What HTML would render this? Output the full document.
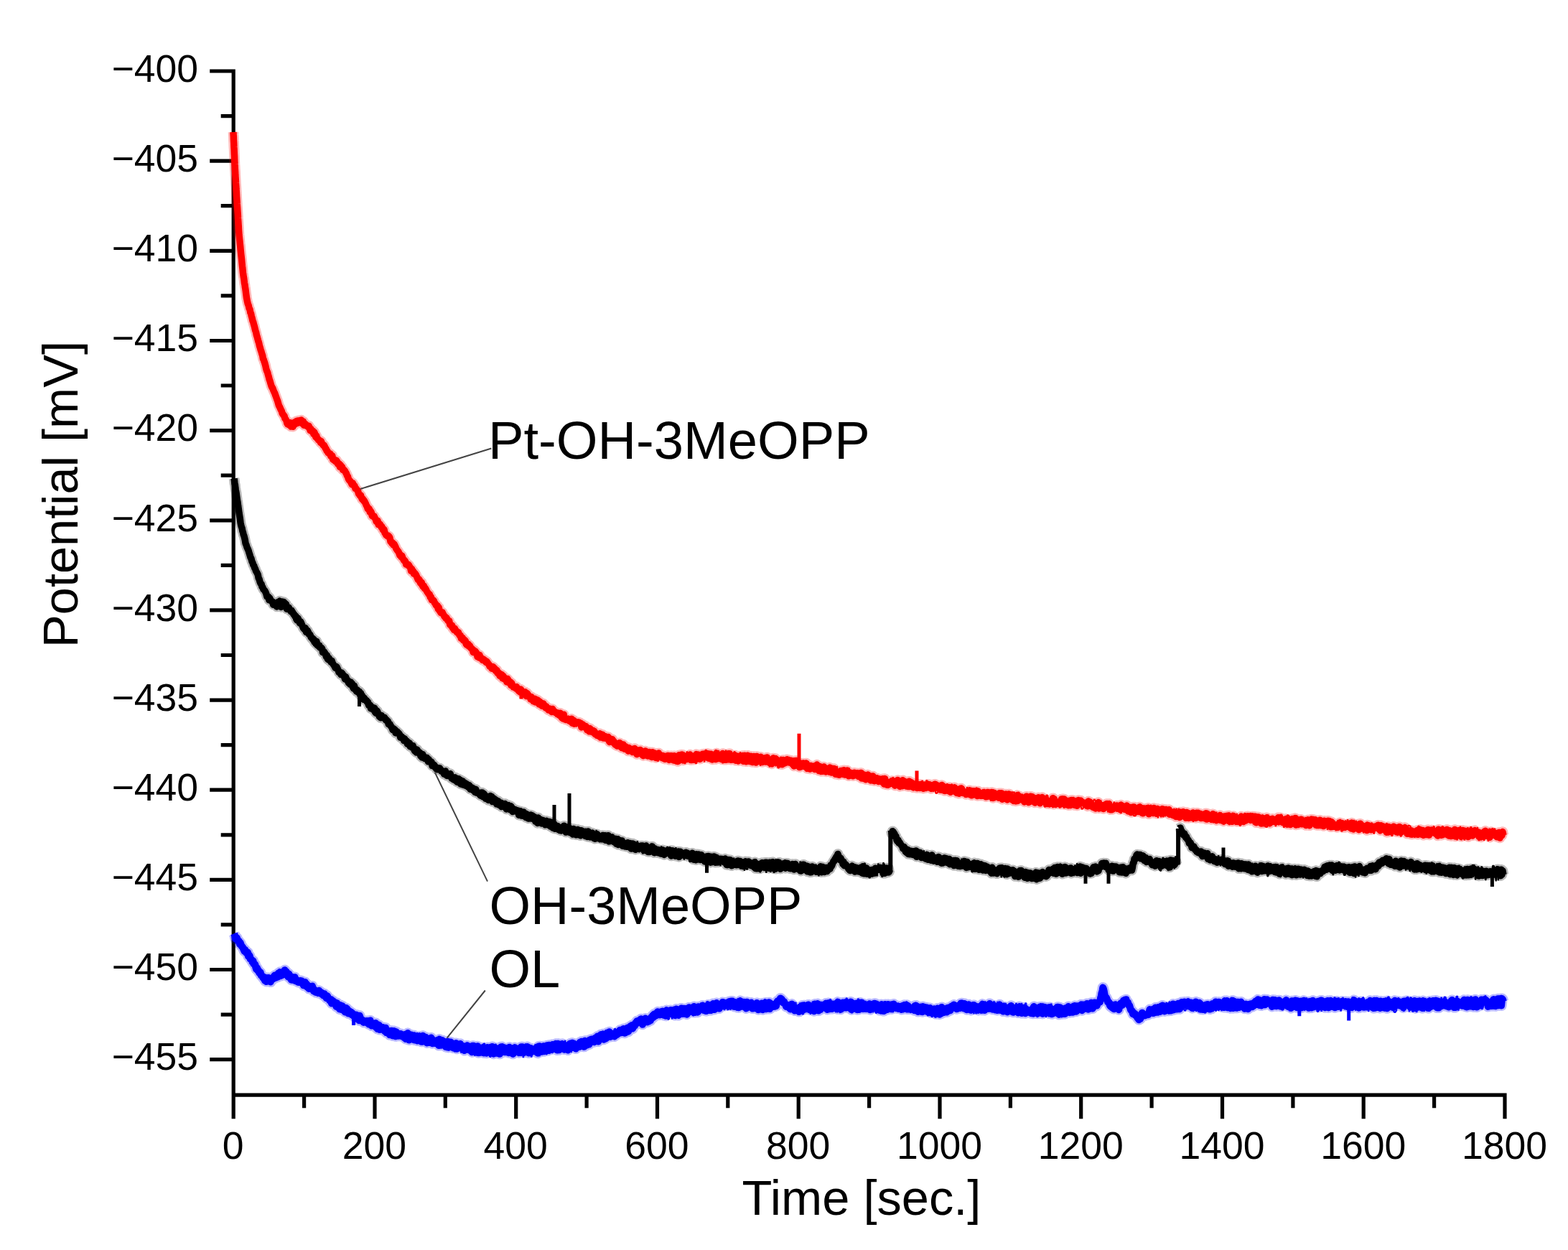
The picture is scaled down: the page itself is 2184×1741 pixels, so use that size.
<!DOCTYPE html>
<html><head><meta charset="utf-8"><title>Potential vs Time</title>
<style>html,body{margin:0;padding:0;background:#fff;overflow:hidden}svg{display:block}</style>
</head><body>
<svg width="2184" height="1741" viewBox="0 0 2184 1741"><rect width="2184" height="1741" fill="#fff"/><path d="M325.2,96.5V1558.2 M322.6,1525.2H2096.0 M2096.0,1522.6V1558.2 M292.2,99.0H325.2 M307.7,161.6H325.2 M292.2,224.2H325.2 M307.7,286.7H325.2 M292.2,349.3H325.2 M307.7,411.9H325.2 M292.2,474.5H325.2 M307.7,537.0H325.2 M292.2,599.6H325.2 M307.7,662.2H325.2 M292.2,724.8H325.2 M307.7,787.3H325.2 M292.2,849.9H325.2 M307.7,912.5H325.2 M292.2,975.1H325.2 M307.7,1037.6H325.2 M292.2,1100.2H325.2 M307.7,1162.8H325.2 M292.2,1225.4H325.2 M307.7,1287.9H325.2 M292.2,1350.5H325.2 M307.7,1413.1H325.2 M292.2,1475.7H325.2 M423.6,1525.2V1543.2 M522.0,1525.2V1558.2 M620.3,1525.2V1543.2 M718.7,1525.2V1558.2 M817.1,1525.2V1543.2 M915.5,1525.2V1558.2 M1013.8,1525.2V1543.2 M1112.2,1525.2V1558.2 M1210.6,1525.2V1543.2 M1309.0,1525.2V1558.2 M1407.4,1525.2V1543.2 M1505.7,1525.2V1558.2 M1604.1,1525.2V1543.2 M1702.5,1525.2V1558.2 M1800.9,1525.2V1543.2 M1899.2,1525.2V1558.2 M1997.6,1525.2V1543.2" stroke="#000" stroke-width="5.2" fill="none" stroke-linecap="butt"/><path d="M325.0,184.0 325.1,187.3 325.3,189.8 325.4,193.3 325.5,195.9 325.7,199.0 325.8,202.1 325.9,205.0 326.1,208.0 326.2,210.8 326.3,214.1 326.5,217.0 326.6,219.9 326.7,223.1 326.9,225.9 327.0,229.0 327.2,231.7 327.3,234.7 327.5,237.4 327.7,240.3 327.8,243.4 328.0,246.0 328.2,249.0 328.4,252.1 328.5,255.0 328.7,257.7 328.9,260.4 329.0,263.1 329.2,265.9 329.4,269.3 329.5,271.9 329.7,274.5 329.9,277.7 330.1,280.7 330.2,283.5 330.4,286.6 330.6,289.0 330.8,292.2 331.0,295.0 331.2,297.7 331.4,300.9 331.5,304.0 331.7,306.7 331.9,309.4 332.1,312.7 332.3,315.4 332.4,318.3 332.6,321.4 332.8,323.8 333.0,327.2 333.3,330.0 333.6,333.0 333.9,335.5 334.2,338.9 334.5,341.3 334.8,344.1 335.1,347.7 335.4,350.6 335.7,353.6 336.0,356.1 336.3,358.8 336.6,361.5 336.9,365.0 337.2,368.0 337.5,371.0 337.8,373.4 338.1,376.2 338.4,379.6 338.8,382.6 339.3,385.7 339.7,387.7 340.1,391.0 340.5,394.4 341.0,396.7 341.4,399.8 341.8,402.0 342.3,405.7 342.7,409.0 343.1,411.8 343.5,414.8 344.0,417.4 344.4,419.6 345.3,423.4 346.2,425.4 347.1,429.5 348.0,431.0 348.8,435.3 349.6,436.9 350.3,440.2 351.1,443.0 351.9,446.7 352.7,448.4 353.5,451.8 354.2,453.9 355.0,457.3 355.8,460.5 356.6,462.8 357.4,466.8 358.2,469.2 359.1,472.8 359.9,475.6 360.7,478.0 361.5,481.9 362.3,484.2 363.1,487.5 363.9,489.4 364.8,492.8 365.6,494.9 366.4,499.6 367.2,500.8 368.1,503.8 369.0,506.4 369.9,509.7 370.8,513.9 371.7,516.7 372.5,518.3 373.4,521.8 374.3,524.9 375.2,528.5 376.1,530.9 377.0,534.2 377.9,537.3 378.9,539.5 379.9,541.0 380.8,543.6 381.8,545.8 382.7,547.6 383.6,550.3 384.6,552.9 385.5,555.4 386.5,557.9 387.4,561.1 388.4,564.7 389.3,566.3 390.3,568.5 391.2,570.6 392.2,572.3 393.1,575.5 394.1,577.0 395.1,578.5 396.0,579.2 396.9,582.8 397.9,583.9 398.9,585.7 399.8,589.4 400.7,591.0 401.6,589.0 402.5,591.7 403.4,590.7 404.4,588.8 405.3,594.0 406.2,590.8 407.1,590.3 408.0,594.3 409.0,588.8 409.9,592.0 410.9,587.8 411.9,588.3 412.9,586.6 413.8,589.5 414.8,586.1 415.8,588.7 416.7,586.0 417.7,585.6 418.7,585.5 419.6,585.1 420.6,586.5 421.5,590.3 422.5,587.1 423.5,592.3 424.4,591.9 425.4,590.6 426.3,592.9 427.3,592.4 428.2,593.3 429.2,594.8 430.2,593.2 431.1,596.4 432.1,599.6 433.0,597.1 434.0,600.2 435.0,600.0 435.9,600.2 436.9,604.6 437.8,601.9 438.8,604.4 439.8,608.8 440.7,606.8 441.7,610.6 442.6,610.8 443.6,612.9 444.5,613.4 445.5,613.5 446.5,616.5 447.4,614.6 448.4,617.7 449.3,618.6 450.3,620.3 451.3,620.0 452.2,621.7 453.2,624.4 454.1,624.9 455.1,627.9 456.1,628.3 457.0,630.7 458.0,631.3 458.9,632.0 459.9,631.9 460.8,635.3 461.8,634.2 462.8,634.6 463.7,639.9 464.7,639.2 465.6,641.5 466.6,641.6 467.6,643.0 468.6,641.3 469.6,643.0 470.6,646.3 471.5,646.8 472.5,645.9 473.5,650.6 474.5,647.9 475.5,650.5 476.5,650.4 477.5,654.4 478.5,653.9 479.4,654.8 480.4,655.9 481.4,658.0 482.4,659.5 483.4,662.3 484.4,663.6 485.4,667.1 486.3,668.6 487.3,669.6 488.3,670.6 489.3,672.8 490.2,674.8 491.2,672.7 492.2,674.6 493.1,676.8 494.0,676.9 494.9,680.2 495.7,680.1 496.6,681.3 497.5,682.7 498.5,683.5 499.5,687.6 500.5,688.8 501.4,690.3 502.4,689.6 503.4,692.7 504.4,695.3 505.4,694.9 506.4,697.3 507.4,697.5 508.3,699.3 509.3,701.4 510.3,703.8 511.3,705.5 512.3,708.8 513.3,708.1 514.2,708.6 515.2,713.3 516.2,711.9 517.2,713.6 518.2,718.4 519.2,718.9 520.2,718.6 521.2,719.1 522.1,721.5 523.1,722.7 524.1,726.3 525.1,725.7 526.1,725.6 527.1,730.5 528.1,730.6 529.0,729.8 530.0,731.2 531.0,734.0 532.0,733.8 533.0,737.4 534.0,738.7 535.0,737.6 536.0,742.2 537.0,743.5 537.9,745.4 538.9,745.7 539.9,747.1 540.9,746.3 541.9,747.2 542.9,748.9 543.9,754.0 544.9,754.2 545.9,756.9 546.9,756.0 547.9,759.1 548.9,757.8 549.9,759.7 550.9,761.6 551.8,764.2 552.8,765.7 553.8,767.0 554.8,768.1 555.8,770.2 556.8,773.3 557.8,772.7 558.8,775.7 559.8,774.0 560.8,776.9 561.8,779.1 562.8,780.8 563.8,780.6 564.8,782.5 565.7,786.1 566.7,786.1 567.7,787.2 568.7,786.3 569.7,787.5 570.6,789.5 571.6,790.5 572.6,795.4 573.6,792.5 574.6,795.4 575.5,795.4 576.5,799.2 577.5,797.9 578.5,799.3 579.5,800.7 580.4,802.8 581.4,805.4 582.4,807.7 583.4,806.7 584.4,808.1 585.3,811.7 586.3,812.6 587.3,811.3 588.3,815.6 589.3,817.2 590.3,816.0 591.3,819.3 592.3,819.1 593.3,820.8 594.3,823.2 595.3,824.8 596.3,826.2 597.3,827.9 598.3,828.0 599.3,831.8 600.3,831.3 601.3,835.3 602.3,835.2 603.3,835.8 604.3,836.8 605.3,839.5 606.3,840.5 607.3,843.0 608.3,844.0 609.3,843.6 610.3,848.2 611.2,846.1 612.2,850.6 613.2,851.8 614.1,853.6 615.1,853.7 616.1,852.8 617.1,855.2 618.0,856.5 619.0,858.6 620.0,858.7 620.9,861.3 621.9,860.5 622.9,862.4 623.8,864.4 624.8,865.2 625.8,865.1 626.7,870.0 627.7,870.1 628.7,872.0 629.7,871.1 630.6,875.0 631.6,875.6 632.6,877.6 633.5,875.4 634.5,877.9 635.5,878.6 636.5,880.8 637.4,880.2 638.4,880.7 639.4,883.5 640.4,885.4 641.4,885.3 642.4,889.3 643.3,887.7 644.3,888.3 645.3,891.8 646.3,891.3 647.3,891.6 648.3,892.7 649.2,896.9 650.2,898.1 651.2,897.8 652.2,897.2 653.2,900.3 654.2,899.2 655.1,900.8 656.1,902.9 657.1,903.4 658.1,904.3 659.1,908.4 660.1,905.6 661.0,908.9 662.0,907.2 663.0,908.5 664.0,910.0 665.0,914.8 666.0,914.3 667.0,915.9 668.0,912.4 669.0,916.6 670.0,916.1 671.0,916.8 672.0,919.3 673.0,917.9 674.0,919.9 675.0,919.3 676.0,920.9 677.0,922.5 678.0,921.3 679.0,922.8 680.0,924.4 681.0,925.5 682.0,928.2 683.0,928.2 684.0,928.7 685.0,931.2 686.0,928.5 687.0,928.9 688.0,931.3 689.0,930.8 690.0,933.9 691.0,934.9 692.0,933.4 693.0,937.4 694.0,937.5 695.0,937.6 696.0,941.2 697.0,941.7 698.0,939.2 699.0,939.8 700.0,944.7 701.0,941.5 702.0,945.6 703.0,944.1 704.0,945.2 705.0,947.0 705.9,949.8 706.9,945.5 707.9,947.1 708.9,951.0 709.8,949.9 710.8,950.0 711.8,954.6 712.7,951.4 713.7,954.7 714.7,956.8 715.7,956.4 716.6,956.9 717.6,957.7 718.6,958.9 719.6,956.6 720.5,959.4 721.5,961.1 722.5,962.3 723.4,963.2 724.4,963.9 725.4,960.0 726.4,962.4 727.3,963.6 728.3,966.9 729.3,964.8 730.3,964.5 731.3,963.7 732.2,965.9 733.2,969.5 734.2,965.6 735.2,967.1 736.2,968.6 737.2,970.6 738.2,970.2 739.2,974.0 740.1,970.5 741.1,973.3 742.1,975.3 743.1,976.8 744.1,977.1 745.1,973.3 746.1,977.9 747.1,977.9 748.0,977.0 749.0,975.1 750.0,976.7 751.0,980.9 752.0,977.4 753.0,979.4 754.0,979.5 754.9,983.2 755.9,981.3 756.9,980.1 757.9,982.4 758.9,982.7 759.8,985.7 760.8,983.7 761.8,986.7 762.8,986.2 763.8,989.0 764.7,988.6 765.7,987.0 766.7,988.1 767.7,988.5 768.7,991.6 769.6,987.5 770.6,989.8 771.6,991.1 772.6,991.0 773.6,992.6 774.5,992.5 775.5,992.5 776.5,994.8 777.5,993.0 778.5,995.3 779.4,996.6 780.4,993.3 781.4,995.1 782.4,999.6 783.4,1000.3 784.3,1001.0 785.3,995.3 786.3,1000.9 787.3,1002.1 788.2,1002.4 789.2,1001.7 790.2,1002.0 791.2,1002.8 792.2,1002.4 793.1,1004.3 794.1,1002.9 795.1,1001.6 796.1,1001.3 797.1,1007.2 798.0,1006.7 799.0,1003.3 800.0,1008.2 801.0,1005.1 802.0,1007.8 803.0,1006.4 804.0,1005.9 805.0,1006.1 806.0,1005.9 806.9,1006.4 807.9,1006.8 808.9,1007.4 809.9,1012.9 810.9,1011.3 811.9,1009.1 812.9,1012.3 813.9,1012.8 814.9,1013.0 815.9,1011.5 816.9,1013.5 817.9,1016.9 818.8,1014.1 819.8,1015.4 820.8,1018.7 821.8,1014.5 822.8,1018.3 823.8,1017.1 824.8,1019.6 825.8,1017.3 826.7,1019.0 827.7,1018.4 828.7,1022.2 829.6,1023.0 830.6,1021.6 831.6,1024.4 832.6,1023.3 833.5,1024.5 834.5,1025.4 835.5,1021.8 836.4,1027.0 837.4,1023.6 838.4,1024.8 839.3,1023.3 840.3,1028.0 841.3,1025.3 842.2,1028.1 843.2,1025.6 844.2,1027.0 845.2,1027.7 846.1,1027.2 847.1,1026.4 848.1,1031.7 849.0,1033.4 850.0,1029.2 851.0,1029.3 852.0,1031.0 853.0,1029.8 854.0,1034.1 855.0,1032.7 856.0,1034.5 857.0,1037.3 858.0,1037.6 859.0,1038.5 860.0,1039.1 861.0,1037.3 862.0,1037.3 863.0,1034.7 864.0,1035.7 865.0,1039.0 866.0,1041.7 867.0,1039.4 868.0,1037.0 869.0,1038.9 870.0,1043.2 871.0,1039.6 872.0,1040.3 873.0,1041.5 874.0,1044.0 875.0,1046.0 876.0,1041.6 877.0,1044.8 878.0,1044.5 879.0,1044.1 880.0,1045.4 881.0,1047.5 882.0,1043.0 883.0,1045.5 884.0,1042.5 885.0,1046.1 886.0,1048.6 887.0,1050.5 888.0,1046.6 889.0,1045.4 890.0,1047.9 891.0,1046.5 892.0,1044.6 893.0,1048.2 894.0,1050.7 895.0,1051.7 896.0,1052.7 897.0,1047.9 898.0,1047.1 898.9,1046.0 899.9,1048.9 900.9,1052.2 901.9,1047.5 902.8,1052.9 903.8,1051.9 904.8,1047.6 905.7,1051.5 906.7,1053.3 907.7,1054.4 908.7,1047.8 909.6,1053.7 910.6,1053.5 911.6,1049.0 912.6,1049.6 913.5,1055.5 914.5,1050.5 915.5,1050.0 916.4,1053.9 917.4,1048.9 918.4,1052.1 919.4,1051.2 920.3,1052.9 921.3,1053.6 922.3,1054.1 923.3,1052.5 924.3,1056.5 925.2,1056.3 926.2,1057.3 927.2,1053.3 928.2,1055.9 929.2,1053.5 930.2,1052.4 931.1,1055.7 932.1,1058.4 933.1,1057.4 934.1,1053.1 935.1,1052.8 936.1,1057.7 937.0,1057.3 938.0,1058.9 939.0,1052.7 940.0,1059.3 941.0,1055.3 941.9,1053.8 942.9,1054.4 943.9,1060.5 944.8,1060.1 945.8,1051.8 946.7,1053.9 947.7,1057.8 948.7,1051.2 949.6,1051.1 950.6,1051.2 951.6,1059.1 952.5,1053.9 953.5,1053.7 954.5,1058.2 955.4,1053.6 956.4,1057.6 957.4,1054.0 958.3,1053.3 959.3,1054.1 960.2,1052.0 961.2,1051.1 962.2,1058.6 963.1,1058.5 964.1,1054.6 965.1,1056.7 966.0,1058.3 967.0,1053.8 968.0,1056.7 968.9,1057.0 969.9,1050.6 970.8,1051.1 971.8,1056.8 972.8,1056.3 973.7,1051.4 974.7,1057.2 975.7,1056.9 976.6,1052.5 977.6,1052.5 978.6,1050.3 979.5,1053.3 980.5,1050.1 981.5,1054.1 982.4,1054.8 983.4,1054.3 984.3,1049.5 985.3,1054.6 986.3,1055.7 987.2,1049.9 988.2,1054.1 989.2,1056.3 990.1,1050.3 991.1,1057.3 992.1,1057.9 993.0,1055.4 994.0,1057.0 995.0,1051.1 995.9,1055.0 996.9,1057.6 997.9,1049.0 998.8,1056.6 999.8,1050.9 1000.8,1056.5 1001.8,1054.9 1002.7,1056.5 1003.7,1052.6 1004.7,1053.1 1005.6,1057.8 1006.6,1049.5 1007.6,1050.4 1008.5,1058.2 1009.5,1057.7 1010.5,1050.4 1011.4,1058.3 1012.4,1051.6 1013.4,1057.6 1014.3,1057.8 1015.3,1049.7 1016.3,1049.7 1017.2,1052.7 1018.2,1058.3 1019.1,1057.1 1020.1,1053.5 1021.1,1057.9 1022.0,1053.0 1023.0,1053.5 1024.0,1052.1 1024.9,1059.2 1025.9,1057.9 1026.9,1054.9 1027.8,1053.2 1028.8,1059.7 1029.8,1054.6 1030.7,1053.0 1031.7,1055.0 1032.6,1057.8 1033.6,1058.4 1034.6,1052.5 1035.5,1060.2 1036.5,1057.8 1037.5,1052.3 1038.4,1059.5 1039.4,1060.8 1040.4,1059.7 1041.3,1052.2 1042.3,1056.5 1043.2,1057.7 1044.2,1060.5 1045.2,1057.1 1046.1,1053.3 1047.1,1061.2 1048.1,1061.5 1049.0,1057.3 1050.0,1053.5 1051.0,1060.7 1051.9,1059.9 1052.9,1062.1 1053.9,1053.4 1054.8,1057.4 1055.8,1056.2 1056.7,1054.6 1057.7,1060.5 1058.7,1057.0 1059.6,1054.3 1060.6,1055.3 1061.6,1061.5 1062.5,1059.8 1063.5,1056.3 1064.5,1060.8 1065.4,1055.7 1066.4,1060.8 1067.3,1060.7 1068.3,1054.9 1069.3,1059.6 1070.2,1061.6 1071.2,1062.0 1072.2,1061.6 1073.1,1063.3 1074.1,1062.3 1075.1,1063.9 1076.0,1059.4 1077.0,1056.0 1078.0,1057.4 1078.9,1058.5 1079.9,1056.4 1080.8,1057.1 1081.8,1060.9 1082.8,1058.6 1083.7,1059.0 1084.7,1063.2 1085.7,1064.3 1086.6,1064.5 1087.6,1060.1 1088.6,1063.3 1089.5,1064.7 1090.5,1058.4 1091.4,1058.9 1092.4,1063.1 1093.4,1059.7 1094.3,1059.2 1095.3,1060.9 1096.3,1057.8 1097.2,1061.7 1098.2,1058.2 1099.2,1060.1 1100.1,1060.0 1101.1,1061.1 1102.1,1059.3 1103.0,1062.6 1104.0,1064.6 1104.9,1061.6 1105.9,1066.9 1106.9,1066.4 1107.8,1061.6 1108.8,1059.4 1109.8,1065.9 1110.7,1061.5 1111.7,1062.5 1112.7,1064.8 1113.6,1068.6 1114.6,1062.9 1115.6,1064.5 1116.5,1066.0 1117.5,1066.7 1118.5,1062.9 1119.4,1066.3 1120.4,1066.1 1121.4,1067.2 1122.4,1062.9 1123.3,1063.2 1124.3,1070.4 1125.3,1069.3 1126.2,1069.6 1127.2,1070.7 1128.2,1071.1 1129.1,1066.5 1130.1,1069.7 1131.1,1069.0 1132.0,1068.5 1133.0,1069.7 1134.0,1066.9 1134.9,1071.6 1135.9,1068.0 1136.9,1066.1 1137.8,1065.1 1138.8,1070.5 1139.7,1067.3 1140.7,1073.6 1141.7,1067.4 1142.6,1068.6 1143.6,1074.4 1144.6,1070.7 1145.5,1074.3 1146.5,1073.3 1147.5,1068.0 1148.4,1069.0 1149.4,1070.6 1150.4,1074.9 1151.3,1070.5 1152.3,1071.8 1153.2,1072.2 1154.2,1071.0 1155.2,1075.1 1156.1,1069.1 1157.1,1070.8 1158.1,1076.0 1159.0,1074.4 1160.0,1073.6 1161.0,1072.6 1161.9,1070.6 1162.9,1073.6 1163.8,1078.3 1164.8,1075.1 1165.8,1075.1 1166.7,1078.8 1167.7,1078.0 1168.7,1079.2 1169.6,1078.9 1170.6,1076.6 1171.6,1073.6 1172.5,1076.5 1173.5,1074.2 1174.5,1078.4 1175.4,1072.7 1176.4,1075.7 1177.3,1079.1 1178.3,1075.9 1179.3,1077.3 1180.2,1073.1 1181.2,1074.9 1182.2,1080.8 1183.2,1078.4 1184.2,1076.1 1185.2,1077.6 1186.1,1080.0 1187.1,1080.3 1188.1,1080.8 1189.1,1076.5 1190.1,1076.2 1191.1,1079.8 1192.1,1079.0 1193.1,1079.5 1194.1,1076.8 1195.1,1077.8 1196.0,1081.6 1197.0,1078.6 1198.0,1082.0 1199.0,1076.4 1200.0,1084.0 1201.0,1078.2 1202.0,1080.6 1203.0,1084.5 1204.0,1079.3 1204.9,1079.4 1205.9,1085.7 1206.9,1085.3 1207.9,1082.6 1208.9,1079.1 1209.9,1083.7 1210.9,1081.1 1211.9,1081.1 1212.8,1087.0 1213.8,1084.8 1214.8,1083.6 1215.8,1080.9 1216.8,1083.6 1217.8,1087.8 1218.8,1083.5 1219.8,1083.9 1220.8,1086.5 1221.7,1083.9 1222.7,1086.6 1223.7,1088.5 1224.7,1084.9 1225.7,1086.7 1226.7,1087.7 1227.7,1086.3 1228.7,1085.4 1229.6,1084.7 1230.6,1088.7 1231.6,1092.0 1232.6,1084.6 1233.6,1092.0 1234.6,1093.0 1235.6,1089.5 1236.6,1093.3 1237.6,1091.1 1238.6,1089.8 1239.5,1089.2 1240.5,1089.3 1241.5,1091.3 1242.5,1087.4 1243.5,1091.8 1244.5,1089.9 1245.5,1091.7 1246.5,1094.2 1247.5,1087.8 1248.5,1089.5 1249.5,1088.4 1250.4,1086.5 1251.4,1091.8 1252.4,1091.9 1253.4,1095.4 1254.4,1091.9 1255.4,1090.1 1256.4,1094.8 1257.4,1086.8 1258.4,1089.5 1259.4,1093.7 1260.4,1088.5 1261.3,1090.4 1262.3,1094.9 1263.3,1090.4 1264.3,1089.6 1265.3,1095.6 1266.3,1088.3 1267.3,1095.5 1268.3,1090.6 1269.3,1089.8 1270.3,1092.4 1271.3,1092.5 1272.2,1096.9 1273.2,1095.1 1274.2,1092.5 1275.2,1093.5 1276.2,1091.5 1277.2,1097.5 1278.2,1092.3 1279.2,1096.9 1280.2,1095.0 1281.2,1097.4 1282.2,1092.5 1283.1,1093.2 1284.1,1092.9 1285.1,1097.1 1286.1,1098.3 1287.1,1097.3 1288.1,1094.1 1289.1,1097.6 1290.1,1096.9 1291.1,1095.1 1292.1,1092.3 1293.1,1092.9 1294.0,1097.1 1295.0,1092.8 1296.0,1096.1 1297.0,1098.4 1298.0,1097.2 1299.0,1096.9 1300.0,1093.9 1301.0,1092.8 1302.0,1092.2 1303.0,1092.4 1304.0,1094.2 1304.9,1097.2 1305.9,1096.1 1306.9,1094.3 1307.9,1095.3 1308.9,1096.9 1309.9,1100.0 1310.9,1098.8 1311.9,1093.5 1312.9,1097.5 1313.9,1095.0 1314.9,1101.1 1315.8,1101.5 1316.8,1098.7 1317.8,1100.4 1318.8,1100.1 1319.8,1101.4 1320.8,1096.8 1321.8,1096.5 1322.8,1101.2 1323.8,1103.2 1324.8,1096.9 1325.8,1100.0 1326.7,1100.0 1327.7,1098.6 1328.7,1102.1 1329.7,1096.8 1330.7,1099.1 1331.7,1099.7 1332.7,1104.4 1333.7,1102.2 1334.7,1102.6 1335.7,1105.3 1336.7,1098.7 1337.6,1102.1 1338.6,1097.9 1339.6,1098.6 1340.6,1103.4 1341.6,1104.6 1342.6,1103.1 1343.6,1102.8 1344.6,1104.8 1345.6,1106.4 1346.6,1106.2 1347.6,1105.4 1348.5,1102.2 1349.5,1105.3 1350.5,1100.8 1351.5,1106.8 1352.5,1101.5 1353.5,1107.8 1354.5,1102.0 1355.5,1101.8 1356.5,1102.6 1357.5,1104.0 1358.5,1101.7 1359.4,1102.4 1360.4,1108.0 1361.4,1108.5 1362.4,1101.9 1363.4,1104.5 1364.4,1104.5 1365.4,1108.2 1366.4,1106.9 1367.4,1104.8 1368.4,1108.3 1369.4,1106.8 1370.3,1103.4 1371.3,1108.7 1372.3,1105.9 1373.3,1109.8 1374.3,1107.9 1375.3,1103.5 1376.3,1109.0 1377.3,1107.5 1378.3,1107.3 1379.3,1106.4 1380.3,1108.6 1381.2,1103.4 1382.2,1107.5 1383.2,1111.4 1384.2,1105.1 1385.2,1104.6 1386.2,1107.2 1387.2,1108.2 1388.2,1107.1 1389.2,1108.2 1390.2,1110.0 1391.2,1111.2 1392.1,1104.7 1393.1,1107.8 1394.1,1110.0 1395.1,1104.8 1396.1,1113.2 1397.1,1110.6 1398.1,1109.3 1399.1,1109.1 1400.1,1106.6 1401.1,1106.0 1402.1,1111.6 1403.0,1113.9 1404.0,1112.8 1405.0,1106.0 1406.0,1106.3 1407.0,1110.7 1408.0,1111.4 1409.0,1111.8 1410.0,1114.3 1411.0,1114.6 1412.0,1115.5 1413.0,1109.7 1413.9,1111.0 1414.9,1115.9 1415.9,1113.3 1416.9,1107.6 1417.9,1115.4 1418.9,1112.8 1419.9,1109.1 1420.9,1110.6 1421.9,1112.8 1422.9,1113.6 1423.9,1111.5 1424.8,1114.6 1425.8,1112.8 1426.8,1116.9 1427.8,1115.9 1428.8,1109.6 1429.8,1109.2 1430.8,1116.2 1431.8,1114.0 1432.8,1117.5 1433.8,1112.7 1434.8,1110.4 1435.7,1109.2 1436.7,1116.0 1437.7,1109.8 1438.7,1115.0 1439.7,1114.4 1440.7,1116.1 1441.7,1118.1 1442.7,1111.7 1443.7,1114.1 1444.7,1116.6 1445.7,1111.7 1446.6,1110.8 1447.6,1111.3 1448.6,1118.7 1449.6,1117.5 1450.6,1112.2 1451.6,1110.5 1452.6,1116.3 1453.6,1113.5 1454.6,1112.7 1455.6,1112.5 1456.6,1115.1 1457.5,1114.0 1458.5,1119.6 1459.5,1116.2 1460.5,1119.4 1461.5,1119.7 1462.5,1119.5 1463.5,1115.9 1464.5,1116.7 1465.5,1116.4 1466.5,1111.7 1467.5,1120.3 1468.4,1113.0 1469.4,1116.8 1470.4,1118.1 1471.4,1119.2 1472.4,1117.0 1473.4,1117.9 1474.4,1119.8 1475.4,1118.1 1476.4,1118.4 1477.4,1120.2 1478.4,1113.1 1479.3,1117.3 1480.3,1112.8 1481.3,1114.0 1482.3,1112.9 1483.3,1120.8 1484.3,1115.9 1485.3,1117.7 1486.3,1120.3 1487.3,1119.5 1488.3,1121.7 1489.3,1117.8 1490.2,1119.8 1491.2,1121.4 1492.2,1114.4 1493.2,1117.9 1494.2,1114.4 1495.2,1118.8 1496.2,1116.7 1497.2,1121.6 1498.2,1118.3 1499.2,1115.6 1500.2,1122.2 1501.1,1118.2 1502.1,1114.6 1503.1,1117.0 1504.1,1118.1 1505.1,1115.0 1506.1,1116.1 1507.1,1117.7 1508.1,1118.1 1509.1,1119.1 1510.1,1118.0 1511.1,1118.3 1512.0,1119.7 1513.0,1118.8 1514.0,1122.5 1515.0,1122.9 1516.0,1116.0 1517.0,1117.4 1518.0,1117.0 1519.0,1119.4 1520.0,1119.5 1521.0,1123.2 1522.0,1123.1 1522.9,1124.6 1523.9,1122.9 1524.9,1122.2 1525.9,1125.9 1526.9,1122.8 1527.9,1120.6 1528.9,1119.9 1529.9,1117.6 1530.9,1125.9 1531.9,1124.3 1532.9,1121.0 1533.8,1125.6 1534.8,1124.7 1535.8,1122.1 1536.8,1126.6 1537.8,1126.1 1538.8,1122.2 1539.8,1122.2 1540.8,1119.8 1541.8,1119.5 1542.8,1121.9 1543.8,1120.8 1544.7,1119.6 1545.7,1125.7 1546.7,1127.8 1547.7,1125.5 1548.7,1127.6 1549.7,1127.3 1550.7,1125.5 1551.7,1124.5 1552.7,1123.2 1553.7,1124.5 1554.7,1123.1 1555.6,1121.9 1556.6,1124.9 1557.6,1126.5 1558.6,1125.9 1559.6,1127.4 1560.6,1123.9 1561.6,1121.1 1562.6,1123.1 1563.6,1123.9 1564.6,1126.4 1565.6,1125.0 1566.5,1127.5 1567.5,1123.8 1568.5,1126.1 1569.5,1122.1 1570.5,1128.3 1571.5,1130.0 1572.5,1130.1 1573.5,1130.3 1574.5,1124.4 1575.5,1131.5 1576.5,1127.8 1577.4,1124.7 1578.4,1123.9 1579.4,1123.9 1580.4,1129.1 1581.4,1129.1 1582.4,1130.7 1583.4,1129.6 1584.4,1128.4 1585.4,1125.2 1586.4,1130.6 1587.4,1123.9 1588.3,1130.0 1589.3,1125.5 1590.3,1125.5 1591.3,1132.6 1592.3,1132.8 1593.3,1131.0 1594.3,1126.5 1595.3,1128.8 1596.3,1127.7 1597.3,1125.7 1598.3,1126.9 1599.2,1125.3 1600.2,1133.8 1601.2,1127.1 1602.2,1128.6 1603.2,1127.3 1604.2,1131.2 1605.2,1130.4 1606.2,1132.4 1607.2,1125.4 1608.2,1127.3 1609.2,1131.0 1610.1,1130.9 1611.1,1133.3 1612.1,1126.5 1613.1,1129.2 1614.1,1129.6 1615.1,1130.7 1616.1,1129.3 1617.1,1132.9 1618.1,1127.1 1619.1,1126.8 1620.1,1129.2 1621.0,1127.3 1622.0,1130.1 1623.0,1131.9 1624.0,1127.5 1625.0,1131.0 1626.0,1131.9 1627.0,1132.2 1628.0,1127.7 1629.0,1134.3 1630.0,1134.1 1631.0,1130.6 1632.0,1132.3 1633.0,1134.7 1634.0,1135.7 1635.0,1130.9 1636.0,1135.6 1637.0,1132.8 1638.0,1137.6 1639.0,1137.1 1640.0,1132.7 1641.0,1132.8 1642.0,1134.0 1643.0,1138.4 1644.0,1131.1 1644.9,1134.9 1645.9,1135.8 1646.9,1136.6 1647.9,1130.7 1648.9,1135.7 1649.9,1134.4 1650.9,1133.4 1651.9,1139.3 1652.9,1131.4 1653.8,1137.1 1654.8,1132.5 1655.8,1139.4 1656.8,1135.4 1657.8,1135.0 1658.8,1133.2 1659.8,1136.0 1660.8,1139.1 1661.7,1131.9 1662.7,1137.3 1663.7,1132.7 1664.7,1133.5 1665.7,1139.4 1666.7,1132.3 1667.7,1138.4 1668.7,1132.3 1669.7,1136.5 1670.6,1137.7 1671.6,1133.4 1672.6,1139.5 1673.6,1134.2 1674.6,1136.6 1675.6,1134.6 1676.6,1139.5 1677.6,1134.8 1678.6,1135.0 1679.5,1132.8 1680.5,1141.1 1681.5,1133.1 1682.5,1135.8 1683.5,1139.0 1684.5,1136.1 1685.5,1138.7 1686.5,1136.6 1687.4,1141.4 1688.4,1134.9 1689.4,1133.7 1690.4,1134.5 1691.4,1138.5 1692.4,1139.2 1693.4,1141.5 1694.4,1142.7 1695.4,1137.7 1696.3,1141.7 1697.3,1137.9 1698.3,1137.6 1699.3,1135.5 1700.3,1142.4 1701.3,1137.5 1702.3,1140.5 1703.3,1139.3 1704.3,1143.9 1705.2,1137.0 1706.2,1139.8 1707.2,1142.1 1708.2,1136.6 1709.2,1142.6 1710.2,1140.1 1711.2,1135.9 1712.2,1144.1 1713.2,1138.9 1714.1,1139.6 1715.1,1142.6 1716.1,1144.3 1717.1,1137.6 1718.1,1136.6 1719.1,1142.4 1720.1,1141.9 1721.1,1139.7 1722.0,1141.7 1723.0,1144.5 1724.0,1143.6 1725.0,1141.1 1726.0,1144.4 1727.0,1144.5 1728.0,1143.2 1729.0,1137.1 1730.0,1141.4 1730.9,1141.8 1731.9,1144.5 1732.9,1141.1 1733.9,1142.1 1734.9,1143.1 1735.9,1137.2 1736.9,1137.0 1737.9,1136.8 1738.9,1137.6 1739.8,1139.1 1740.8,1137.2 1741.8,1142.4 1742.8,1142.2 1743.8,1141.2 1744.8,1137.0 1745.8,1141.9 1746.8,1138.2 1747.7,1137.2 1748.7,1144.7 1749.7,1145.8 1750.7,1138.0 1751.7,1143.6 1752.7,1137.9 1753.7,1143.0 1754.7,1143.4 1755.7,1143.1 1756.6,1147.0 1757.6,1143.5 1758.6,1139.3 1759.6,1146.7 1760.6,1140.7 1761.6,1143.0 1762.6,1142.0 1763.6,1145.7 1764.6,1138.8 1765.5,1141.5 1766.5,1142.3 1767.5,1143.8 1768.5,1146.8 1769.5,1141.0 1770.5,1141.5 1771.5,1144.7 1772.5,1140.3 1773.5,1143.2 1774.4,1141.4 1775.4,1144.4 1776.4,1144.0 1777.4,1145.1 1778.4,1142.6 1779.4,1140.8 1780.4,1138.7 1781.4,1144.4 1782.3,1140.8 1783.3,1138.7 1784.3,1142.3 1785.3,1141.4 1786.3,1145.4 1787.3,1141.7 1788.3,1142.4 1789.3,1145.9 1790.3,1145.5 1791.2,1140.6 1792.2,1144.7 1793.2,1148.1 1794.2,1147.9 1795.2,1147.3 1796.2,1141.9 1797.2,1148.5 1798.2,1141.2 1799.2,1143.2 1800.1,1140.5 1801.1,1144.8 1802.1,1146.4 1803.1,1146.1 1804.1,1139.6 1805.1,1149.0 1806.1,1142.6 1807.1,1146.8 1808.0,1148.6 1809.0,1147.2 1810.0,1144.8 1811.0,1145.0 1812.0,1141.2 1813.0,1143.6 1814.0,1147.8 1815.0,1146.5 1816.0,1146.4 1816.9,1146.6 1817.9,1143.5 1818.9,1149.5 1819.9,1143.4 1820.9,1142.1 1821.9,1146.7 1822.9,1142.1 1823.9,1149.7 1824.8,1146.0 1825.8,1141.9 1826.8,1141.1 1827.8,1146.5 1828.8,1141.4 1829.8,1141.6 1830.8,1145.0 1831.7,1145.4 1832.7,1149.0 1833.7,1142.7 1834.7,1149.6 1835.7,1145.4 1836.7,1149.6 1837.6,1143.2 1838.6,1142.3 1839.6,1146.0 1840.6,1144.0 1841.6,1146.5 1842.6,1149.8 1843.6,1150.5 1844.5,1143.2 1845.5,1144.8 1846.5,1145.4 1847.5,1144.2 1848.5,1147.0 1849.5,1143.3 1850.5,1144.7 1851.4,1143.6 1852.4,1147.3 1853.4,1151.8 1854.4,1144.6 1855.4,1151.5 1856.4,1146.3 1857.3,1150.4 1858.3,1151.3 1859.3,1149.2 1860.3,1150.4 1861.3,1149.6 1862.3,1152.5 1863.3,1151.2 1864.2,1147.9 1865.2,1146.8 1866.2,1145.7 1867.2,1149.0 1868.2,1146.5 1869.2,1146.6 1870.2,1152.7 1871.1,1151.1 1872.1,1149.7 1873.1,1152.6 1874.1,1149.7 1875.1,1148.6 1876.1,1151.4 1877.0,1150.8 1878.0,1147.2 1879.0,1148.3 1880.0,1150.6 1881.0,1147.5 1882.0,1154.0 1883.0,1146.1 1883.9,1153.8 1884.9,1154.9 1885.9,1151.6 1886.9,1148.0 1887.9,1153.6 1888.9,1150.3 1889.9,1152.9 1890.9,1149.4 1891.8,1148.6 1892.8,1155.4 1893.8,1147.4 1894.8,1147.3 1895.8,1154.1 1896.8,1154.1 1897.8,1149.9 1898.8,1150.6 1899.7,1153.6 1900.7,1152.9 1901.7,1153.4 1902.7,1151.5 1903.7,1156.6 1904.7,1149.1 1905.7,1153.6 1906.7,1149.8 1907.6,1151.1 1908.6,1150.8 1909.6,1155.8 1910.6,1153.6 1911.6,1151.4 1912.6,1153.4 1913.6,1152.8 1914.5,1153.6 1915.5,1150.9 1916.5,1152.3 1917.5,1153.1 1918.5,1149.8 1919.5,1149.3 1920.5,1154.7 1921.5,1151.2 1922.4,1156.7 1923.4,1149.7 1924.4,1151.6 1925.4,1155.4 1926.4,1151.0 1927.4,1153.7 1928.4,1152.7 1929.4,1152.5 1930.3,1152.3 1931.3,1159.2 1932.3,1153.2 1933.3,1151.5 1934.3,1158.9 1935.3,1152.0 1936.3,1157.4 1937.3,1156.8 1938.2,1157.4 1939.2,1158.0 1940.2,1152.6 1941.2,1151.3 1942.2,1155.1 1943.2,1155.3 1944.2,1153.4 1945.2,1158.8 1946.2,1152.4 1947.1,1156.1 1948.1,1156.4 1949.1,1151.7 1950.1,1159.2 1951.1,1155.1 1952.1,1156.1 1953.1,1153.4 1954.1,1155.7 1955.1,1156.3 1956.0,1157.7 1957.0,1152.6 1958.0,1156.3 1959.0,1156.9 1960.0,1161.3 1961.0,1158.1 1962.0,1159.0 1963.0,1156.8 1964.0,1157.4 1964.9,1162.0 1965.9,1156.8 1966.9,1162.2 1967.9,1158.7 1968.9,1161.7 1969.9,1158.6 1970.9,1160.9 1971.9,1161.0 1972.9,1157.1 1973.8,1156.6 1974.8,1162.3 1975.8,1156.8 1976.8,1161.1 1977.8,1155.5 1978.8,1158.5 1979.8,1157.5 1980.8,1156.6 1981.8,1156.4 1982.7,1163.3 1983.7,1160.6 1984.7,1158.7 1985.7,1159.8 1986.7,1162.5 1987.7,1160.9 1988.7,1155.7 1989.7,1156.5 1990.6,1163.1 1991.6,1159.9 1992.6,1160.2 1993.6,1156.1 1994.6,1155.9 1995.6,1156.7 1996.6,1157.8 1997.6,1160.1 1998.5,1158.3 1999.5,1161.3 2000.5,1158.9 2001.5,1159.7 2002.5,1164.0 2003.5,1155.2 2004.5,1161.0 2005.5,1162.0 2006.4,1156.6 2007.4,1163.3 2008.4,1156.1 2009.4,1162.8 2010.4,1156.8 2011.4,1159.1 2012.4,1158.9 2013.3,1160.6 2014.3,1161.2 2015.3,1155.5 2016.3,1163.0 2017.3,1160.3 2018.3,1164.1 2019.3,1156.8 2020.3,1159.5 2021.2,1164.5 2022.2,1161.4 2023.2,1160.2 2024.2,1159.9 2025.2,1164.3 2026.2,1155.4 2027.2,1165.0 2028.2,1160.0 2029.1,1163.4 2030.1,1160.2 2031.1,1163.6 2032.1,1156.5 2033.1,1159.7 2034.1,1163.1 2035.1,1165.3 2036.1,1160.6 2037.0,1156.4 2038.0,1162.9 2039.0,1162.0 2040.0,1157.2 2041.0,1157.8 2042.0,1160.7 2043.0,1157.5 2044.0,1164.8 2045.0,1165.5 2046.0,1163.3 2047.0,1164.2 2048.0,1159.3 2049.0,1157.2 2050.0,1163.2 2051.0,1163.9 2052.0,1162.9 2053.0,1158.0 2054.0,1156.6 2055.0,1161.7 2056.0,1157.9 2057.0,1159.3 2058.0,1161.1 2059.0,1158.9 2060.0,1165.5 2061.0,1159.7 2062.0,1162.0 2063.0,1166.0 2064.0,1163.2 2065.0,1160.5 2066.0,1164.0 2067.0,1158.7 2068.0,1157.9 2069.0,1157.3 2070.0,1163.4 2071.0,1163.3 2072.0,1163.5 2073.0,1163.6 2074.0,1162.7 2075.0,1166.2 2076.0,1161.6 2077.0,1158.4 2078.0,1159.7 2079.0,1161.2 2080.0,1163.2 2081.0,1160.8 2082.0,1161.6 2083.0,1160.3 2084.0,1164.5 2085.0,1165.7 2086.0,1160.8 2087.0,1165.3 2088.0,1159.5 2089.0,1167.1 2090.0,1161.1 2091.0,1164.2 2092.0,1163.6 2093.0,1158.6 2094.0,1163.5" stroke="#ff0000" stroke-opacity="0.28" stroke-width="14.5" fill="none" stroke-linejoin="round" stroke-linecap="butt"/>
<path d="M325.0,184.0 325.1,187.3 325.3,189.8 325.4,193.3 325.5,195.9 325.7,199.0 325.8,202.1 325.9,205.0 326.1,208.0 326.2,210.8 326.3,214.1 326.5,217.0 326.6,219.9 326.7,223.1 326.9,225.9 327.0,229.0 327.2,231.7 327.3,234.7 327.5,237.4 327.7,240.3 327.8,243.4 328.0,246.0 328.2,249.0 328.4,252.1 328.5,255.0 328.7,257.7 328.9,260.4 329.0,263.1 329.2,265.9 329.4,269.3 329.5,271.9 329.7,274.5 329.9,277.7 330.1,280.7 330.2,283.5 330.4,286.6 330.6,289.0 330.8,292.2 331.0,295.0 331.2,297.7 331.4,300.9 331.5,304.0 331.7,306.7 331.9,309.4 332.1,312.7 332.3,315.4 332.4,318.3 332.6,321.4 332.8,323.8 333.0,327.2 333.3,330.0 333.6,333.0 333.9,335.5 334.2,338.9 334.5,341.3 334.8,344.1 335.1,347.7 335.4,350.6 335.7,353.6 336.0,356.1 336.3,358.8 336.6,361.5 336.9,365.0 337.2,368.0 337.5,371.0 337.8,373.4 338.1,376.2 338.4,379.6 338.8,382.6 339.3,385.7 339.7,387.7 340.1,391.0 340.5,394.4 341.0,396.7 341.4,399.8 341.8,402.0 342.3,405.7 342.7,409.0 343.1,411.8 343.5,414.8 344.0,417.4 344.4,419.6 345.3,423.4 346.2,425.4 347.1,429.5 348.0,431.0 348.8,435.3 349.6,436.9 350.3,440.2 351.1,443.0 351.9,446.7 352.7,448.4 353.5,451.8 354.2,453.9 355.0,457.3 355.8,460.5 356.6,462.8 357.4,466.8 358.2,469.2 359.1,472.8 359.9,475.6 360.7,478.0 361.5,481.9 362.3,484.2 363.1,487.5 363.9,489.4 364.8,492.8 365.6,494.9 366.4,499.6 367.2,500.8 368.1,503.8 369.0,506.4 369.9,509.7 370.8,513.9 371.7,516.7 372.5,518.3 373.4,521.8 374.3,524.9 375.2,528.5 376.1,530.9 377.0,534.2 377.9,537.3 378.9,539.5 379.9,541.0 380.8,543.6 381.8,545.8 382.7,547.6 383.6,550.3 384.6,552.9 385.5,555.4 386.5,557.9 387.4,561.1 388.4,564.7 389.3,566.3 390.3,568.5 391.2,570.6 392.2,572.3 393.1,575.5 394.1,577.0 395.1,578.5 396.0,579.2 396.9,582.8 397.9,583.9 398.9,585.7 399.8,589.4 400.7,591.0 401.6,589.0 402.5,591.7 403.4,590.7 404.4,588.8 405.3,594.0 406.2,590.8 407.1,590.3 408.0,594.3 409.0,588.8 409.9,592.0 410.9,587.8 411.9,588.3 412.9,586.6 413.8,589.5 414.8,586.1 415.8,588.7 416.7,586.0 417.7,585.6 418.7,585.5 419.6,585.1 420.6,586.5 421.5,590.3 422.5,587.1 423.5,592.3 424.4,591.9 425.4,590.6 426.3,592.9 427.3,592.4 428.2,593.3 429.2,594.8 430.2,593.2 431.1,596.4 432.1,599.6 433.0,597.1 434.0,600.2 435.0,600.0 435.9,600.2 436.9,604.6 437.8,601.9 438.8,604.4 439.8,608.8 440.7,606.8 441.7,610.6 442.6,610.8 443.6,612.9 444.5,613.4 445.5,613.5 446.5,616.5 447.4,614.6 448.4,617.7 449.3,618.6 450.3,620.3 451.3,620.0 452.2,621.7 453.2,624.4 454.1,624.9 455.1,627.9 456.1,628.3 457.0,630.7 458.0,631.3 458.9,632.0 459.9,631.9 460.8,635.3 461.8,634.2 462.8,634.6 463.7,639.9 464.7,639.2 465.6,641.5 466.6,641.6 467.6,643.0 468.6,641.3 469.6,643.0 470.6,646.3 471.5,646.8 472.5,645.9 473.5,650.6 474.5,647.9 475.5,650.5 476.5,650.4 477.5,654.4 478.5,653.9 479.4,654.8 480.4,655.9 481.4,658.0 482.4,659.5 483.4,662.3 484.4,663.6 485.4,667.1 486.3,668.6 487.3,669.6 488.3,670.6 489.3,672.8 490.2,674.8 491.2,672.7 492.2,674.6 493.1,676.8 494.0,676.9 494.9,680.2 495.7,680.1 496.6,681.3 497.5,682.7 498.5,683.5 499.5,687.6 500.5,688.8 501.4,690.3 502.4,689.6 503.4,692.7 504.4,695.3 505.4,694.9 506.4,697.3 507.4,697.5 508.3,699.3 509.3,701.4 510.3,703.8 511.3,705.5 512.3,708.8 513.3,708.1 514.2,708.6 515.2,713.3 516.2,711.9 517.2,713.6 518.2,718.4 519.2,718.9 520.2,718.6 521.2,719.1 522.1,721.5 523.1,722.7 524.1,726.3 525.1,725.7 526.1,725.6 527.1,730.5 528.1,730.6 529.0,729.8 530.0,731.2 531.0,734.0 532.0,733.8 533.0,737.4 534.0,738.7 535.0,737.6 536.0,742.2 537.0,743.5 537.9,745.4 538.9,745.7 539.9,747.1 540.9,746.3 541.9,747.2 542.9,748.9 543.9,754.0 544.9,754.2 545.9,756.9 546.9,756.0 547.9,759.1 548.9,757.8 549.9,759.7 550.9,761.6 551.8,764.2 552.8,765.7 553.8,767.0 554.8,768.1 555.8,770.2 556.8,773.3 557.8,772.7 558.8,775.7 559.8,774.0 560.8,776.9 561.8,779.1 562.8,780.8 563.8,780.6 564.8,782.5 565.7,786.1 566.7,786.1 567.7,787.2 568.7,786.3 569.7,787.5 570.6,789.5 571.6,790.5 572.6,795.4 573.6,792.5 574.6,795.4 575.5,795.4 576.5,799.2 577.5,797.9 578.5,799.3 579.5,800.7 580.4,802.8 581.4,805.4 582.4,807.7 583.4,806.7 584.4,808.1 585.3,811.7 586.3,812.6 587.3,811.3 588.3,815.6 589.3,817.2 590.3,816.0 591.3,819.3 592.3,819.1 593.3,820.8 594.3,823.2 595.3,824.8 596.3,826.2 597.3,827.9 598.3,828.0 599.3,831.8 600.3,831.3 601.3,835.3 602.3,835.2 603.3,835.8 604.3,836.8 605.3,839.5 606.3,840.5 607.3,843.0 608.3,844.0 609.3,843.6 610.3,848.2 611.2,846.1 612.2,850.6 613.2,851.8 614.1,853.6 615.1,853.7 616.1,852.8 617.1,855.2 618.0,856.5 619.0,858.6 620.0,858.7 620.9,861.3 621.9,860.5 622.9,862.4 623.8,864.4 624.8,865.2 625.8,865.1 626.7,870.0 627.7,870.1 628.7,872.0 629.7,871.1 630.6,875.0 631.6,875.6 632.6,877.6 633.5,875.4 634.5,877.9 635.5,878.6 636.5,880.8 637.4,880.2 638.4,880.7 639.4,883.5 640.4,885.4 641.4,885.3 642.4,889.3 643.3,887.7 644.3,888.3 645.3,891.8 646.3,891.3 647.3,891.6 648.3,892.7 649.2,896.9 650.2,898.1 651.2,897.8 652.2,897.2 653.2,900.3 654.2,899.2 655.1,900.8 656.1,902.9 657.1,903.4 658.1,904.3 659.1,908.4 660.1,905.6 661.0,908.9 662.0,907.2 663.0,908.5 664.0,910.0 665.0,914.8 666.0,914.3 667.0,915.9 668.0,912.4 669.0,916.6 670.0,916.1 671.0,916.8 672.0,919.3 673.0,917.9 674.0,919.9 675.0,919.3 676.0,920.9 677.0,922.5 678.0,921.3 679.0,922.8 680.0,924.4 681.0,925.5 682.0,928.2 683.0,928.2 684.0,928.7 685.0,931.2 686.0,928.5 687.0,928.9 688.0,931.3 689.0,930.8 690.0,933.9 691.0,934.9 692.0,933.4 693.0,937.4 694.0,937.5 695.0,937.6 696.0,941.2 697.0,941.7 698.0,939.2 699.0,939.8 700.0,944.7 701.0,941.5 702.0,945.6 703.0,944.1 704.0,945.2 705.0,947.0 705.9,949.8 706.9,945.5 707.9,947.1 708.9,951.0 709.8,949.9 710.8,950.0 711.8,954.6 712.7,951.4 713.7,954.7 714.7,956.8 715.7,956.4 716.6,956.9 717.6,957.7 718.6,958.9 719.6,956.6 720.5,959.4 721.5,961.1 722.5,962.3 723.4,963.2 724.4,963.9 725.4,960.0 726.4,962.4 727.3,963.6 728.3,966.9 729.3,964.8 730.3,964.5 731.3,963.7 732.2,965.9 733.2,969.5 734.2,965.6 735.2,967.1 736.2,968.6 737.2,970.6 738.2,970.2 739.2,974.0 740.1,970.5 741.1,973.3 742.1,975.3 743.1,976.8 744.1,977.1 745.1,973.3 746.1,977.9 747.1,977.9 748.0,977.0 749.0,975.1 750.0,976.7 751.0,980.9 752.0,977.4 753.0,979.4 754.0,979.5 754.9,983.2 755.9,981.3 756.9,980.1 757.9,982.4 758.9,982.7 759.8,985.7 760.8,983.7 761.8,986.7 762.8,986.2 763.8,989.0 764.7,988.6 765.7,987.0 766.7,988.1 767.7,988.5 768.7,991.6 769.6,987.5 770.6,989.8 771.6,991.1 772.6,991.0 773.6,992.6 774.5,992.5 775.5,992.5 776.5,994.8 777.5,993.0 778.5,995.3 779.4,996.6 780.4,993.3 781.4,995.1 782.4,999.6 783.4,1000.3 784.3,1001.0 785.3,995.3 786.3,1000.9 787.3,1002.1 788.2,1002.4 789.2,1001.7 790.2,1002.0 791.2,1002.8 792.2,1002.4 793.1,1004.3 794.1,1002.9 795.1,1001.6 796.1,1001.3 797.1,1007.2 798.0,1006.7 799.0,1003.3 800.0,1008.2 801.0,1005.1 802.0,1007.8 803.0,1006.4 804.0,1005.9 805.0,1006.1 806.0,1005.9 806.9,1006.4 807.9,1006.8 808.9,1007.4 809.9,1012.9 810.9,1011.3 811.9,1009.1 812.9,1012.3 813.9,1012.8 814.9,1013.0 815.9,1011.5 816.9,1013.5 817.9,1016.9 818.8,1014.1 819.8,1015.4 820.8,1018.7 821.8,1014.5 822.8,1018.3 823.8,1017.1 824.8,1019.6 825.8,1017.3 826.7,1019.0 827.7,1018.4 828.7,1022.2 829.6,1023.0 830.6,1021.6 831.6,1024.4 832.6,1023.3 833.5,1024.5 834.5,1025.4 835.5,1021.8 836.4,1027.0 837.4,1023.6 838.4,1024.8 839.3,1023.3 840.3,1028.0 841.3,1025.3 842.2,1028.1 843.2,1025.6 844.2,1027.0 845.2,1027.7 846.1,1027.2 847.1,1026.4 848.1,1031.7 849.0,1033.4 850.0,1029.2 851.0,1029.3 852.0,1031.0 853.0,1029.8 854.0,1034.1 855.0,1032.7 856.0,1034.5 857.0,1037.3 858.0,1037.6 859.0,1038.5 860.0,1039.1 861.0,1037.3 862.0,1037.3 863.0,1034.7 864.0,1035.7 865.0,1039.0 866.0,1041.7 867.0,1039.4 868.0,1037.0 869.0,1038.9 870.0,1043.2 871.0,1039.6 872.0,1040.3 873.0,1041.5 874.0,1044.0 875.0,1046.0 876.0,1041.6 877.0,1044.8 878.0,1044.5 879.0,1044.1 880.0,1045.4 881.0,1047.5 882.0,1043.0 883.0,1045.5 884.0,1042.5 885.0,1046.1 886.0,1048.6 887.0,1050.5 888.0,1046.6 889.0,1045.4 890.0,1047.9 891.0,1046.5 892.0,1044.6 893.0,1048.2 894.0,1050.7 895.0,1051.7 896.0,1052.7 897.0,1047.9 898.0,1047.1 898.9,1046.0 899.9,1048.9 900.9,1052.2 901.9,1047.5 902.8,1052.9 903.8,1051.9 904.8,1047.6 905.7,1051.5 906.7,1053.3 907.7,1054.4 908.7,1047.8 909.6,1053.7 910.6,1053.5 911.6,1049.0 912.6,1049.6 913.5,1055.5 914.5,1050.5 915.5,1050.0 916.4,1053.9 917.4,1048.9 918.4,1052.1 919.4,1051.2 920.3,1052.9 921.3,1053.6 922.3,1054.1 923.3,1052.5 924.3,1056.5 925.2,1056.3 926.2,1057.3 927.2,1053.3 928.2,1055.9 929.2,1053.5 930.2,1052.4 931.1,1055.7 932.1,1058.4 933.1,1057.4 934.1,1053.1 935.1,1052.8 936.1,1057.7 937.0,1057.3 938.0,1058.9 939.0,1052.7 940.0,1059.3 941.0,1055.3 941.9,1053.8 942.9,1054.4 943.9,1060.5 944.8,1060.1 945.8,1051.8 946.7,1053.9 947.7,1057.8 948.7,1051.2 949.6,1051.1 950.6,1051.2 951.6,1059.1 952.5,1053.9 953.5,1053.7 954.5,1058.2 955.4,1053.6 956.4,1057.6 957.4,1054.0 958.3,1053.3 959.3,1054.1 960.2,1052.0 961.2,1051.1 962.2,1058.6 963.1,1058.5 964.1,1054.6 965.1,1056.7 966.0,1058.3 967.0,1053.8 968.0,1056.7 968.9,1057.0 969.9,1050.6 970.8,1051.1 971.8,1056.8 972.8,1056.3 973.7,1051.4 974.7,1057.2 975.7,1056.9 976.6,1052.5 977.6,1052.5 978.6,1050.3 979.5,1053.3 980.5,1050.1 981.5,1054.1 982.4,1054.8 983.4,1054.3 984.3,1049.5 985.3,1054.6 986.3,1055.7 987.2,1049.9 988.2,1054.1 989.2,1056.3 990.1,1050.3 991.1,1057.3 992.1,1057.9 993.0,1055.4 994.0,1057.0 995.0,1051.1 995.9,1055.0 996.9,1057.6 997.9,1049.0 998.8,1056.6 999.8,1050.9 1000.8,1056.5 1001.8,1054.9 1002.7,1056.5 1003.7,1052.6 1004.7,1053.1 1005.6,1057.8 1006.6,1049.5 1007.6,1050.4 1008.5,1058.2 1009.5,1057.7 1010.5,1050.4 1011.4,1058.3 1012.4,1051.6 1013.4,1057.6 1014.3,1057.8 1015.3,1049.7 1016.3,1049.7 1017.2,1052.7 1018.2,1058.3 1019.1,1057.1 1020.1,1053.5 1021.1,1057.9 1022.0,1053.0 1023.0,1053.5 1024.0,1052.1 1024.9,1059.2 1025.9,1057.9 1026.9,1054.9 1027.8,1053.2 1028.8,1059.7 1029.8,1054.6 1030.7,1053.0 1031.7,1055.0 1032.6,1057.8 1033.6,1058.4 1034.6,1052.5 1035.5,1060.2 1036.5,1057.8 1037.5,1052.3 1038.4,1059.5 1039.4,1060.8 1040.4,1059.7 1041.3,1052.2 1042.3,1056.5 1043.2,1057.7 1044.2,1060.5 1045.2,1057.1 1046.1,1053.3 1047.1,1061.2 1048.1,1061.5 1049.0,1057.3 1050.0,1053.5 1051.0,1060.7 1051.9,1059.9 1052.9,1062.1 1053.9,1053.4 1054.8,1057.4 1055.8,1056.2 1056.7,1054.6 1057.7,1060.5 1058.7,1057.0 1059.6,1054.3 1060.6,1055.3 1061.6,1061.5 1062.5,1059.8 1063.5,1056.3 1064.5,1060.8 1065.4,1055.7 1066.4,1060.8 1067.3,1060.7 1068.3,1054.9 1069.3,1059.6 1070.2,1061.6 1071.2,1062.0 1072.2,1061.6 1073.1,1063.3 1074.1,1062.3 1075.1,1063.9 1076.0,1059.4 1077.0,1056.0 1078.0,1057.4 1078.9,1058.5 1079.9,1056.4 1080.8,1057.1 1081.8,1060.9 1082.8,1058.6 1083.7,1059.0 1084.7,1063.2 1085.7,1064.3 1086.6,1064.5 1087.6,1060.1 1088.6,1063.3 1089.5,1064.7 1090.5,1058.4 1091.4,1058.9 1092.4,1063.1 1093.4,1059.7 1094.3,1059.2 1095.3,1060.9 1096.3,1057.8 1097.2,1061.7 1098.2,1058.2 1099.2,1060.1 1100.1,1060.0 1101.1,1061.1 1102.1,1059.3 1103.0,1062.6 1104.0,1064.6 1104.9,1061.6 1105.9,1066.9 1106.9,1066.4 1107.8,1061.6 1108.8,1059.4 1109.8,1065.9 1110.7,1061.5 1111.7,1062.5 1112.7,1064.8 1113.6,1068.6 1114.6,1062.9 1115.6,1064.5 1116.5,1066.0 1117.5,1066.7 1118.5,1062.9 1119.4,1066.3 1120.4,1066.1 1121.4,1067.2 1122.4,1062.9 1123.3,1063.2 1124.3,1070.4 1125.3,1069.3 1126.2,1069.6 1127.2,1070.7 1128.2,1071.1 1129.1,1066.5 1130.1,1069.7 1131.1,1069.0 1132.0,1068.5 1133.0,1069.7 1134.0,1066.9 1134.9,1071.6 1135.9,1068.0 1136.9,1066.1 1137.8,1065.1 1138.8,1070.5 1139.7,1067.3 1140.7,1073.6 1141.7,1067.4 1142.6,1068.6 1143.6,1074.4 1144.6,1070.7 1145.5,1074.3 1146.5,1073.3 1147.5,1068.0 1148.4,1069.0 1149.4,1070.6 1150.4,1074.9 1151.3,1070.5 1152.3,1071.8 1153.2,1072.2 1154.2,1071.0 1155.2,1075.1 1156.1,1069.1 1157.1,1070.8 1158.1,1076.0 1159.0,1074.4 1160.0,1073.6 1161.0,1072.6 1161.9,1070.6 1162.9,1073.6 1163.8,1078.3 1164.8,1075.1 1165.8,1075.1 1166.7,1078.8 1167.7,1078.0 1168.7,1079.2 1169.6,1078.9 1170.6,1076.6 1171.6,1073.6 1172.5,1076.5 1173.5,1074.2 1174.5,1078.4 1175.4,1072.7 1176.4,1075.7 1177.3,1079.1 1178.3,1075.9 1179.3,1077.3 1180.2,1073.1 1181.2,1074.9 1182.2,1080.8 1183.2,1078.4 1184.2,1076.1 1185.2,1077.6 1186.1,1080.0 1187.1,1080.3 1188.1,1080.8 1189.1,1076.5 1190.1,1076.2 1191.1,1079.8 1192.1,1079.0 1193.1,1079.5 1194.1,1076.8 1195.1,1077.8 1196.0,1081.6 1197.0,1078.6 1198.0,1082.0 1199.0,1076.4 1200.0,1084.0 1201.0,1078.2 1202.0,1080.6 1203.0,1084.5 1204.0,1079.3 1204.9,1079.4 1205.9,1085.7 1206.9,1085.3 1207.9,1082.6 1208.9,1079.1 1209.9,1083.7 1210.9,1081.1 1211.9,1081.1 1212.8,1087.0 1213.8,1084.8 1214.8,1083.6 1215.8,1080.9 1216.8,1083.6 1217.8,1087.8 1218.8,1083.5 1219.8,1083.9 1220.8,1086.5 1221.7,1083.9 1222.7,1086.6 1223.7,1088.5 1224.7,1084.9 1225.7,1086.7 1226.7,1087.7 1227.7,1086.3 1228.7,1085.4 1229.6,1084.7 1230.6,1088.7 1231.6,1092.0 1232.6,1084.6 1233.6,1092.0 1234.6,1093.0 1235.6,1089.5 1236.6,1093.3 1237.6,1091.1 1238.6,1089.8 1239.5,1089.2 1240.5,1089.3 1241.5,1091.3 1242.5,1087.4 1243.5,1091.8 1244.5,1089.9 1245.5,1091.7 1246.5,1094.2 1247.5,1087.8 1248.5,1089.5 1249.5,1088.4 1250.4,1086.5 1251.4,1091.8 1252.4,1091.9 1253.4,1095.4 1254.4,1091.9 1255.4,1090.1 1256.4,1094.8 1257.4,1086.8 1258.4,1089.5 1259.4,1093.7 1260.4,1088.5 1261.3,1090.4 1262.3,1094.9 1263.3,1090.4 1264.3,1089.6 1265.3,1095.6 1266.3,1088.3 1267.3,1095.5 1268.3,1090.6 1269.3,1089.8 1270.3,1092.4 1271.3,1092.5 1272.2,1096.9 1273.2,1095.1 1274.2,1092.5 1275.2,1093.5 1276.2,1091.5 1277.2,1097.5 1278.2,1092.3 1279.2,1096.9 1280.2,1095.0 1281.2,1097.4 1282.2,1092.5 1283.1,1093.2 1284.1,1092.9 1285.1,1097.1 1286.1,1098.3 1287.1,1097.3 1288.1,1094.1 1289.1,1097.6 1290.1,1096.9 1291.1,1095.1 1292.1,1092.3 1293.1,1092.9 1294.0,1097.1 1295.0,1092.8 1296.0,1096.1 1297.0,1098.4 1298.0,1097.2 1299.0,1096.9 1300.0,1093.9 1301.0,1092.8 1302.0,1092.2 1303.0,1092.4 1304.0,1094.2 1304.9,1097.2 1305.9,1096.1 1306.9,1094.3 1307.9,1095.3 1308.9,1096.9 1309.9,1100.0 1310.9,1098.8 1311.9,1093.5 1312.9,1097.5 1313.9,1095.0 1314.9,1101.1 1315.8,1101.5 1316.8,1098.7 1317.8,1100.4 1318.8,1100.1 1319.8,1101.4 1320.8,1096.8 1321.8,1096.5 1322.8,1101.2 1323.8,1103.2 1324.8,1096.9 1325.8,1100.0 1326.7,1100.0 1327.7,1098.6 1328.7,1102.1 1329.7,1096.8 1330.7,1099.1 1331.7,1099.7 1332.7,1104.4 1333.7,1102.2 1334.7,1102.6 1335.7,1105.3 1336.7,1098.7 1337.6,1102.1 1338.6,1097.9 1339.6,1098.6 1340.6,1103.4 1341.6,1104.6 1342.6,1103.1 1343.6,1102.8 1344.6,1104.8 1345.6,1106.4 1346.6,1106.2 1347.6,1105.4 1348.5,1102.2 1349.5,1105.3 1350.5,1100.8 1351.5,1106.8 1352.5,1101.5 1353.5,1107.8 1354.5,1102.0 1355.5,1101.8 1356.5,1102.6 1357.5,1104.0 1358.5,1101.7 1359.4,1102.4 1360.4,1108.0 1361.4,1108.5 1362.4,1101.9 1363.4,1104.5 1364.4,1104.5 1365.4,1108.2 1366.4,1106.9 1367.4,1104.8 1368.4,1108.3 1369.4,1106.8 1370.3,1103.4 1371.3,1108.7 1372.3,1105.9 1373.3,1109.8 1374.3,1107.9 1375.3,1103.5 1376.3,1109.0 1377.3,1107.5 1378.3,1107.3 1379.3,1106.4 1380.3,1108.6 1381.2,1103.4 1382.2,1107.5 1383.2,1111.4 1384.2,1105.1 1385.2,1104.6 1386.2,1107.2 1387.2,1108.2 1388.2,1107.1 1389.2,1108.2 1390.2,1110.0 1391.2,1111.2 1392.1,1104.7 1393.1,1107.8 1394.1,1110.0 1395.1,1104.8 1396.1,1113.2 1397.1,1110.6 1398.1,1109.3 1399.1,1109.1 1400.1,1106.6 1401.1,1106.0 1402.1,1111.6 1403.0,1113.9 1404.0,1112.8 1405.0,1106.0 1406.0,1106.3 1407.0,1110.7 1408.0,1111.4 1409.0,1111.8 1410.0,1114.3 1411.0,1114.6 1412.0,1115.5 1413.0,1109.7 1413.9,1111.0 1414.9,1115.9 1415.9,1113.3 1416.9,1107.6 1417.9,1115.4 1418.9,1112.8 1419.9,1109.1 1420.9,1110.6 1421.9,1112.8 1422.9,1113.6 1423.9,1111.5 1424.8,1114.6 1425.8,1112.8 1426.8,1116.9 1427.8,1115.9 1428.8,1109.6 1429.8,1109.2 1430.8,1116.2 1431.8,1114.0 1432.8,1117.5 1433.8,1112.7 1434.8,1110.4 1435.7,1109.2 1436.7,1116.0 1437.7,1109.8 1438.7,1115.0 1439.7,1114.4 1440.7,1116.1 1441.7,1118.1 1442.7,1111.7 1443.7,1114.1 1444.7,1116.6 1445.7,1111.7 1446.6,1110.8 1447.6,1111.3 1448.6,1118.7 1449.6,1117.5 1450.6,1112.2 1451.6,1110.5 1452.6,1116.3 1453.6,1113.5 1454.6,1112.7 1455.6,1112.5 1456.6,1115.1 1457.5,1114.0 1458.5,1119.6 1459.5,1116.2 1460.5,1119.4 1461.5,1119.7 1462.5,1119.5 1463.5,1115.9 1464.5,1116.7 1465.5,1116.4 1466.5,1111.7 1467.5,1120.3 1468.4,1113.0 1469.4,1116.8 1470.4,1118.1 1471.4,1119.2 1472.4,1117.0 1473.4,1117.9 1474.4,1119.8 1475.4,1118.1 1476.4,1118.4 1477.4,1120.2 1478.4,1113.1 1479.3,1117.3 1480.3,1112.8 1481.3,1114.0 1482.3,1112.9 1483.3,1120.8 1484.3,1115.9 1485.3,1117.7 1486.3,1120.3 1487.3,1119.5 1488.3,1121.7 1489.3,1117.8 1490.2,1119.8 1491.2,1121.4 1492.2,1114.4 1493.2,1117.9 1494.2,1114.4 1495.2,1118.8 1496.2,1116.7 1497.2,1121.6 1498.2,1118.3 1499.2,1115.6 1500.2,1122.2 1501.1,1118.2 1502.1,1114.6 1503.1,1117.0 1504.1,1118.1 1505.1,1115.0 1506.1,1116.1 1507.1,1117.7 1508.1,1118.1 1509.1,1119.1 1510.1,1118.0 1511.1,1118.3 1512.0,1119.7 1513.0,1118.8 1514.0,1122.5 1515.0,1122.9 1516.0,1116.0 1517.0,1117.4 1518.0,1117.0 1519.0,1119.4 1520.0,1119.5 1521.0,1123.2 1522.0,1123.1 1522.9,1124.6 1523.9,1122.9 1524.9,1122.2 1525.9,1125.9 1526.9,1122.8 1527.9,1120.6 1528.9,1119.9 1529.9,1117.6 1530.9,1125.9 1531.9,1124.3 1532.9,1121.0 1533.8,1125.6 1534.8,1124.7 1535.8,1122.1 1536.8,1126.6 1537.8,1126.1 1538.8,1122.2 1539.8,1122.2 1540.8,1119.8 1541.8,1119.5 1542.8,1121.9 1543.8,1120.8 1544.7,1119.6 1545.7,1125.7 1546.7,1127.8 1547.7,1125.5 1548.7,1127.6 1549.7,1127.3 1550.7,1125.5 1551.7,1124.5 1552.7,1123.2 1553.7,1124.5 1554.7,1123.1 1555.6,1121.9 1556.6,1124.9 1557.6,1126.5 1558.6,1125.9 1559.6,1127.4 1560.6,1123.9 1561.6,1121.1 1562.6,1123.1 1563.6,1123.9 1564.6,1126.4 1565.6,1125.0 1566.5,1127.5 1567.5,1123.8 1568.5,1126.1 1569.5,1122.1 1570.5,1128.3 1571.5,1130.0 1572.5,1130.1 1573.5,1130.3 1574.5,1124.4 1575.5,1131.5 1576.5,1127.8 1577.4,1124.7 1578.4,1123.9 1579.4,1123.9 1580.4,1129.1 1581.4,1129.1 1582.4,1130.7 1583.4,1129.6 1584.4,1128.4 1585.4,1125.2 1586.4,1130.6 1587.4,1123.9 1588.3,1130.0 1589.3,1125.5 1590.3,1125.5 1591.3,1132.6 1592.3,1132.8 1593.3,1131.0 1594.3,1126.5 1595.3,1128.8 1596.3,1127.7 1597.3,1125.7 1598.3,1126.9 1599.2,1125.3 1600.2,1133.8 1601.2,1127.1 1602.2,1128.6 1603.2,1127.3 1604.2,1131.2 1605.2,1130.4 1606.2,1132.4 1607.2,1125.4 1608.2,1127.3 1609.2,1131.0 1610.1,1130.9 1611.1,1133.3 1612.1,1126.5 1613.1,1129.2 1614.1,1129.6 1615.1,1130.7 1616.1,1129.3 1617.1,1132.9 1618.1,1127.1 1619.1,1126.8 1620.1,1129.2 1621.0,1127.3 1622.0,1130.1 1623.0,1131.9 1624.0,1127.5 1625.0,1131.0 1626.0,1131.9 1627.0,1132.2 1628.0,1127.7 1629.0,1134.3 1630.0,1134.1 1631.0,1130.6 1632.0,1132.3 1633.0,1134.7 1634.0,1135.7 1635.0,1130.9 1636.0,1135.6 1637.0,1132.8 1638.0,1137.6 1639.0,1137.1 1640.0,1132.7 1641.0,1132.8 1642.0,1134.0 1643.0,1138.4 1644.0,1131.1 1644.9,1134.9 1645.9,1135.8 1646.9,1136.6 1647.9,1130.7 1648.9,1135.7 1649.9,1134.4 1650.9,1133.4 1651.9,1139.3 1652.9,1131.4 1653.8,1137.1 1654.8,1132.5 1655.8,1139.4 1656.8,1135.4 1657.8,1135.0 1658.8,1133.2 1659.8,1136.0 1660.8,1139.1 1661.7,1131.9 1662.7,1137.3 1663.7,1132.7 1664.7,1133.5 1665.7,1139.4 1666.7,1132.3 1667.7,1138.4 1668.7,1132.3 1669.7,1136.5 1670.6,1137.7 1671.6,1133.4 1672.6,1139.5 1673.6,1134.2 1674.6,1136.6 1675.6,1134.6 1676.6,1139.5 1677.6,1134.8 1678.6,1135.0 1679.5,1132.8 1680.5,1141.1 1681.5,1133.1 1682.5,1135.8 1683.5,1139.0 1684.5,1136.1 1685.5,1138.7 1686.5,1136.6 1687.4,1141.4 1688.4,1134.9 1689.4,1133.7 1690.4,1134.5 1691.4,1138.5 1692.4,1139.2 1693.4,1141.5 1694.4,1142.7 1695.4,1137.7 1696.3,1141.7 1697.3,1137.9 1698.3,1137.6 1699.3,1135.5 1700.3,1142.4 1701.3,1137.5 1702.3,1140.5 1703.3,1139.3 1704.3,1143.9 1705.2,1137.0 1706.2,1139.8 1707.2,1142.1 1708.2,1136.6 1709.2,1142.6 1710.2,1140.1 1711.2,1135.9 1712.2,1144.1 1713.2,1138.9 1714.1,1139.6 1715.1,1142.6 1716.1,1144.3 1717.1,1137.6 1718.1,1136.6 1719.1,1142.4 1720.1,1141.9 1721.1,1139.7 1722.0,1141.7 1723.0,1144.5 1724.0,1143.6 1725.0,1141.1 1726.0,1144.4 1727.0,1144.5 1728.0,1143.2 1729.0,1137.1 1730.0,1141.4 1730.9,1141.8 1731.9,1144.5 1732.9,1141.1 1733.9,1142.1 1734.9,1143.1 1735.9,1137.2 1736.9,1137.0 1737.9,1136.8 1738.9,1137.6 1739.8,1139.1 1740.8,1137.2 1741.8,1142.4 1742.8,1142.2 1743.8,1141.2 1744.8,1137.0 1745.8,1141.9 1746.8,1138.2 1747.7,1137.2 1748.7,1144.7 1749.7,1145.8 1750.7,1138.0 1751.7,1143.6 1752.7,1137.9 1753.7,1143.0 1754.7,1143.4 1755.7,1143.1 1756.6,1147.0 1757.6,1143.5 1758.6,1139.3 1759.6,1146.7 1760.6,1140.7 1761.6,1143.0 1762.6,1142.0 1763.6,1145.7 1764.6,1138.8 1765.5,1141.5 1766.5,1142.3 1767.5,1143.8 1768.5,1146.8 1769.5,1141.0 1770.5,1141.5 1771.5,1144.7 1772.5,1140.3 1773.5,1143.2 1774.4,1141.4 1775.4,1144.4 1776.4,1144.0 1777.4,1145.1 1778.4,1142.6 1779.4,1140.8 1780.4,1138.7 1781.4,1144.4 1782.3,1140.8 1783.3,1138.7 1784.3,1142.3 1785.3,1141.4 1786.3,1145.4 1787.3,1141.7 1788.3,1142.4 1789.3,1145.9 1790.3,1145.5 1791.2,1140.6 1792.2,1144.7 1793.2,1148.1 1794.2,1147.9 1795.2,1147.3 1796.2,1141.9 1797.2,1148.5 1798.2,1141.2 1799.2,1143.2 1800.1,1140.5 1801.1,1144.8 1802.1,1146.4 1803.1,1146.1 1804.1,1139.6 1805.1,1149.0 1806.1,1142.6 1807.1,1146.8 1808.0,1148.6 1809.0,1147.2 1810.0,1144.8 1811.0,1145.0 1812.0,1141.2 1813.0,1143.6 1814.0,1147.8 1815.0,1146.5 1816.0,1146.4 1816.9,1146.6 1817.9,1143.5 1818.9,1149.5 1819.9,1143.4 1820.9,1142.1 1821.9,1146.7 1822.9,1142.1 1823.9,1149.7 1824.8,1146.0 1825.8,1141.9 1826.8,1141.1 1827.8,1146.5 1828.8,1141.4 1829.8,1141.6 1830.8,1145.0 1831.7,1145.4 1832.7,1149.0 1833.7,1142.7 1834.7,1149.6 1835.7,1145.4 1836.7,1149.6 1837.6,1143.2 1838.6,1142.3 1839.6,1146.0 1840.6,1144.0 1841.6,1146.5 1842.6,1149.8 1843.6,1150.5 1844.5,1143.2 1845.5,1144.8 1846.5,1145.4 1847.5,1144.2 1848.5,1147.0 1849.5,1143.3 1850.5,1144.7 1851.4,1143.6 1852.4,1147.3 1853.4,1151.8 1854.4,1144.6 1855.4,1151.5 1856.4,1146.3 1857.3,1150.4 1858.3,1151.3 1859.3,1149.2 1860.3,1150.4 1861.3,1149.6 1862.3,1152.5 1863.3,1151.2 1864.2,1147.9 1865.2,1146.8 1866.2,1145.7 1867.2,1149.0 1868.2,1146.5 1869.2,1146.6 1870.2,1152.7 1871.1,1151.1 1872.1,1149.7 1873.1,1152.6 1874.1,1149.7 1875.1,1148.6 1876.1,1151.4 1877.0,1150.8 1878.0,1147.2 1879.0,1148.3 1880.0,1150.6 1881.0,1147.5 1882.0,1154.0 1883.0,1146.1 1883.9,1153.8 1884.9,1154.9 1885.9,1151.6 1886.9,1148.0 1887.9,1153.6 1888.9,1150.3 1889.9,1152.9 1890.9,1149.4 1891.8,1148.6 1892.8,1155.4 1893.8,1147.4 1894.8,1147.3 1895.8,1154.1 1896.8,1154.1 1897.8,1149.9 1898.8,1150.6 1899.7,1153.6 1900.7,1152.9 1901.7,1153.4 1902.7,1151.5 1903.7,1156.6 1904.7,1149.1 1905.7,1153.6 1906.7,1149.8 1907.6,1151.1 1908.6,1150.8 1909.6,1155.8 1910.6,1153.6 1911.6,1151.4 1912.6,1153.4 1913.6,1152.8 1914.5,1153.6 1915.5,1150.9 1916.5,1152.3 1917.5,1153.1 1918.5,1149.8 1919.5,1149.3 1920.5,1154.7 1921.5,1151.2 1922.4,1156.7 1923.4,1149.7 1924.4,1151.6 1925.4,1155.4 1926.4,1151.0 1927.4,1153.7 1928.4,1152.7 1929.4,1152.5 1930.3,1152.3 1931.3,1159.2 1932.3,1153.2 1933.3,1151.5 1934.3,1158.9 1935.3,1152.0 1936.3,1157.4 1937.3,1156.8 1938.2,1157.4 1939.2,1158.0 1940.2,1152.6 1941.2,1151.3 1942.2,1155.1 1943.2,1155.3 1944.2,1153.4 1945.2,1158.8 1946.2,1152.4 1947.1,1156.1 1948.1,1156.4 1949.1,1151.7 1950.1,1159.2 1951.1,1155.1 1952.1,1156.1 1953.1,1153.4 1954.1,1155.7 1955.1,1156.3 1956.0,1157.7 1957.0,1152.6 1958.0,1156.3 1959.0,1156.9 1960.0,1161.3 1961.0,1158.1 1962.0,1159.0 1963.0,1156.8 1964.0,1157.4 1964.9,1162.0 1965.9,1156.8 1966.9,1162.2 1967.9,1158.7 1968.9,1161.7 1969.9,1158.6 1970.9,1160.9 1971.9,1161.0 1972.9,1157.1 1973.8,1156.6 1974.8,1162.3 1975.8,1156.8 1976.8,1161.1 1977.8,1155.5 1978.8,1158.5 1979.8,1157.5 1980.8,1156.6 1981.8,1156.4 1982.7,1163.3 1983.7,1160.6 1984.7,1158.7 1985.7,1159.8 1986.7,1162.5 1987.7,1160.9 1988.7,1155.7 1989.7,1156.5 1990.6,1163.1 1991.6,1159.9 1992.6,1160.2 1993.6,1156.1 1994.6,1155.9 1995.6,1156.7 1996.6,1157.8 1997.6,1160.1 1998.5,1158.3 1999.5,1161.3 2000.5,1158.9 2001.5,1159.7 2002.5,1164.0 2003.5,1155.2 2004.5,1161.0 2005.5,1162.0 2006.4,1156.6 2007.4,1163.3 2008.4,1156.1 2009.4,1162.8 2010.4,1156.8 2011.4,1159.1 2012.4,1158.9 2013.3,1160.6 2014.3,1161.2 2015.3,1155.5 2016.3,1163.0 2017.3,1160.3 2018.3,1164.1 2019.3,1156.8 2020.3,1159.5 2021.2,1164.5 2022.2,1161.4 2023.2,1160.2 2024.2,1159.9 2025.2,1164.3 2026.2,1155.4 2027.2,1165.0 2028.2,1160.0 2029.1,1163.4 2030.1,1160.2 2031.1,1163.6 2032.1,1156.5 2033.1,1159.7 2034.1,1163.1 2035.1,1165.3 2036.1,1160.6 2037.0,1156.4 2038.0,1162.9 2039.0,1162.0 2040.0,1157.2 2041.0,1157.8 2042.0,1160.7 2043.0,1157.5 2044.0,1164.8 2045.0,1165.5 2046.0,1163.3 2047.0,1164.2 2048.0,1159.3 2049.0,1157.2 2050.0,1163.2 2051.0,1163.9 2052.0,1162.9 2053.0,1158.0 2054.0,1156.6 2055.0,1161.7 2056.0,1157.9 2057.0,1159.3 2058.0,1161.1 2059.0,1158.9 2060.0,1165.5 2061.0,1159.7 2062.0,1162.0 2063.0,1166.0 2064.0,1163.2 2065.0,1160.5 2066.0,1164.0 2067.0,1158.7 2068.0,1157.9 2069.0,1157.3 2070.0,1163.4 2071.0,1163.3 2072.0,1163.5 2073.0,1163.6 2074.0,1162.7 2075.0,1166.2 2076.0,1161.6 2077.0,1158.4 2078.0,1159.7 2079.0,1161.2 2080.0,1163.2 2081.0,1160.8 2082.0,1161.6 2083.0,1160.3 2084.0,1164.5 2085.0,1165.7 2086.0,1160.8 2087.0,1165.3 2088.0,1159.5 2089.0,1167.1 2090.0,1161.1 2091.0,1164.2 2092.0,1163.6 2093.0,1158.6 2094.0,1163.5" stroke="#ff0000" stroke-width="9.5" fill="none" stroke-linejoin="round" stroke-linecap="butt"/>
<path d="M325.0,184.4 325.2,188.3 325.4,193.2 325.6,197.6 325.8,201.8 326.0,206.7 326.2,211.2 326.4,215.4 326.6,220.2 326.8,224.3 327.0,229.2 327.2,233.3 327.5,237.3 327.7,241.2 328.0,245.9 328.2,249.8 328.5,253.8 328.7,258.0 329.0,262.4 329.2,266.3 329.5,270.6 329.7,274.6 330.0,278.8 330.2,283.2 330.5,288.0 330.8,292.4 331.1,296.6 331.4,300.8 331.6,305.5 331.9,309.8 332.2,313.7 332.4,318.4 332.7,323.0 333.0,327.3 333.4,331.2 333.9,335.7 334.4,340.1 334.8,344.9 335.2,349.1 335.7,353.0 336.1,357.5 336.6,361.5 337.0,366.3 337.5,370.3 337.9,374.5 338.4,378.9 339.0,383.0 339.6,387.9 340.2,391.1 340.8,395.8 341.4,399.9 342.0,404.5 342.6,407.7 343.2,412.5 343.8,415.1 344.4,420.4 345.6,424.9 346.8,426.9 348.0,432.7 349.1,435.1 350.2,440.6 351.3,443.0 352.5,447.2 353.6,451.4 354.7,457.7 355.8,461.6 356.9,465.3 358.1,469.4 359.2,472.2 360.4,477.2 361.5,480.9 362.6,486.3 363.8,488.9 364.9,494.1 366.1,496.8 367.2,502.6 368.4,506.5 369.6,510.9 370.9,512.7 372.1,518.8 373.3,521.6 374.6,525.9 375.8,530.2 377.0,532.7 378.4,538.9 379.9,541.9 381.3,543.6 382.7,549.6 384.1,550.9 385.5,555.3 387.0,560.5 388.4,563.0 389.8,564.9 391.2,570.6 392.7,572.3 394.1,575.5 395.5,577.8 396.9,581.1 398.4,588.8 399.8,590.4 401.2,590.7 402.5,592.4 403.9,589.5 405.3,588.3 406.6,592.9 408.0,590.6 409.4,589.4 410.8,585.5 412.2,587.5 413.5,583.4 414.9,590.5 416.3,583.9 417.7,586.8 419.2,587.0 420.7,586.2 422.1,586.6 423.6,586.0 425.1,592.8 426.6,589.2 428.1,591.4 429.6,598.3 431.0,595.1 432.5,596.3 434.0,600.7 435.5,599.1 437.0,601.6 438.4,603.2 439.9,608.4 441.4,606.0 442.9,609.6 444.4,615.5 445.9,615.8 447.3,616.2 448.8,616.9 450.3,617.6 451.8,624.9 453.3,626.8 454.7,629.0 456.2,627.8 457.7,630.9 459.2,630.3 460.7,636.1 462.2,636.6 463.6,636.0 465.1,637.9 466.6,640.2 468.1,644.4 469.6,646.5 471.1,643.4 472.5,650.2 474.0,650.8 475.5,652.6 476.8,650.4 478.1,652.1 479.4,658.0 480.8,660.8 482.1,659.1 483.4,659.9 484.9,663.3 486.3,668.8 487.8,671.1 489.3,669.8 490.7,671.8 492.2,676.0 493.5,676.7 494.9,681.8 496.2,681.3 497.5,681.8 498.9,685.1 500.3,686.3 501.7,691.7 503.1,695.0 504.5,695.7 505.9,695.5 507.4,701.2 508.8,700.6 510.2,701.7 511.6,704.2 513.0,707.4 514.4,712.6 515.8,711.2 517.2,717.0 518.7,714.9 520.2,721.3 521.6,722.8 523.1,720.9 524.6,722.8 526.1,725.7 527.6,727.4 529.0,732.6 530.5,733.1 532.0,736.2 533.5,736.0 535.0,742.3 536.5,739.3 537.9,744.9 539.4,746.1 540.9,750.4 542.4,752.4 543.8,751.8 545.3,753.7 546.7,755.3 548.2,756.6 549.7,762.0 551.1,765.1 552.6,764.8 554.0,769.6 555.5,767.8 557.0,770.0 558.4,776.3 559.9,778.4 561.3,778.3 562.8,780.9 564.2,781.0 565.7,781.5 567.1,785.0 568.6,790.7 570.0,790.0 571.4,793.8 572.9,791.5 574.3,797.3 575.8,798.4 577.2,802.3 578.7,800.0 580.1,802.9 581.5,803.6 583.0,808.8 584.4,806.6 585.9,812.6 587.3,815.0 588.8,813.4 590.2,816.1 591.7,818.2 593.2,823.8 594.6,821.7 596.1,828.3 597.6,825.8 599.0,827.8 600.5,834.4 602.0,832.2 603.4,837.5 604.9,839.2 606.4,843.4 607.8,844.6 609.3,848.2 610.8,848.8 612.3,848.0 613.7,853.8 615.2,850.6 616.7,856.5 618.2,854.5 619.7,856.7 621.2,859.8 622.6,862.7 624.1,861.9 625.6,865.6 627.1,868.9 628.6,868.7 630.1,871.3 631.5,876.2 633.0,873.9 634.5,876.4 636.0,878.0 637.5,879.5 639.0,880.2 640.5,887.8 642.0,886.8 643.5,886.8 645.0,892.6 646.5,888.6 648.0,890.7 649.5,892.0 651.0,893.8 652.5,895.4 654.0,901.4 655.5,903.9 657.0,902.3 658.5,908.5 660.0,909.3 661.5,912.3 663.0,912.9 664.4,912.2 665.8,909.6 667.2,911.1 668.7,913.6 670.1,913.5 671.5,919.3 672.9,915.4 674.3,920.8 675.8,919.7 677.2,921.0 678.6,920.2 680.0,927.0 681.5,928.6 683.0,925.6 684.5,927.3 686.0,932.1 687.5,928.3 689.0,934.1 690.5,932.4 692.0,937.4 693.5,938.3 695.0,936.1 696.5,937.2 698.0,939.4 699.5,939.9 701.0,945.8 702.5,947.4 704.0,945.9 705.4,944.6 706.9,948.0 708.3,951.8 709.7,951.1 711.1,947.5 712.6,949.0 714.0,952.2 715.4,957.9 716.9,954.8 718.3,958.5 719.7,959.0 721.2,955.4 722.6,959.7 724.0,960.3 725.4,961.7 726.9,967.3 728.3,962.3 729.8,969.8 731.3,965.9 732.7,967.0 734.2,970.9 735.7,968.9 737.2,966.2 738.7,972.4 740.1,968.3 741.6,977.4 743.1,971.9 744.6,979.4 746.1,976.6 747.6,980.2 749.0,978.3 750.5,975.8 752.0,984.7 753.4,982.7 754.9,980.6 756.3,986.8 757.8,984.3 759.2,982.5 760.6,981.3 762.1,983.3 763.5,990.0 765.0,983.4 766.4,987.2 767.9,990.9 769.3,988.5 770.7,988.8 772.2,986.4 773.6,995.6 775.1,988.3 776.5,992.4 778.0,989.9 779.4,992.6 780.9,999.3 782.4,1001.2 783.8,992.7 785.3,995.6 786.8,1001.6 788.2,997.8 789.7,1005.6 791.2,997.3 792.7,998.0 794.1,1005.9 795.6,1006.4 797.1,1009.2 798.5,1000.5 800.0,1000.9 801.5,1002.4 802.9,1012.1 804.4,1006.8 805.8,1007.4 807.3,1006.3 808.8,1006.3 810.2,1006.3 811.7,1014.9 813.1,1007.1 814.6,1016.1 816.0,1013.6 817.5,1010.3 819.0,1011.5 820.4,1010.7 821.9,1020.4 823.3,1018.7 824.8,1020.8 826.3,1019.4 827.8,1014.5 829.2,1022.9 830.7,1025.2 832.2,1018.6 833.7,1020.6 835.2,1028.2 836.7,1025.8 838.1,1020.6 839.6,1021.7 841.1,1023.2 842.6,1031.7 844.1,1031.5 845.6,1023.7 847.0,1030.6 848.5,1026.6 850.0,1027.8 851.4,1032.4 852.9,1028.9 854.3,1035.8 855.8,1029.1 857.2,1029.8 858.6,1032.7 860.1,1031.8 861.5,1041.0 862.9,1041.1 864.4,1039.7 865.8,1042.4 867.2,1034.6 868.7,1037.2 870.1,1042.1 871.6,1046.4 873.0,1044.8 874.5,1040.5 876.0,1039.9 877.5,1049.1 879.0,1045.9 880.5,1050.1 882.0,1039.5 883.5,1050.5 885.0,1039.7 886.5,1043.4 888.0,1044.5 889.5,1040.6 891.0,1054.0 892.5,1045.8 894.0,1041.6 895.5,1052.4 897.0,1045.5 898.4,1051.7 899.9,1053.0 901.3,1057.0 902.7,1051.9 904.1,1053.4 905.6,1057.8 907.0,1046.7 908.4,1047.0 909.9,1055.4 911.3,1054.5 912.7,1047.6 914.2,1058.9 915.6,1059.6 917.0,1059.9 918.4,1056.4 919.9,1058.4 921.3,1059.5 922.7,1055.5 924.2,1060.0 925.6,1055.1 927.1,1050.0 928.5,1054.8 929.9,1048.2 931.4,1062.1 932.8,1048.6 934.2,1051.2 935.7,1048.5 937.1,1061.8 938.6,1060.9 940.0,1062.7 941.4,1063.8 942.8,1061.9 944.3,1058.8 945.7,1060.6 947.1,1063.0 948.5,1048.4 949.9,1049.3 951.3,1058.2 952.8,1054.3 954.2,1064.2 955.6,1050.8 957.0,1046.6 958.4,1049.9 959.8,1048.2 961.3,1052.6 962.7,1047.1 964.1,1058.5 965.5,1051.6 966.9,1048.7 968.4,1062.5 969.8,1063.7 971.2,1059.1 972.6,1046.6 974.0,1055.4 975.4,1059.0 976.9,1052.7 978.3,1047.1 979.7,1049.8 981.1,1061.6 982.5,1044.8 983.9,1044.8 985.4,1058.4 986.8,1060.4 988.2,1056.7 989.6,1061.5 991.0,1054.1 992.5,1057.5 993.9,1050.9 995.3,1060.2 996.7,1044.0 998.2,1050.0 999.6,1049.4 1001.0,1045.1 1002.4,1052.4 1003.9,1059.6 1005.3,1046.0 1006.7,1063.3 1008.1,1047.0 1009.6,1061.9 1011.0,1044.6 1012.4,1054.4 1013.8,1045.5 1015.2,1049.2 1016.7,1060.7 1018.1,1057.5 1019.5,1062.0 1020.9,1054.0 1022.3,1047.4 1023.7,1047.1 1025.2,1056.3 1026.6,1062.9 1028.0,1063.9 1029.4,1060.9 1030.8,1047.8 1032.2,1049.3 1033.7,1059.4 1035.1,1058.7 1036.5,1063.8 1037.9,1055.5 1039.3,1051.5 1040.8,1049.4 1042.2,1062.2 1043.6,1064.5 1045.0,1062.1 1046.4,1050.5 1047.8,1060.5 1049.3,1065.0 1050.7,1056.6 1052.1,1049.5 1053.5,1052.8 1054.9,1061.9 1056.3,1051.0 1057.8,1054.5 1059.2,1067.0 1060.6,1051.5 1062.0,1056.7 1063.4,1062.6 1064.9,1053.1 1066.3,1065.4 1067.7,1052.8 1069.1,1062.3 1070.5,1051.3 1071.9,1068.5 1073.4,1061.0 1074.8,1054.5 1076.2,1053.1 1077.6,1052.0 1079.0,1055.3 1080.4,1067.3 1081.9,1055.3 1083.3,1068.9 1084.7,1069.7 1086.1,1063.4 1087.5,1054.0 1089.0,1057.5 1090.4,1066.2 1091.8,1058.4 1093.2,1065.6 1094.6,1066.4 1096.0,1055.6 1097.5,1057.6 1098.9,1066.3 1100.3,1063.1 1101.7,1063.1 1103.1,1055.9 1104.5,1070.2 1106.0,1055.2 1107.4,1068.3 1108.8,1059.0 1110.2,1068.9 1111.6,1060.0 1113.1,1069.8 1114.5,1067.4 1115.9,1072.1 1117.3,1069.3 1118.8,1071.8 1120.2,1062.5 1121.6,1069.9 1123.0,1070.0 1124.5,1061.3 1125.9,1071.6 1127.3,1068.4 1128.7,1074.0 1130.2,1068.1 1131.6,1074.0 1133.0,1064.4 1134.4,1065.3 1135.8,1070.4 1137.3,1062.3 1138.7,1067.6 1140.1,1075.9 1141.5,1073.3 1142.9,1077.0 1144.3,1077.1 1145.8,1064.4 1147.2,1066.6 1148.6,1075.9 1150.0,1070.1 1151.4,1077.2 1152.8,1071.4 1154.3,1067.1 1155.7,1068.5 1157.1,1074.8 1158.5,1079.9 1159.9,1065.9 1161.4,1074.3 1162.8,1075.7 1164.2,1081.1 1165.6,1067.0 1167.0,1072.0 1168.4,1079.2 1169.9,1069.4 1171.3,1078.9 1172.7,1070.6 1174.1,1076.8 1175.5,1077.5 1176.9,1069.4 1178.4,1077.7 1179.8,1076.1 1181.2,1071.4 1182.6,1069.3 1184.1,1082.5 1185.5,1076.1 1187.0,1077.4 1188.4,1075.1 1189.9,1075.3 1191.3,1080.5 1192.8,1080.5 1194.2,1076.1 1195.7,1081.5 1197.1,1076.7 1198.6,1078.4 1200.0,1077.3 1201.5,1073.7 1202.9,1074.6 1204.4,1087.6 1205.8,1080.9 1207.3,1076.6 1208.8,1085.3 1210.2,1088.2 1211.7,1080.3 1213.1,1081.7 1214.6,1090.2 1216.1,1090.6 1217.5,1089.9 1219.0,1083.9 1220.5,1082.6 1221.9,1079.6 1223.4,1090.2 1224.8,1081.7 1226.3,1091.6 1227.8,1093.2 1229.2,1087.5 1230.7,1090.7 1232.1,1091.5 1233.6,1084.3 1235.1,1085.0 1236.5,1085.1 1238.0,1092.7 1239.4,1096.0 1240.9,1094.7 1242.3,1092.8 1243.8,1082.3 1245.2,1086.7 1246.7,1088.5 1248.1,1094.8 1249.6,1096.9 1251.0,1089.5 1252.5,1097.0 1253.9,1089.4 1255.4,1085.6 1256.9,1083.7 1258.3,1086.7 1259.8,1090.0 1261.2,1096.9 1262.7,1098.9 1264.1,1089.4 1265.6,1087.6 1267.0,1093.3 1268.5,1089.0 1269.9,1087.0 1271.4,1097.9 1272.8,1087.5 1274.3,1097.9 1275.7,1096.8 1277.2,1089.0 1278.7,1099.4 1280.1,1089.4 1281.6,1100.2 1283.0,1097.7 1284.5,1086.8 1285.9,1092.9 1287.4,1088.5 1288.8,1093.8 1290.3,1087.1 1291.7,1087.7 1293.2,1096.5 1294.6,1100.0 1296.1,1089.3 1297.5,1097.5 1299.0,1100.5 1300.5,1102.5 1301.9,1094.4 1303.4,1104.8 1304.8,1104.8 1306.3,1103.0 1307.7,1093.4 1309.2,1091.0 1310.6,1091.6 1312.1,1105.0 1313.5,1090.1 1315.0,1095.7 1316.4,1104.5 1317.9,1092.8 1319.3,1091.8 1320.8,1093.6 1322.3,1103.4 1323.7,1102.2 1325.2,1092.2 1326.6,1093.2 1328.1,1102.2 1329.5,1101.5 1331.0,1104.8 1332.4,1095.2 1333.9,1101.9 1335.3,1106.8 1336.8,1108.7 1338.2,1106.4 1339.7,1108.1 1341.1,1096.1 1342.6,1101.3 1344.1,1110.0 1345.5,1105.3 1347.0,1096.3 1348.4,1099.9 1349.9,1097.2 1351.3,1109.3 1352.8,1097.2 1354.2,1101.8 1355.7,1103.3 1357.1,1104.3 1358.6,1110.5 1360.0,1096.9 1361.5,1098.8 1362.9,1099.2 1364.4,1103.5 1365.9,1112.6 1367.3,1110.4 1368.8,1104.0 1370.2,1102.1 1371.7,1112.1 1373.1,1109.8 1374.6,1111.0 1376.0,1113.7 1377.5,1099.1 1378.9,1113.0 1380.4,1115.5 1381.8,1107.3 1383.3,1100.1 1384.7,1100.5 1386.2,1115.2 1387.7,1102.0 1389.1,1113.8 1390.6,1113.8 1392.0,1106.1 1393.5,1103.4 1394.9,1102.1 1396.4,1104.6 1397.8,1112.8 1399.3,1115.9 1400.7,1109.0 1402.2,1103.0 1403.6,1116.4 1405.1,1110.6 1406.5,1108.7 1408.0,1115.8 1409.5,1102.7 1410.9,1104.7 1412.4,1102.9 1413.8,1106.0 1415.3,1110.1 1416.7,1105.2 1418.2,1103.4 1419.6,1104.1 1421.1,1108.3 1422.5,1110.2 1424.0,1105.8 1425.4,1111.8 1426.9,1116.1 1428.3,1108.9 1429.8,1113.8 1431.3,1106.7 1432.7,1109.6 1434.2,1110.1 1435.6,1117.6 1437.1,1119.4 1438.5,1109.4 1440.0,1118.0 1441.4,1108.6 1442.9,1121.4 1444.3,1107.1 1445.8,1117.3 1447.2,1108.9 1448.7,1110.4 1450.1,1111.6 1451.6,1108.6 1453.1,1116.2 1454.5,1122.9 1456.0,1124.0 1457.4,1107.8 1458.9,1107.6 1460.3,1112.4 1461.8,1124.2 1463.2,1121.1 1464.7,1112.1 1466.1,1124.6 1467.6,1123.8 1469.0,1113.4 1470.5,1124.9 1471.9,1123.1 1473.4,1121.5 1474.9,1122.6 1476.3,1125.2 1477.8,1122.1 1479.2,1121.3 1480.7,1115.7 1482.1,1125.9 1483.6,1112.2 1485.0,1125.0 1486.5,1111.9 1487.9,1111.9 1489.4,1111.9 1490.8,1125.6 1492.3,1123.3 1493.7,1112.8 1495.2,1111.5 1496.7,1123.2 1498.1,1111.6 1499.6,1126.5 1501.0,1111.7 1502.5,1123.1 1503.9,1113.2 1505.4,1123.0 1506.8,1127.2 1508.3,1126.2 1509.7,1122.9 1511.2,1119.6 1512.6,1117.8 1514.1,1124.9 1515.5,1125.9 1517.0,1124.3 1518.5,1119.6 1519.9,1126.0 1521.4,1117.1 1522.8,1115.8 1524.3,1113.1 1525.7,1115.2 1527.2,1129.9 1528.6,1125.1 1530.1,1118.5 1531.5,1130.1 1533.0,1114.3 1534.4,1118.1 1535.9,1120.0 1537.3,1117.2 1538.8,1128.9 1540.3,1117.8 1541.7,1122.4 1543.2,1131.4 1544.6,1122.9 1546.1,1118.2 1547.5,1126.4 1549.0,1130.6 1550.4,1120.6 1551.9,1116.8 1553.3,1122.2 1554.8,1130.6 1556.2,1118.4 1557.7,1120.7 1559.1,1119.3 1560.6,1132.6 1562.1,1132.0 1563.5,1119.0 1565.0,1119.1 1566.4,1120.7 1567.9,1131.7 1569.3,1119.1 1570.8,1128.7 1572.2,1131.3 1573.7,1134.5 1575.1,1135.3 1576.6,1125.3 1578.0,1134.3 1579.5,1136.2 1580.9,1136.5 1582.4,1134.9 1583.9,1131.4 1585.3,1120.8 1586.8,1130.3 1588.2,1119.7 1589.7,1134.9 1591.1,1122.3 1592.6,1127.8 1594.0,1121.6 1595.5,1135.6 1596.9,1127.3 1598.4,1126.0 1599.8,1121.0 1601.3,1134.3 1602.7,1120.9 1604.2,1124.9 1605.7,1136.6 1607.1,1128.5 1608.6,1125.2 1610.0,1137.4 1611.5,1124.3 1612.9,1139.3 1614.4,1125.6 1615.8,1124.8 1617.3,1138.3 1618.7,1122.2 1620.2,1138.2 1621.6,1133.0 1623.1,1137.2 1624.5,1129.0 1626.0,1126.3 1627.4,1129.9 1628.8,1126.1 1630.2,1124.5 1631.6,1128.8 1633.0,1135.9 1634.4,1127.8 1635.8,1126.4 1637.2,1138.2 1638.6,1125.7 1640.0,1140.6 1641.5,1125.9 1642.9,1128.8 1644.4,1132.5 1645.9,1129.3 1647.4,1135.7 1648.8,1140.5 1650.3,1134.5 1651.8,1133.7 1653.2,1138.3 1654.7,1130.9 1656.2,1132.7 1657.6,1132.6 1659.1,1130.3 1660.6,1137.1 1662.1,1144.7 1663.5,1139.3 1665.0,1128.3 1666.5,1130.7 1667.9,1136.0 1669.4,1128.9 1670.9,1140.3 1672.4,1141.3 1673.8,1140.1 1675.3,1138.7 1676.8,1131.7 1678.2,1133.6 1679.7,1131.8 1681.2,1136.8 1682.7,1144.8 1684.1,1133.8 1685.6,1142.7 1687.1,1135.4 1688.5,1136.7 1690.0,1146.3 1691.5,1133.1 1692.9,1145.9 1694.4,1130.7 1695.9,1144.2 1697.4,1135.1 1698.8,1146.3 1700.3,1131.0 1701.8,1145.7 1703.2,1146.1 1704.7,1148.2 1706.2,1144.7 1707.7,1132.8 1709.1,1144.4 1710.6,1134.9 1712.1,1148.9 1713.5,1146.6 1715.0,1142.1 1716.5,1131.8 1717.9,1136.4 1719.4,1143.2 1720.9,1148.9 1722.4,1133.1 1723.8,1135.5 1725.3,1146.2 1726.8,1149.7 1728.2,1150.0 1729.7,1135.5 1731.2,1146.3 1732.7,1133.8 1734.1,1132.5 1735.6,1144.4 1737.1,1138.2 1738.5,1144.1 1740.0,1137.3 1741.5,1132.2 1743.0,1135.0 1744.4,1132.7 1745.9,1148.5 1747.4,1133.6 1748.8,1134.7 1750.3,1133.5 1751.8,1148.9 1753.2,1145.3 1754.7,1135.5 1756.2,1135.8 1757.7,1135.7 1759.1,1135.2 1760.6,1140.2 1762.1,1151.2 1763.5,1151.6 1765.0,1152.0 1766.5,1134.6 1768.0,1149.2 1769.4,1138.8 1770.9,1144.5 1772.4,1138.0 1773.8,1148.1 1775.3,1138.6 1776.8,1151.2 1778.2,1136.7 1779.7,1139.6 1781.2,1149.4 1782.7,1135.4 1784.1,1134.6 1785.6,1135.3 1787.1,1148.6 1788.5,1152.9 1790.0,1142.2 1791.5,1141.4 1793.0,1135.4 1794.4,1135.6 1795.9,1137.3 1797.4,1144.7 1798.8,1139.0 1800.3,1139.9 1801.8,1147.3 1803.3,1152.5 1804.7,1136.0 1806.2,1136.5 1807.7,1137.5 1809.1,1151.7 1810.6,1141.6 1812.1,1152.2 1813.5,1144.5 1815.0,1137.6 1816.5,1148.9 1818.0,1138.0 1819.4,1151.8 1820.9,1138.2 1822.4,1138.8 1823.9,1152.4 1825.3,1152.0 1826.8,1148.8 1828.3,1144.2 1829.8,1150.2 1831.2,1140.2 1832.7,1137.5 1834.2,1142.3 1835.7,1149.6 1837.2,1139.9 1838.6,1151.7 1840.1,1153.8 1841.6,1143.5 1843.1,1142.9 1844.5,1139.6 1846.0,1153.5 1847.5,1144.0 1849.0,1155.9 1850.5,1146.4 1851.9,1149.9 1853.4,1143.4 1854.9,1148.8 1856.4,1153.3 1857.8,1142.8 1859.3,1151.6 1860.8,1157.2 1862.3,1145.1 1863.7,1142.1 1865.2,1156.7 1866.7,1140.9 1868.2,1157.6 1869.7,1157.5 1871.1,1145.4 1872.6,1149.3 1874.1,1142.5 1875.6,1152.3 1877.0,1141.2 1878.5,1156.7 1880.0,1142.5 1881.5,1158.0 1883.0,1144.4 1884.4,1146.8 1885.9,1142.0 1887.4,1147.4 1888.9,1142.8 1890.4,1158.9 1891.8,1157.6 1893.3,1159.8 1894.8,1149.6 1896.3,1154.9 1897.8,1152.3 1899.2,1160.3 1900.7,1153.8 1902.2,1158.2 1903.7,1147.9 1905.2,1157.6 1906.7,1157.8 1908.1,1150.2 1909.6,1146.9 1911.1,1146.0 1912.6,1159.4 1914.1,1161.4 1915.5,1147.2 1917.0,1155.1 1918.5,1157.1 1920.0,1146.4 1921.5,1161.1 1922.9,1147.8 1924.4,1158.2 1925.9,1155.7 1927.4,1159.3 1928.9,1157.2 1930.3,1147.9 1931.8,1146.7 1933.3,1159.3 1934.8,1162.8 1936.3,1154.5 1937.8,1163.1 1939.2,1164.5 1940.7,1157.5 1942.2,1151.3 1943.7,1149.5 1945.2,1158.5 1946.7,1164.0 1948.1,1147.6 1949.6,1156.9 1951.1,1165.3 1952.6,1162.7 1954.1,1161.8 1955.5,1151.7 1957.0,1148.3 1958.5,1162.9 1960.0,1163.9 1961.5,1149.8 1963.0,1149.8 1964.5,1150.7 1965.9,1159.7 1967.4,1159.7 1968.9,1154.5 1970.4,1166.7 1971.9,1163.5 1973.3,1159.2 1974.8,1151.7 1976.3,1150.2 1977.8,1157.7 1979.3,1166.5 1980.8,1163.7 1982.2,1167.0 1983.7,1153.5 1985.2,1155.7 1986.7,1158.1 1988.2,1152.9 1989.7,1162.9 1991.1,1151.7 1992.6,1160.8 1994.1,1158.3 1995.6,1154.5 1997.1,1150.3 1998.5,1154.3 2000.0,1156.1 2001.5,1154.1 2003.0,1155.5 2004.5,1155.2 2005.9,1156.4 2007.4,1153.3 2008.9,1151.1 2010.4,1151.6 2011.9,1157.0 2013.3,1165.4 2014.8,1155.8 2016.3,1153.6 2017.8,1163.8 2019.3,1154.3 2020.8,1156.5 2022.2,1167.6 2023.7,1157.7 2025.2,1155.3 2026.7,1154.8 2028.2,1163.3 2029.6,1170.3 2031.1,1162.8 2032.6,1167.6 2034.1,1150.7 2035.6,1170.3 2037.0,1160.5 2038.5,1168.0 2040.0,1170.2 2041.5,1163.4 2043.0,1168.4 2044.5,1152.0 2046.0,1168.5 2047.5,1153.1 2049.0,1151.7 2050.5,1156.1 2052.0,1160.0 2053.5,1165.1 2055.0,1154.2 2056.5,1164.6 2058.0,1152.0 2059.5,1170.6 2061.0,1169.9 2062.5,1158.6 2064.0,1157.2 2065.5,1160.8 2067.0,1170.8 2068.5,1166.2 2070.0,1168.4 2071.5,1166.3 2073.0,1171.6 2074.5,1153.7 2076.0,1170.1 2077.5,1157.5 2079.0,1153.5 2080.5,1156.8 2082.0,1153.7 2083.5,1168.8 2085.0,1166.8 2086.5,1161.6 2088.0,1169.7 2089.5,1158.0 2091.0,1163.2 2092.5,1165.0 2094.0,1161.4" stroke="#ff0000" stroke-width="2.2" fill="none" stroke-linejoin="bevel"/>
<path d="M1113.0,1064.2V1021.7 M1277.0,1093.2V1073.6 M726.0,962.8V973.6" stroke="#ff0000" stroke-width="5" fill="none"/>
<path d="M326.0,666.4 326.5,669.5 326.9,673.6 327.4,675.2 327.8,679.1 328.3,682.3 328.7,684.4 329.2,687.2 329.6,690.5 330.1,694.1 330.5,696.9 331.0,699.3 331.4,702.5 331.8,705.6 332.2,708.1 332.6,711.2 333.0,714.4 333.4,716.8 333.8,719.2 334.2,721.6 334.6,724.7 335.0,727.7 335.7,731.2 336.4,733.8 337.1,735.7 337.8,739.7 338.5,741.6 339.2,744.9 339.9,746.3 340.6,749.1 341.3,752.1 342.0,756.6 343.0,758.9 344.0,762.1 345.0,764.4 346.0,766.5 346.9,769.6 347.9,772.7 348.9,776.3 349.9,777.8 350.9,782.0 351.9,783.9 352.8,786.9 353.8,788.2 354.7,791.2 355.6,792.4 356.5,795.3 357.4,796.7 358.4,798.6 359.3,800.7 360.2,805.2 361.1,806.7 362.1,810.5 363.0,812.6 364.0,813.2 365.0,817.3 365.9,818.1 366.9,820.8 367.9,821.6 368.9,822.9 369.9,824.8 370.8,826.9 371.8,830.8 372.8,830.7 373.8,831.0 374.8,835.7 375.7,832.9 376.7,835.5 377.7,836.5 378.7,838.2 379.7,838.3 380.6,842.2 381.6,841.8 382.6,841.4 383.6,841.8 384.6,841.1 385.6,845.0 386.6,838.8 387.6,843.0 388.6,841.9 389.6,837.1 390.6,839.7 391.6,845.4 392.6,844.1 393.6,838.1 394.6,840.5 395.6,838.6 396.6,844.4 397.6,840.7 398.5,841.5 399.5,848.3 400.4,846.1 401.4,846.5 402.3,846.1 403.2,849.0 404.2,850.0 405.2,851.8 406.1,850.2 407.1,852.0 408.0,853.4 408.9,855.6 409.9,856.0 410.9,858.6 411.8,858.0 412.8,862.4 413.7,863.9 414.7,860.7 415.7,862.7 416.7,865.7 417.6,868.0 418.6,865.8 419.6,867.7 420.6,870.2 421.5,872.5 422.5,874.9 423.5,876.0 424.5,876.9 425.4,874.6 426.4,880.3 427.4,879.7 428.3,878.3 429.3,880.3 430.3,883.2 431.2,883.2 432.2,884.7 433.2,887.6 434.1,888.9 435.1,888.7 436.1,891.1 437.0,890.3 438.0,894.3 439.0,893.6 439.9,896.5 440.9,893.2 441.9,898.5 442.8,898.2 443.8,900.2 444.8,899.0 445.7,902.0 446.7,902.0 447.7,902.4 448.6,903.2 449.6,908.7 450.6,908.9 451.5,907.9 452.5,909.4 453.5,911.7 454.4,914.7 455.4,912.5 456.4,917.9 457.3,918.9 458.3,916.6 459.3,919.7 460.3,919.5 461.2,922.3 462.2,920.5 463.2,923.5 464.2,925.3 465.1,926.6 466.1,928.1 467.1,930.3 468.1,928.2 469.0,928.9 470.0,931.2 471.0,933.2 471.9,936.3 472.9,936.1 473.9,937.3 474.8,939.6 475.8,937.0 476.8,938.0 477.7,939.9 478.7,940.3 479.7,943.3 480.6,945.9 481.6,942.8 482.6,945.8 483.5,947.7 484.5,947.8 485.5,951.1 486.5,951.2 487.5,953.1 488.5,950.1 489.5,951.7 490.5,952.1 491.5,957.2 492.5,959.0 493.5,955.1 494.5,960.3 495.5,961.0 496.5,963.0 497.5,960.8 498.5,964.2 499.5,962.9 500.5,963.1 501.5,967.7 502.5,965.3 503.5,969.9 504.5,968.9 505.5,971.1 506.5,974.4 507.5,972.3 508.5,974.6 509.5,975.2 510.5,975.5 511.5,978.2 512.5,977.8 513.5,982.2 514.5,982.4 515.5,981.9 516.5,986.7 517.5,984.3 518.5,987.0 519.5,988.2 520.5,986.6 521.5,986.0 522.5,991.9 523.5,993.2 524.5,989.6 525.5,990.5 526.4,993.0 527.4,994.8 528.4,998.0 529.4,998.7 530.4,999.8 531.4,996.5 532.4,999.4 533.4,999.4 534.4,999.2 535.4,999.2 536.4,1000.9 537.3,1003.0 538.3,1002.6 539.3,1004.0 540.3,1004.5 541.2,1008.7 542.2,1009.0 543.2,1008.8 544.2,1011.3 545.1,1011.9 546.1,1014.2 547.1,1016.7 548.1,1014.7 549.0,1017.3 550.0,1016.1 551.0,1020.9 551.9,1020.2 552.9,1018.7 553.9,1020.2 554.8,1020.6 555.8,1021.7 556.8,1023.4 557.7,1027.2 558.7,1026.1 559.7,1026.1 560.6,1027.9 561.6,1028.0 562.6,1031.6 563.5,1028.7 564.5,1031.0 565.5,1032.1 566.4,1032.1 567.4,1036.2 568.4,1033.8 569.4,1035.4 570.3,1034.8 571.3,1039.8 572.3,1038.3 573.3,1040.9 574.2,1039.2 575.2,1038.9 576.2,1041.6 577.2,1045.1 578.1,1046.3 579.1,1044.3 580.1,1048.1 581.0,1044.1 582.0,1047.7 583.0,1046.9 583.9,1048.7 584.9,1048.2 585.9,1053.1 586.8,1050.2 587.8,1054.9 588.8,1050.6 589.7,1053.4 590.7,1054.2 591.7,1056.6 592.6,1055.2 593.6,1056.9 594.5,1055.2 595.5,1057.5 596.4,1060.8 597.3,1057.9 598.3,1060.9 599.2,1060.4 600.1,1060.8 601.1,1061.3 602.0,1066.4 603.0,1066.3 603.9,1065.0 604.9,1065.7 605.9,1068.5 606.8,1068.3 607.8,1071.0 608.8,1071.7 609.7,1069.4 610.7,1071.2 611.7,1071.0 612.6,1070.1 613.6,1071.7 614.6,1074.1 615.6,1073.6 616.5,1074.7 617.5,1074.4 618.5,1078.1 619.4,1077.6 620.4,1073.9 621.4,1079.1 622.3,1080.4 623.3,1080.4 624.3,1077.8 625.2,1078.6 626.2,1078.4 627.2,1077.7 628.1,1081.1 629.1,1084.2 630.1,1084.3 631.0,1084.1 632.0,1086.0 632.9,1085.3 633.9,1082.8 634.9,1087.4 635.8,1085.0 636.8,1089.2 637.8,1085.9 638.7,1084.8 639.7,1089.8 640.7,1086.1 641.6,1091.9 642.6,1089.4 643.6,1092.5 644.5,1088.0 645.5,1092.0 646.4,1093.5 647.4,1090.3 648.4,1094.2 649.3,1091.5 650.3,1093.2 651.3,1094.2 652.2,1096.5 653.2,1093.6 654.2,1094.5 655.1,1099.2 656.1,1099.3 657.0,1098.0 658.0,1097.3 659.0,1100.8 659.9,1099.7 660.9,1099.1 661.9,1103.6 662.8,1099.4 663.8,1104.2 664.8,1103.4 665.7,1104.1 666.7,1104.9 667.7,1105.9 668.6,1107.4 669.6,1108.2 670.5,1104.0 671.5,1103.9 672.5,1109.7 673.4,1105.2 674.4,1105.9 675.4,1110.6 676.3,1112.2 677.3,1111.8 678.3,1109.9 679.2,1109.4 680.2,1114.4 681.1,1113.0 682.1,1112.7 683.1,1108.6 684.0,1110.5 685.0,1109.6 686.0,1116.6 686.9,1112.2 687.9,1112.2 688.9,1115.7 689.8,1113.4 690.8,1116.4 691.8,1119.8 692.7,1119.7 693.7,1115.6 694.6,1121.0 695.6,1117.7 696.6,1119.1 697.5,1118.1 698.5,1123.6 699.5,1119.0 700.4,1122.6 701.4,1122.2 702.4,1123.2 703.3,1119.4 704.3,1123.1 705.3,1126.9 706.2,1124.2 707.2,1122.0 708.2,1121.5 709.1,1124.0 710.1,1127.5 711.1,1122.7 712.1,1123.4 713.0,1128.3 714.0,1130.4 715.0,1127.7 715.9,1129.5 716.9,1127.3 717.9,1127.9 718.8,1129.9 719.8,1128.4 720.8,1130.7 721.7,1128.9 722.7,1135.2 723.7,1133.5 724.6,1129.7 725.6,1130.8 726.6,1136.1 727.5,1133.0 728.5,1132.5 729.4,1131.0 730.4,1136.5 731.4,1136.0 732.3,1138.5 733.3,1133.7 734.3,1138.6 735.2,1139.6 736.2,1140.0 737.2,1139.8 738.1,1137.8 739.1,1135.0 740.1,1140.1 741.0,1135.6 742.0,1136.5 742.9,1139.4 743.9,1137.5 744.9,1140.5 745.8,1144.1 746.8,1139.1 747.8,1144.4 748.7,1146.4 749.7,1139.0 750.7,1142.4 751.6,1145.1 752.6,1145.6 753.5,1142.3 754.5,1146.9 755.5,1143.7 756.4,1142.6 757.4,1145.5 758.4,1146.6 759.3,1148.8 760.3,1147.7 761.3,1143.3 762.2,1147.7 763.2,1146.1 764.2,1149.4 765.1,1144.4 766.1,1149.7 767.0,1151.2 768.0,1145.3 769.0,1145.4 769.9,1153.0 770.9,1153.4 771.9,1147.7 772.8,1154.2 773.8,1150.2 774.8,1151.4 775.7,1151.3 776.7,1150.4 777.6,1155.4 778.6,1153.3 779.6,1156.4 780.5,1154.0 781.5,1156.9 782.5,1153.7 783.4,1153.6 784.4,1154.7 785.4,1150.2 786.3,1157.0 787.3,1151.9 788.3,1159.1 789.2,1151.7 790.2,1157.6 791.1,1158.5 792.1,1156.8 793.1,1153.2 794.0,1159.7 795.0,1155.7 796.0,1155.6 796.9,1159.4 797.9,1162.1 798.9,1154.5 799.8,1157.7 800.8,1160.0 801.7,1156.6 802.7,1162.8 803.7,1160.0 804.6,1155.4 805.6,1156.3 806.6,1156.4 807.5,1159.4 808.5,1163.8 809.5,1156.7 810.4,1157.2 811.4,1158.0 812.4,1161.5 813.3,1160.4 814.3,1160.5 815.2,1158.2 816.2,1164.6 817.2,1161.6 818.1,1165.4 819.1,1157.9 820.1,1162.0 821.0,1161.3 822.0,1165.9 823.0,1164.7 823.9,1163.3 824.9,1160.1 825.9,1165.1 826.8,1167.3 827.8,1166.3 828.8,1168.3 829.7,1164.9 830.7,1162.5 831.7,1161.8 832.7,1167.4 833.6,1167.7 834.6,1166.2 835.6,1167.8 836.5,1165.2 837.5,1168.7 838.5,1167.4 839.4,1163.5 840.4,1166.8 841.4,1167.5 842.3,1163.7 843.3,1170.3 844.3,1169.5 845.3,1164.1 846.3,1165.1 847.3,1163.7 848.3,1171.9 849.3,1165.8 850.3,1171.6 851.3,1169.3 852.3,1165.9 853.3,1167.5 854.3,1168.2 855.3,1172.7 856.3,1169.8 857.3,1168.3 858.3,1175.3 859.3,1172.0 860.2,1168.7 861.2,1176.5 862.2,1174.4 863.2,1172.8 864.2,1170.7 865.2,1175.6 866.2,1171.0 867.2,1178.3 868.2,1177.0 869.2,1177.1 870.2,1177.9 871.2,1179.1 872.2,1176.1 873.2,1179.3 874.2,1173.7 875.2,1179.1 876.2,1179.9 877.2,1175.3 878.2,1174.6 879.1,1182.0 880.1,1181.9 881.1,1174.9 882.1,1179.5 883.0,1175.9 884.0,1176.2 885.0,1183.2 886.0,1180.9 887.0,1181.9 887.9,1177.6 888.9,1182.4 889.9,1181.6 890.9,1178.7 891.9,1180.3 892.8,1178.1 893.8,1181.6 894.8,1177.9 895.8,1180.5 896.7,1184.5 897.7,1182.8 898.7,1182.5 899.7,1178.0 900.7,1184.8 901.6,1183.1 902.6,1186.4 903.6,1186.4 904.6,1186.5 905.6,1183.0 906.5,1185.4 907.5,1179.2 908.5,1178.9 909.5,1186.0 910.4,1185.1 911.4,1187.8 912.4,1182.0 913.4,1183.9 914.4,1186.8 915.3,1185.3 916.3,1187.7 917.3,1183.6 918.3,1188.0 919.2,1188.3 920.2,1188.9 921.2,1184.3 922.2,1189.3 923.2,1183.8 924.1,1186.6 925.1,1190.4 926.1,1187.4 927.1,1187.1 928.1,1185.1 929.0,1186.7 930.0,1186.6 931.0,1188.6 932.0,1187.4 932.9,1185.5 933.9,1184.5 934.9,1192.1 935.9,1188.8 936.9,1184.8 937.8,1186.5 938.8,1189.6 939.8,1185.9 940.8,1192.2 941.8,1189.0 942.7,1190.5 943.7,1190.5 944.7,1186.0 945.7,1193.4 946.6,1192.7 947.6,1186.3 948.6,1190.5 949.6,1190.2 950.6,1188.3 951.5,1189.1 952.5,1188.2 953.5,1191.8 954.5,1190.1 955.4,1187.2 956.4,1188.5 957.4,1188.0 958.4,1192.6 959.3,1192.1 960.3,1190.7 961.3,1192.4 962.3,1193.3 963.2,1189.6 964.2,1188.2 965.2,1196.9 966.2,1189.8 967.1,1190.4 968.1,1195.0 969.1,1197.8 970.1,1189.8 971.0,1192.6 972.0,1197.0 973.0,1189.9 974.0,1191.7 974.9,1195.3 975.9,1197.4 976.9,1190.8 977.9,1193.9 978.8,1195.7 979.8,1195.4 980.8,1195.5 981.8,1200.0 982.7,1200.0 983.7,1192.9 984.7,1193.5 985.7,1195.0 986.7,1192.4 987.6,1193.0 988.6,1197.1 989.6,1201.2 990.6,1194.8 991.5,1194.1 992.5,1198.2 993.5,1195.4 994.5,1192.9 995.5,1193.8 996.4,1201.3 997.4,1194.3 998.4,1199.4 999.4,1197.5 1000.4,1201.0 1001.3,1198.7 1002.3,1196.2 1003.3,1196.2 1004.3,1196.6 1005.2,1196.8 1006.2,1197.1 1007.2,1197.7 1008.2,1200.7 1009.2,1200.2 1010.1,1196.0 1011.1,1199.5 1012.1,1204.5 1013.1,1204.7 1014.1,1199.0 1015.0,1197.6 1016.0,1199.1 1017.0,1197.7 1018.0,1199.1 1018.9,1205.7 1019.9,1205.4 1020.9,1201.4 1021.9,1202.5 1022.9,1204.1 1023.8,1204.2 1024.8,1204.2 1025.8,1204.7 1026.8,1203.4 1027.7,1198.9 1028.7,1204.5 1029.7,1204.5 1030.7,1199.5 1031.7,1199.9 1032.6,1204.4 1033.6,1202.0 1034.6,1206.4 1035.6,1201.1 1036.6,1205.1 1037.5,1204.7 1038.5,1199.8 1039.5,1201.5 1040.5,1202.4 1041.4,1202.0 1042.4,1199.9 1043.4,1201.5 1044.4,1204.6 1045.4,1201.6 1046.3,1205.8 1047.3,1203.7 1048.3,1204.2 1049.3,1201.8 1050.3,1207.7 1051.2,1200.7 1052.2,1209.5 1053.2,1206.0 1054.2,1209.8 1055.1,1205.8 1056.1,1203.9 1057.1,1204.1 1058.1,1210.0 1059.1,1205.7 1060.1,1204.3 1061.1,1201.8 1062.1,1201.7 1063.1,1204.5 1064.1,1204.8 1065.1,1208.6 1066.1,1201.2 1067.1,1204.8 1068.0,1201.3 1069.0,1202.6 1070.0,1205.1 1071.0,1209.2 1072.0,1201.2 1073.0,1201.6 1074.0,1207.3 1075.0,1205.4 1076.0,1200.7 1077.0,1207.0 1078.0,1209.9 1079.0,1207.5 1080.0,1210.3 1081.0,1207.7 1082.0,1203.4 1083.0,1208.4 1084.0,1206.1 1085.0,1201.2 1086.0,1204.1 1087.0,1210.2 1088.0,1207.2 1089.0,1204.4 1090.0,1207.9 1091.0,1207.7 1092.0,1202.4 1093.0,1205.6 1094.0,1209.2 1095.0,1202.2 1096.0,1206.7 1097.0,1202.4 1098.0,1204.1 1099.0,1209.1 1100.0,1205.1 1101.0,1209.8 1102.0,1209.0 1102.9,1208.2 1103.9,1203.6 1104.9,1206.7 1105.9,1211.0 1106.8,1208.7 1107.8,1203.4 1108.8,1207.7 1109.8,1207.5 1110.8,1207.8 1111.7,1207.2 1112.7,1211.2 1113.7,1208.6 1114.7,1211.9 1115.6,1213.0 1116.6,1212.5 1117.6,1211.5 1118.6,1204.3 1119.5,1204.3 1120.5,1206.0 1121.5,1209.5 1122.5,1207.5 1123.5,1206.0 1124.4,1213.9 1125.4,1209.2 1126.4,1207.1 1127.4,1210.3 1128.3,1214.9 1129.3,1212.6 1130.3,1214.7 1131.3,1206.9 1132.3,1213.1 1133.2,1209.3 1134.2,1209.7 1135.2,1210.8 1136.2,1210.9 1137.1,1214.3 1138.1,1209.6 1139.1,1211.3 1140.1,1210.9 1141.1,1212.7 1142.1,1212.0 1143.1,1206.8 1144.1,1214.7 1145.1,1212.5 1146.1,1207.5 1147.0,1210.8 1148.0,1214.5 1149.0,1214.0 1150.0,1209.8 1151.0,1208.5 1152.0,1213.5 1153.0,1211.8 1154.0,1211.1 1155.0,1209.5 1156.0,1210.4 1157.0,1205.0 1158.0,1206.7 1159.0,1204.8 1160.0,1201.8 1161.0,1199.4 1162.0,1199.3 1163.0,1196.5 1164.0,1195.1 1165.0,1193.0 1166.0,1193.8 1167.0,1189.4 1168.0,1192.5 1169.0,1193.7 1170.0,1197.8 1171.0,1195.1 1172.0,1198.8 1173.0,1198.6 1174.0,1203.5 1175.0,1200.3 1176.0,1205.7 1177.0,1205.4 1178.0,1203.9 1179.0,1206.3 1180.0,1206.5 1181.0,1208.0 1182.0,1210.7 1183.0,1208.4 1184.0,1212.5 1185.0,1212.3 1186.0,1206.8 1187.0,1206.1 1188.0,1211.3 1189.0,1208.5 1189.9,1207.8 1190.9,1214.1 1191.9,1211.1 1192.9,1208.4 1193.9,1211.3 1194.9,1211.4 1195.9,1214.0 1196.9,1210.5 1197.9,1211.5 1198.9,1208.3 1199.9,1215.2 1200.8,1216.0 1201.8,1206.7 1202.7,1214.5 1203.7,1216.8 1204.7,1215.7 1205.6,1215.1 1206.6,1208.9 1207.6,1217.2 1208.5,1210.7 1209.5,1215.9 1210.4,1215.1 1211.4,1213.3 1212.4,1217.1 1213.3,1217.1 1214.3,1211.6 1215.2,1212.0 1216.2,1216.6 1217.2,1211.7 1218.2,1216.1 1219.2,1209.3 1220.1,1209.5 1221.1,1210.9 1222.1,1210.0 1223.1,1211.5 1224.1,1209.0 1225.1,1208.4 1226.1,1210.6 1227.0,1208.5 1228.0,1210.2 1229.0,1210.7 1230.0,1216.4 1231.0,1210.8 1232.0,1212.6 1232.9,1216.2 1233.9,1211.0 1234.9,1209.1 1235.9,1212.2 1236.8,1215.0 1237.6,1209.2 1238.5,1214.1 1239.3,1211.3 M1241.3,1156.4 1242.2,1161.5 1243.2,1157.7 1244.1,1158.5 1245.0,1160.2 1246.0,1161.5 1247.0,1165.5 1248.0,1164.8 1249.0,1170.3 1250.0,1171.9 1251.0,1169.9 1252.0,1174.2 1252.9,1173.1 1253.9,1174.7 1254.8,1176.4 1255.7,1177.5 1256.7,1178.5 1257.6,1181.9 1258.5,1179.2 1259.4,1179.7 1260.4,1183.5 1261.3,1186.1 1262.2,1187.0 1263.2,1187.8 1264.1,1183.3 1265.1,1189.5 1266.0,1187.8 1267.0,1189.7 1268.0,1186.5 1268.9,1185.2 1269.9,1190.1 1270.8,1189.3 1271.8,1190.6 1272.8,1185.7 1273.7,1185.4 1274.7,1191.2 1275.7,1184.9 1276.6,1193.2 1277.6,1186.3 1278.6,1190.7 1279.5,1189.3 1280.5,1188.7 1281.5,1187.6 1282.4,1193.2 1283.4,1194.6 1284.3,1193.3 1285.3,1192.4 1286.3,1193.6 1287.2,1192.3 1288.2,1192.7 1289.2,1196.0 1290.1,1190.8 1291.1,1190.5 1292.1,1197.1 1293.0,1197.3 1294.0,1193.5 1295.0,1196.6 1295.9,1196.3 1296.9,1198.3 1297.9,1191.0 1298.8,1198.4 1299.8,1195.1 1300.8,1194.9 1301.8,1197.3 1302.7,1196.9 1303.7,1195.5 1304.7,1194.5 1305.6,1200.3 1306.6,1199.6 1307.6,1193.6 1308.5,1196.5 1309.5,1199.9 1310.5,1201.2 1311.4,1202.2 1312.4,1196.0 1313.4,1202.0 1314.3,1200.4 1315.3,1195.0 1316.3,1196.4 1317.2,1196.4 1318.2,1195.6 1319.1,1201.4 1320.1,1198.1 1321.1,1201.8 1322.0,1196.4 1323.0,1203.8 1324.0,1202.4 1324.9,1203.4 1325.9,1202.0 1326.9,1200.8 1327.8,1198.6 1328.8,1205.6 1329.8,1198.5 1330.7,1202.1 1331.7,1198.6 1332.6,1198.7 1333.6,1204.4 1334.6,1206.3 1335.5,1202.5 1336.5,1205.9 1337.5,1206.6 1338.4,1203.7 1339.4,1206.1 1340.4,1201.7 1341.3,1200.5 1342.3,1201.0 1343.2,1199.4 1344.2,1200.1 1345.2,1206.8 1346.1,1208.4 1347.1,1200.4 1348.1,1206.9 1349.0,1207.6 1350.0,1206.9 1351.0,1205.3 1351.9,1205.3 1352.9,1207.4 1353.9,1203.3 1354.8,1208.2 1355.8,1203.1 1356.7,1201.8 1357.7,1210.3 1358.7,1202.6 1359.6,1203.8 1360.6,1202.6 1361.6,1202.5 1362.5,1203.8 1363.5,1211.2 1364.5,1209.4 1365.4,1207.1 1366.4,1203.8 1367.4,1211.3 1368.3,1208.5 1369.3,1212.0 1370.3,1209.1 1371.2,1205.6 1372.2,1205.8 1373.2,1212.4 1374.2,1207.6 1375.1,1207.2 1376.1,1209.7 1377.1,1208.7 1378.0,1209.0 1379.0,1213.9 1380.0,1211.2 1380.9,1216.2 1381.9,1208.3 1382.9,1210.3 1383.8,1216.0 1384.8,1212.1 1385.8,1215.3 1386.7,1212.3 1387.7,1212.1 1388.7,1216.8 1389.6,1211.4 1390.6,1213.7 1391.5,1214.0 1392.5,1208.9 1393.5,1209.6 1394.4,1211.0 1395.4,1208.8 1396.4,1215.7 1397.3,1214.7 1398.3,1212.5 1399.3,1213.3 1400.2,1209.6 1401.2,1213.3 1402.2,1217.8 1403.1,1209.9 1404.1,1216.1 1405.0,1216.6 1406.0,1212.0 1407.0,1212.9 1407.9,1211.9 1408.9,1215.7 1409.9,1214.0 1410.8,1211.8 1411.8,1213.5 1412.8,1213.2 1413.7,1220.5 1414.7,1217.0 1415.6,1215.9 1416.6,1216.2 1417.6,1217.2 1418.5,1221.2 1419.5,1215.6 1420.5,1212.7 1421.4,1214.0 1422.4,1212.5 1423.4,1214.5 1424.3,1218.4 1425.3,1215.3 1426.3,1221.0 1427.2,1222.2 1428.2,1214.4 1429.1,1221.2 1430.1,1219.9 1431.1,1223.3 1432.0,1215.6 1433.0,1221.4 1434.0,1217.3 1435.0,1216.0 1436.0,1216.7 1437.0,1223.5 1438.0,1219.1 1439.0,1218.8 1440.0,1223.2 1441.0,1223.1 1442.0,1223.6 1443.0,1215.1 1444.0,1224.7 1445.0,1221.8 1445.9,1223.7 1446.9,1222.5 1447.8,1223.2 1448.7,1222.9 1449.7,1220.5 1450.6,1215.5 1451.5,1220.3 1452.4,1214.6 1453.4,1217.1 1454.3,1216.4 1455.2,1216.4 1456.2,1220.1 1457.1,1220.6 1458.1,1220.0 1459.1,1217.0 1460.0,1217.5 1461.0,1211.5 1462.0,1212.5 1463.0,1215.3 1463.9,1212.6 1464.8,1212.9 1465.7,1215.3 1466.5,1210.3 1467.4,1216.2 1468.3,1215.1 1469.2,1208.4 1470.2,1211.9 1471.1,1217.0 1472.1,1210.2 1473.0,1207.4 1474.0,1209.0 1474.9,1212.9 1475.9,1208.2 1476.9,1207.7 1477.8,1208.5 1478.8,1215.7 1479.7,1217.2 1480.7,1208.3 1481.6,1212.8 1482.6,1214.0 1483.6,1207.6 1484.5,1216.0 1485.5,1214.5 1486.4,1213.8 1487.4,1211.7 1488.3,1214.8 1489.3,1215.1 1490.2,1209.5 1491.2,1208.9 1492.1,1216.2 1493.0,1211.1 1493.9,1210.3 1494.9,1215.3 1495.8,1213.0 1496.7,1213.2 1497.7,1213.6 1498.6,1213.7 1499.6,1212.4 1500.5,1215.6 1501.5,1213.8 1502.5,1214.3 1503.5,1214.4 1504.4,1207.0 1505.4,1216.3 1506.4,1214.2 1507.4,1207.9 1508.3,1214.1 1509.3,1214.1 1510.3,1212.3 1511.3,1210.5 1512.2,1212.9 1513.2,1209.5 1514.2,1211.9 1515.2,1214.2 1516.1,1215.1 1517.1,1213.7 1518.1,1216.6 1519.1,1216.4 1520.1,1216.3 1521.1,1213.1 1522.1,1209.8 1523.1,1207.8 1524.0,1212.2 1525.0,1211.4 1526.0,1207.1 1527.0,1208.1 1528.0,1213.9 1529.0,1212.0 1530.0,1212.8 1530.9,1207.9 1531.9,1207.8 1532.8,1207.9 1533.8,1205.9 1534.7,1202.6 1535.6,1204.6 1536.6,1204.9 1537.5,1202.1 1538.4,1206.4 1539.4,1207.2 1540.3,1202.2 1541.2,1205.4 1542.2,1207.5 1543.1,1206.8 1544.1,1211.8 1545.0,1207.5 1545.9,1212.2 1546.8,1208.1 1547.8,1212.6 1548.7,1206.2 1549.6,1212.8 1550.5,1213.0 1551.4,1210.6 1552.4,1208.3 1553.3,1209.3 1554.2,1206.9 1555.2,1208.5 1556.2,1210.9 1557.2,1211.1 1558.2,1210.8 1559.2,1214.8 1560.2,1208.6 1561.2,1214.2 1562.1,1215.1 1563.1,1210.3 1564.1,1207.7 1565.1,1215.0 1566.1,1214.3 1567.1,1212.1 1568.1,1216.3 1569.0,1210.0 1570.0,1213.8 1570.9,1212.7 1571.8,1210.6 1572.8,1212.6 1573.7,1208.8 1574.6,1209.6 1575.6,1210.2 1576.5,1212.1 1577.4,1208.2 1578.2,1202.0 1579.1,1201.6 1580.0,1196.3 1581.0,1195.5 1582.0,1196.1 1583.0,1191.0 1584.0,1190.1 1585.0,1194.2 1586.0,1190.4 1587.0,1192.5 1588.0,1190.4 1589.0,1195.8 1590.0,1195.3 1591.0,1196.4 1592.0,1191.8 1593.0,1194.4 1594.0,1198.7 1595.0,1195.3 1596.0,1194.7 1597.0,1200.5 1598.0,1196.6 1599.0,1199.4 1600.0,1196.8 1601.0,1196.6 1602.0,1199.8 1603.0,1201.4 1603.9,1202.9 1604.9,1204.7 1605.9,1201.7 1606.9,1203.5 1607.9,1200.7 1608.9,1206.2 1609.9,1201.7 1610.9,1198.8 1611.8,1200.3 1612.8,1199.6 1613.8,1204.5 1614.8,1199.6 1615.7,1202.6 1616.7,1201.2 1617.7,1206.3 1618.7,1200.8 1619.6,1200.2 1620.6,1200.8 1621.6,1199.7 1622.6,1204.8 1623.5,1203.3 1624.5,1205.2 1625.5,1199.1 1626.5,1206.2 1627.4,1203.5 1628.4,1207.9 1629.4,1207.9 1630.3,1197.9 1631.3,1203.6 1632.3,1200.1 1633.2,1204.2 1634.2,1198.6 1635.2,1202.6 1636.1,1204.4 1637.1,1202.4 1638.1,1199.6 1639.0,1203.8 1640.0,1205.6 M1642.2,1154.0 1643.1,1153.3 1644.1,1153.1 1645.0,1156.9 1645.9,1157.2 1646.9,1161.5 1647.8,1162.1 1648.8,1163.4 1649.7,1161.0 1650.7,1164.8 1651.6,1166.5 1652.5,1165.4 1653.5,1168.7 1654.4,1169.4 1655.4,1170.3 1656.3,1174.4 1657.2,1174.0 1658.2,1173.9 1659.1,1176.5 1660.1,1180.7 1661.0,1179.4 1662.0,1179.0 1663.0,1179.1 1664.0,1182.2 1664.9,1183.8 1665.9,1183.1 1666.9,1186.4 1667.9,1185.2 1668.9,1187.7 1669.9,1186.9 1670.9,1187.8 1671.8,1187.3 1672.8,1185.9 1673.8,1190.7 1674.8,1192.6 1675.8,1192.0 1676.8,1190.1 1677.7,1188.0 1678.7,1189.0 1679.7,1192.2 1680.7,1193.4 1681.7,1188.7 1682.6,1196.4 1683.6,1194.9 1684.6,1195.4 1685.6,1197.9 1686.6,1195.3 1687.5,1194.6 1688.5,1192.8 1689.5,1196.9 1690.5,1197.3 1691.5,1199.7 1692.5,1199.9 1693.4,1196.7 1694.4,1200.0 1695.4,1201.3 1696.4,1197.2 1697.4,1199.1 1698.3,1199.4 1699.3,1198.8 1700.3,1199.0 1701.3,1197.2 1702.2,1197.1 1703.2,1198.4 1704.2,1201.1 1705.1,1201.9 1706.1,1203.5 1707.0,1199.1 1708.0,1201.4 1709.0,1201.0 1709.9,1198.8 1710.9,1206.2 1711.9,1200.7 1712.8,1204.1 1713.8,1204.3 1714.8,1205.3 1715.7,1206.1 1716.7,1207.3 1717.7,1202.0 1718.6,1205.3 1719.6,1202.5 1720.5,1202.5 1721.5,1207.2 1722.5,1207.1 1723.4,1207.1 1724.4,1201.9 1725.4,1209.7 1726.3,1206.8 1727.3,1205.6 1728.3,1209.8 1729.2,1202.7 1730.2,1204.6 1731.2,1203.4 1732.1,1205.3 1733.1,1209.7 1734.1,1204.0 1735.0,1209.8 1736.0,1208.5 1737.0,1206.2 1738.0,1211.2 1738.9,1204.0 1739.9,1206.0 1740.9,1208.6 1741.8,1207.8 1742.8,1207.9 1743.8,1213.8 1744.7,1209.8 1745.7,1211.1 1746.7,1209.3 1747.6,1207.0 1748.6,1206.2 1749.6,1212.7 1750.5,1212.4 1751.5,1215.2 1752.5,1207.8 1753.4,1209.3 1754.4,1209.1 1755.3,1211.2 1756.3,1205.7 1757.3,1213.6 1758.2,1213.0 1759.2,1206.4 1760.2,1212.9 1761.1,1209.0 1762.1,1210.1 1763.1,1207.7 1764.0,1212.8 1765.0,1211.7 1766.0,1206.0 1766.9,1207.4 1767.9,1213.5 1768.8,1207.3 1769.8,1210.8 1770.8,1212.9 1771.7,1207.9 1772.7,1211.3 1773.7,1210.6 1774.6,1207.8 1775.6,1214.5 1776.6,1207.5 1777.5,1215.1 1778.5,1210.1 1779.4,1210.6 1780.4,1209.3 1781.4,1215.7 1782.3,1217.2 1783.3,1209.2 1784.3,1213.7 1785.2,1208.0 1786.2,1211.6 1787.2,1209.9 1788.1,1214.2 1789.1,1210.0 1790.1,1214.2 1791.0,1217.7 1792.0,1210.7 1792.9,1209.6 1793.9,1217.0 1794.9,1209.1 1795.8,1216.0 1796.8,1217.6 1797.8,1210.2 1798.7,1214.1 1799.7,1218.7 1800.7,1210.6 1801.6,1217.5 1802.6,1216.0 1803.5,1210.1 1804.5,1211.2 1805.5,1218.8 1806.4,1210.4 1807.4,1213.4 1808.4,1210.3 1809.3,1212.6 1810.3,1212.2 1811.3,1218.1 1812.2,1211.1 1813.2,1211.5 1814.2,1215.9 1815.1,1212.6 1816.1,1215.9 1817.0,1211.3 1818.0,1212.7 1819.0,1214.4 1819.9,1218.3 1820.9,1219.6 1821.9,1213.1 1822.8,1216.4 1823.8,1220.0 1824.7,1216.7 1825.7,1219.5 1826.6,1220.1 1827.5,1214.7 1828.5,1217.8 1829.5,1217.0 1830.4,1213.5 1831.4,1219.0 1832.3,1220.3 1833.2,1212.6 1834.2,1220.8 1835.2,1213.2 1836.1,1216.2 1837.0,1213.8 1838.0,1216.1 1839.0,1216.5 1840.0,1215.0 1841.0,1212.9 1842.0,1213.2 1843.0,1213.5 1844.0,1212.1 1845.0,1207.4 1846.0,1210.4 1847.0,1206.5 1848.0,1211.0 1849.0,1205.8 1850.0,1210.3 1851.0,1207.1 1852.0,1205.1 1853.0,1209.5 1854.0,1207.5 1855.0,1204.9 1856.0,1212.4 1857.0,1206.6 1858.0,1211.1 1859.0,1208.5 1860.0,1212.2 1861.0,1207.2 1862.0,1205.6 1863.0,1207.6 1864.0,1210.7 1865.0,1207.3 1866.0,1211.9 1867.0,1208.1 1868.0,1207.0 1869.0,1210.8 1870.0,1211.2 1871.0,1211.7 1872.0,1207.1 1873.0,1212.0 1874.0,1212.9 1875.0,1209.3 1876.0,1208.3 1876.9,1212.2 1877.9,1213.7 1878.9,1207.8 1879.9,1215.3 1880.8,1210.6 1881.8,1209.9 1882.8,1213.1 1883.8,1207.8 1884.7,1215.5 1885.7,1216.5 1886.7,1207.0 1887.7,1210.4 1888.6,1207.6 1889.6,1208.0 1890.6,1215.1 1891.6,1214.1 1892.5,1209.0 1893.5,1206.6 1894.5,1213.3 1895.5,1211.5 1896.4,1214.2 1897.4,1214.6 1898.4,1215.1 1899.4,1211.2 1900.3,1212.7 1901.3,1215.8 1902.3,1210.6 1903.3,1211.1 1904.2,1209.4 1905.2,1212.0 1906.2,1211.1 1907.2,1212.3 1908.2,1212.2 1909.1,1206.4 1910.1,1212.3 1911.1,1211.1 1912.1,1205.8 1913.0,1207.8 1914.0,1206.7 1915.0,1209.5 1916.0,1210.7 1917.0,1205.8 1918.0,1204.5 1919.0,1204.7 1920.0,1206.2 1921.0,1201.1 1922.0,1203.7 1923.0,1200.3 1924.0,1202.0 1925.0,1202.4 1926.0,1198.2 1927.0,1200.9 1928.0,1198.4 1929.0,1198.3 1930.0,1199.1 1931.0,1195.8 1932.0,1196.5 1933.0,1200.3 1934.0,1202.9 1935.0,1196.6 1936.0,1201.0 1937.0,1204.2 1938.0,1202.6 1939.0,1203.8 1940.0,1204.7 1941.0,1202.1 1942.0,1202.9 1943.0,1206.3 1944.0,1199.3 1945.0,1205.1 1945.9,1205.7 1946.9,1206.7 1947.9,1203.9 1948.8,1206.7 1949.8,1208.0 1950.8,1199.4 1951.7,1199.1 1952.7,1200.5 1953.7,1206.1 1954.7,1200.9 1955.6,1199.6 1956.6,1205.8 1957.6,1201.6 1958.5,1201.8 1959.5,1206.6 1960.5,1205.3 1961.4,1206.8 1962.4,1203.5 1963.4,1206.3 1964.3,1206.6 1965.3,1200.6 1966.3,1206.4 1967.2,1205.5 1968.2,1206.0 1969.2,1205.5 1970.2,1210.9 1971.1,1207.0 1972.1,1203.9 1973.1,1210.9 1974.1,1202.8 1975.0,1205.3 1976.0,1210.1 1977.0,1209.2 1977.9,1205.0 1978.9,1210.2 1979.9,1206.4 1980.9,1209.3 1981.8,1207.6 1982.8,1208.6 1983.8,1210.2 1984.8,1205.2 1985.7,1211.8 1986.7,1207.5 1987.7,1205.4 1988.6,1207.0 1989.6,1206.1 1990.6,1206.2 1991.5,1212.3 1992.5,1206.4 1993.5,1211.4 1994.4,1213.9 1995.4,1205.8 1996.4,1209.2 1997.3,1213.9 1998.3,1209.4 1999.3,1210.8 2000.3,1209.5 2001.2,1213.4 2002.2,1213.6 2003.2,1210.4 2004.1,1206.4 2005.1,1215.1 2006.1,1208.6 2007.0,1213.7 2008.0,1215.3 2009.0,1210.5 2009.9,1208.2 2010.9,1211.0 2011.9,1208.8 2012.8,1209.1 2013.8,1216.6 2014.8,1215.9 2015.7,1209.6 2016.7,1212.8 2017.7,1212.6 2018.7,1208.3 2019.6,1217.7 2020.6,1209.6 2021.6,1208.6 2022.5,1217.4 2023.5,1214.2 2024.5,1218.4 2025.4,1208.8 2026.4,1212.0 2027.4,1215.6 2028.3,1213.1 2029.3,1218.7 2030.3,1209.8 2031.2,1216.5 2032.2,1214.3 2033.2,1210.3 2034.2,1212.5 2035.1,1211.7 2036.1,1217.4 2037.1,1212.7 2038.1,1216.3 2039.0,1217.2 2040.0,1218.9 2041.0,1212.6 2041.9,1213.3 2042.9,1218.9 2043.9,1210.4 2044.9,1212.4 2045.8,1218.8 2046.8,1212.2 2047.8,1213.7 2048.8,1210.1 2049.7,1217.7 2050.7,1212.7 2051.7,1214.1 2052.6,1210.5 2053.6,1210.2 2054.6,1211.6 2055.5,1213.7 2056.5,1212.5 2057.5,1213.5 2058.4,1212.6 2059.4,1220.0 2060.4,1212.7 2061.3,1216.7 2062.3,1215.6 2063.3,1217.6 2064.3,1219.5 2065.2,1218.6 2066.2,1213.5 2067.2,1215.1 2068.1,1213.8 2069.1,1218.8 2070.1,1213.2 2071.0,1215.6 2072.0,1218.8 2073.0,1215.4 2074.0,1218.2 2075.0,1217.2 2076.0,1213.7 2077.0,1214.7 2078.0,1216.9 2079.0,1215.7 2080.0,1218.4 2081.0,1218.0 2082.0,1212.0 2083.0,1212.2 2084.0,1211.5 2085.0,1214.0 2086.0,1210.7 2087.0,1216.0 2088.0,1214.2 2089.0,1211.6 2090.0,1219.7 2091.0,1211.2 2092.0,1218.1 2093.0,1212.9 2094.0,1218.3" stroke="#000000" stroke-opacity="0.28" stroke-width="14.5" fill="none" stroke-linejoin="round" stroke-linecap="butt"/>
<path d="M326.0,666.4 326.5,669.5 326.9,673.6 327.4,675.2 327.8,679.1 328.3,682.3 328.7,684.4 329.2,687.2 329.6,690.5 330.1,694.1 330.5,696.9 331.0,699.3 331.4,702.5 331.8,705.6 332.2,708.1 332.6,711.2 333.0,714.4 333.4,716.8 333.8,719.2 334.2,721.6 334.6,724.7 335.0,727.7 335.7,731.2 336.4,733.8 337.1,735.7 337.8,739.7 338.5,741.6 339.2,744.9 339.9,746.3 340.6,749.1 341.3,752.1 342.0,756.6 343.0,758.9 344.0,762.1 345.0,764.4 346.0,766.5 346.9,769.6 347.9,772.7 348.9,776.3 349.9,777.8 350.9,782.0 351.9,783.9 352.8,786.9 353.8,788.2 354.7,791.2 355.6,792.4 356.5,795.3 357.4,796.7 358.4,798.6 359.3,800.7 360.2,805.2 361.1,806.7 362.1,810.5 363.0,812.6 364.0,813.2 365.0,817.3 365.9,818.1 366.9,820.8 367.9,821.6 368.9,822.9 369.9,824.8 370.8,826.9 371.8,830.8 372.8,830.7 373.8,831.0 374.8,835.7 375.7,832.9 376.7,835.5 377.7,836.5 378.7,838.2 379.7,838.3 380.6,842.2 381.6,841.8 382.6,841.4 383.6,841.8 384.6,841.1 385.6,845.0 386.6,838.8 387.6,843.0 388.6,841.9 389.6,837.1 390.6,839.7 391.6,845.4 392.6,844.1 393.6,838.1 394.6,840.5 395.6,838.6 396.6,844.4 397.6,840.7 398.5,841.5 399.5,848.3 400.4,846.1 401.4,846.5 402.3,846.1 403.2,849.0 404.2,850.0 405.2,851.8 406.1,850.2 407.1,852.0 408.0,853.4 408.9,855.6 409.9,856.0 410.9,858.6 411.8,858.0 412.8,862.4 413.7,863.9 414.7,860.7 415.7,862.7 416.7,865.7 417.6,868.0 418.6,865.8 419.6,867.7 420.6,870.2 421.5,872.5 422.5,874.9 423.5,876.0 424.5,876.9 425.4,874.6 426.4,880.3 427.4,879.7 428.3,878.3 429.3,880.3 430.3,883.2 431.2,883.2 432.2,884.7 433.2,887.6 434.1,888.9 435.1,888.7 436.1,891.1 437.0,890.3 438.0,894.3 439.0,893.6 439.9,896.5 440.9,893.2 441.9,898.5 442.8,898.2 443.8,900.2 444.8,899.0 445.7,902.0 446.7,902.0 447.7,902.4 448.6,903.2 449.6,908.7 450.6,908.9 451.5,907.9 452.5,909.4 453.5,911.7 454.4,914.7 455.4,912.5 456.4,917.9 457.3,918.9 458.3,916.6 459.3,919.7 460.3,919.5 461.2,922.3 462.2,920.5 463.2,923.5 464.2,925.3 465.1,926.6 466.1,928.1 467.1,930.3 468.1,928.2 469.0,928.9 470.0,931.2 471.0,933.2 471.9,936.3 472.9,936.1 473.9,937.3 474.8,939.6 475.8,937.0 476.8,938.0 477.7,939.9 478.7,940.3 479.7,943.3 480.6,945.9 481.6,942.8 482.6,945.8 483.5,947.7 484.5,947.8 485.5,951.1 486.5,951.2 487.5,953.1 488.5,950.1 489.5,951.7 490.5,952.1 491.5,957.2 492.5,959.0 493.5,955.1 494.5,960.3 495.5,961.0 496.5,963.0 497.5,960.8 498.5,964.2 499.5,962.9 500.5,963.1 501.5,967.7 502.5,965.3 503.5,969.9 504.5,968.9 505.5,971.1 506.5,974.4 507.5,972.3 508.5,974.6 509.5,975.2 510.5,975.5 511.5,978.2 512.5,977.8 513.5,982.2 514.5,982.4 515.5,981.9 516.5,986.7 517.5,984.3 518.5,987.0 519.5,988.2 520.5,986.6 521.5,986.0 522.5,991.9 523.5,993.2 524.5,989.6 525.5,990.5 526.4,993.0 527.4,994.8 528.4,998.0 529.4,998.7 530.4,999.8 531.4,996.5 532.4,999.4 533.4,999.4 534.4,999.2 535.4,999.2 536.4,1000.9 537.3,1003.0 538.3,1002.6 539.3,1004.0 540.3,1004.5 541.2,1008.7 542.2,1009.0 543.2,1008.8 544.2,1011.3 545.1,1011.9 546.1,1014.2 547.1,1016.7 548.1,1014.7 549.0,1017.3 550.0,1016.1 551.0,1020.9 551.9,1020.2 552.9,1018.7 553.9,1020.2 554.8,1020.6 555.8,1021.7 556.8,1023.4 557.7,1027.2 558.7,1026.1 559.7,1026.1 560.6,1027.9 561.6,1028.0 562.6,1031.6 563.5,1028.7 564.5,1031.0 565.5,1032.1 566.4,1032.1 567.4,1036.2 568.4,1033.8 569.4,1035.4 570.3,1034.8 571.3,1039.8 572.3,1038.3 573.3,1040.9 574.2,1039.2 575.2,1038.9 576.2,1041.6 577.2,1045.1 578.1,1046.3 579.1,1044.3 580.1,1048.1 581.0,1044.1 582.0,1047.7 583.0,1046.9 583.9,1048.7 584.9,1048.2 585.9,1053.1 586.8,1050.2 587.8,1054.9 588.8,1050.6 589.7,1053.4 590.7,1054.2 591.7,1056.6 592.6,1055.2 593.6,1056.9 594.5,1055.2 595.5,1057.5 596.4,1060.8 597.3,1057.9 598.3,1060.9 599.2,1060.4 600.1,1060.8 601.1,1061.3 602.0,1066.4 603.0,1066.3 603.9,1065.0 604.9,1065.7 605.9,1068.5 606.8,1068.3 607.8,1071.0 608.8,1071.7 609.7,1069.4 610.7,1071.2 611.7,1071.0 612.6,1070.1 613.6,1071.7 614.6,1074.1 615.6,1073.6 616.5,1074.7 617.5,1074.4 618.5,1078.1 619.4,1077.6 620.4,1073.9 621.4,1079.1 622.3,1080.4 623.3,1080.4 624.3,1077.8 625.2,1078.6 626.2,1078.4 627.2,1077.7 628.1,1081.1 629.1,1084.2 630.1,1084.3 631.0,1084.1 632.0,1086.0 632.9,1085.3 633.9,1082.8 634.9,1087.4 635.8,1085.0 636.8,1089.2 637.8,1085.9 638.7,1084.8 639.7,1089.8 640.7,1086.1 641.6,1091.9 642.6,1089.4 643.6,1092.5 644.5,1088.0 645.5,1092.0 646.4,1093.5 647.4,1090.3 648.4,1094.2 649.3,1091.5 650.3,1093.2 651.3,1094.2 652.2,1096.5 653.2,1093.6 654.2,1094.5 655.1,1099.2 656.1,1099.3 657.0,1098.0 658.0,1097.3 659.0,1100.8 659.9,1099.7 660.9,1099.1 661.9,1103.6 662.8,1099.4 663.8,1104.2 664.8,1103.4 665.7,1104.1 666.7,1104.9 667.7,1105.9 668.6,1107.4 669.6,1108.2 670.5,1104.0 671.5,1103.9 672.5,1109.7 673.4,1105.2 674.4,1105.9 675.4,1110.6 676.3,1112.2 677.3,1111.8 678.3,1109.9 679.2,1109.4 680.2,1114.4 681.1,1113.0 682.1,1112.7 683.1,1108.6 684.0,1110.5 685.0,1109.6 686.0,1116.6 686.9,1112.2 687.9,1112.2 688.9,1115.7 689.8,1113.4 690.8,1116.4 691.8,1119.8 692.7,1119.7 693.7,1115.6 694.6,1121.0 695.6,1117.7 696.6,1119.1 697.5,1118.1 698.5,1123.6 699.5,1119.0 700.4,1122.6 701.4,1122.2 702.4,1123.2 703.3,1119.4 704.3,1123.1 705.3,1126.9 706.2,1124.2 707.2,1122.0 708.2,1121.5 709.1,1124.0 710.1,1127.5 711.1,1122.7 712.1,1123.4 713.0,1128.3 714.0,1130.4 715.0,1127.7 715.9,1129.5 716.9,1127.3 717.9,1127.9 718.8,1129.9 719.8,1128.4 720.8,1130.7 721.7,1128.9 722.7,1135.2 723.7,1133.5 724.6,1129.7 725.6,1130.8 726.6,1136.1 727.5,1133.0 728.5,1132.5 729.4,1131.0 730.4,1136.5 731.4,1136.0 732.3,1138.5 733.3,1133.7 734.3,1138.6 735.2,1139.6 736.2,1140.0 737.2,1139.8 738.1,1137.8 739.1,1135.0 740.1,1140.1 741.0,1135.6 742.0,1136.5 742.9,1139.4 743.9,1137.5 744.9,1140.5 745.8,1144.1 746.8,1139.1 747.8,1144.4 748.7,1146.4 749.7,1139.0 750.7,1142.4 751.6,1145.1 752.6,1145.6 753.5,1142.3 754.5,1146.9 755.5,1143.7 756.4,1142.6 757.4,1145.5 758.4,1146.6 759.3,1148.8 760.3,1147.7 761.3,1143.3 762.2,1147.7 763.2,1146.1 764.2,1149.4 765.1,1144.4 766.1,1149.7 767.0,1151.2 768.0,1145.3 769.0,1145.4 769.9,1153.0 770.9,1153.4 771.9,1147.7 772.8,1154.2 773.8,1150.2 774.8,1151.4 775.7,1151.3 776.7,1150.4 777.6,1155.4 778.6,1153.3 779.6,1156.4 780.5,1154.0 781.5,1156.9 782.5,1153.7 783.4,1153.6 784.4,1154.7 785.4,1150.2 786.3,1157.0 787.3,1151.9 788.3,1159.1 789.2,1151.7 790.2,1157.6 791.1,1158.5 792.1,1156.8 793.1,1153.2 794.0,1159.7 795.0,1155.7 796.0,1155.6 796.9,1159.4 797.9,1162.1 798.9,1154.5 799.8,1157.7 800.8,1160.0 801.7,1156.6 802.7,1162.8 803.7,1160.0 804.6,1155.4 805.6,1156.3 806.6,1156.4 807.5,1159.4 808.5,1163.8 809.5,1156.7 810.4,1157.2 811.4,1158.0 812.4,1161.5 813.3,1160.4 814.3,1160.5 815.2,1158.2 816.2,1164.6 817.2,1161.6 818.1,1165.4 819.1,1157.9 820.1,1162.0 821.0,1161.3 822.0,1165.9 823.0,1164.7 823.9,1163.3 824.9,1160.1 825.9,1165.1 826.8,1167.3 827.8,1166.3 828.8,1168.3 829.7,1164.9 830.7,1162.5 831.7,1161.8 832.7,1167.4 833.6,1167.7 834.6,1166.2 835.6,1167.8 836.5,1165.2 837.5,1168.7 838.5,1167.4 839.4,1163.5 840.4,1166.8 841.4,1167.5 842.3,1163.7 843.3,1170.3 844.3,1169.5 845.3,1164.1 846.3,1165.1 847.3,1163.7 848.3,1171.9 849.3,1165.8 850.3,1171.6 851.3,1169.3 852.3,1165.9 853.3,1167.5 854.3,1168.2 855.3,1172.7 856.3,1169.8 857.3,1168.3 858.3,1175.3 859.3,1172.0 860.2,1168.7 861.2,1176.5 862.2,1174.4 863.2,1172.8 864.2,1170.7 865.2,1175.6 866.2,1171.0 867.2,1178.3 868.2,1177.0 869.2,1177.1 870.2,1177.9 871.2,1179.1 872.2,1176.1 873.2,1179.3 874.2,1173.7 875.2,1179.1 876.2,1179.9 877.2,1175.3 878.2,1174.6 879.1,1182.0 880.1,1181.9 881.1,1174.9 882.1,1179.5 883.0,1175.9 884.0,1176.2 885.0,1183.2 886.0,1180.9 887.0,1181.9 887.9,1177.6 888.9,1182.4 889.9,1181.6 890.9,1178.7 891.9,1180.3 892.8,1178.1 893.8,1181.6 894.8,1177.9 895.8,1180.5 896.7,1184.5 897.7,1182.8 898.7,1182.5 899.7,1178.0 900.7,1184.8 901.6,1183.1 902.6,1186.4 903.6,1186.4 904.6,1186.5 905.6,1183.0 906.5,1185.4 907.5,1179.2 908.5,1178.9 909.5,1186.0 910.4,1185.1 911.4,1187.8 912.4,1182.0 913.4,1183.9 914.4,1186.8 915.3,1185.3 916.3,1187.7 917.3,1183.6 918.3,1188.0 919.2,1188.3 920.2,1188.9 921.2,1184.3 922.2,1189.3 923.2,1183.8 924.1,1186.6 925.1,1190.4 926.1,1187.4 927.1,1187.1 928.1,1185.1 929.0,1186.7 930.0,1186.6 931.0,1188.6 932.0,1187.4 932.9,1185.5 933.9,1184.5 934.9,1192.1 935.9,1188.8 936.9,1184.8 937.8,1186.5 938.8,1189.6 939.8,1185.9 940.8,1192.2 941.8,1189.0 942.7,1190.5 943.7,1190.5 944.7,1186.0 945.7,1193.4 946.6,1192.7 947.6,1186.3 948.6,1190.5 949.6,1190.2 950.6,1188.3 951.5,1189.1 952.5,1188.2 953.5,1191.8 954.5,1190.1 955.4,1187.2 956.4,1188.5 957.4,1188.0 958.4,1192.6 959.3,1192.1 960.3,1190.7 961.3,1192.4 962.3,1193.3 963.2,1189.6 964.2,1188.2 965.2,1196.9 966.2,1189.8 967.1,1190.4 968.1,1195.0 969.1,1197.8 970.1,1189.8 971.0,1192.6 972.0,1197.0 973.0,1189.9 974.0,1191.7 974.9,1195.3 975.9,1197.4 976.9,1190.8 977.9,1193.9 978.8,1195.7 979.8,1195.4 980.8,1195.5 981.8,1200.0 982.7,1200.0 983.7,1192.9 984.7,1193.5 985.7,1195.0 986.7,1192.4 987.6,1193.0 988.6,1197.1 989.6,1201.2 990.6,1194.8 991.5,1194.1 992.5,1198.2 993.5,1195.4 994.5,1192.9 995.5,1193.8 996.4,1201.3 997.4,1194.3 998.4,1199.4 999.4,1197.5 1000.4,1201.0 1001.3,1198.7 1002.3,1196.2 1003.3,1196.2 1004.3,1196.6 1005.2,1196.8 1006.2,1197.1 1007.2,1197.7 1008.2,1200.7 1009.2,1200.2 1010.1,1196.0 1011.1,1199.5 1012.1,1204.5 1013.1,1204.7 1014.1,1199.0 1015.0,1197.6 1016.0,1199.1 1017.0,1197.7 1018.0,1199.1 1018.9,1205.7 1019.9,1205.4 1020.9,1201.4 1021.9,1202.5 1022.9,1204.1 1023.8,1204.2 1024.8,1204.2 1025.8,1204.7 1026.8,1203.4 1027.7,1198.9 1028.7,1204.5 1029.7,1204.5 1030.7,1199.5 1031.7,1199.9 1032.6,1204.4 1033.6,1202.0 1034.6,1206.4 1035.6,1201.1 1036.6,1205.1 1037.5,1204.7 1038.5,1199.8 1039.5,1201.5 1040.5,1202.4 1041.4,1202.0 1042.4,1199.9 1043.4,1201.5 1044.4,1204.6 1045.4,1201.6 1046.3,1205.8 1047.3,1203.7 1048.3,1204.2 1049.3,1201.8 1050.3,1207.7 1051.2,1200.7 1052.2,1209.5 1053.2,1206.0 1054.2,1209.8 1055.1,1205.8 1056.1,1203.9 1057.1,1204.1 1058.1,1210.0 1059.1,1205.7 1060.1,1204.3 1061.1,1201.8 1062.1,1201.7 1063.1,1204.5 1064.1,1204.8 1065.1,1208.6 1066.1,1201.2 1067.1,1204.8 1068.0,1201.3 1069.0,1202.6 1070.0,1205.1 1071.0,1209.2 1072.0,1201.2 1073.0,1201.6 1074.0,1207.3 1075.0,1205.4 1076.0,1200.7 1077.0,1207.0 1078.0,1209.9 1079.0,1207.5 1080.0,1210.3 1081.0,1207.7 1082.0,1203.4 1083.0,1208.4 1084.0,1206.1 1085.0,1201.2 1086.0,1204.1 1087.0,1210.2 1088.0,1207.2 1089.0,1204.4 1090.0,1207.9 1091.0,1207.7 1092.0,1202.4 1093.0,1205.6 1094.0,1209.2 1095.0,1202.2 1096.0,1206.7 1097.0,1202.4 1098.0,1204.1 1099.0,1209.1 1100.0,1205.1 1101.0,1209.8 1102.0,1209.0 1102.9,1208.2 1103.9,1203.6 1104.9,1206.7 1105.9,1211.0 1106.8,1208.7 1107.8,1203.4 1108.8,1207.7 1109.8,1207.5 1110.8,1207.8 1111.7,1207.2 1112.7,1211.2 1113.7,1208.6 1114.7,1211.9 1115.6,1213.0 1116.6,1212.5 1117.6,1211.5 1118.6,1204.3 1119.5,1204.3 1120.5,1206.0 1121.5,1209.5 1122.5,1207.5 1123.5,1206.0 1124.4,1213.9 1125.4,1209.2 1126.4,1207.1 1127.4,1210.3 1128.3,1214.9 1129.3,1212.6 1130.3,1214.7 1131.3,1206.9 1132.3,1213.1 1133.2,1209.3 1134.2,1209.7 1135.2,1210.8 1136.2,1210.9 1137.1,1214.3 1138.1,1209.6 1139.1,1211.3 1140.1,1210.9 1141.1,1212.7 1142.1,1212.0 1143.1,1206.8 1144.1,1214.7 1145.1,1212.5 1146.1,1207.5 1147.0,1210.8 1148.0,1214.5 1149.0,1214.0 1150.0,1209.8 1151.0,1208.5 1152.0,1213.5 1153.0,1211.8 1154.0,1211.1 1155.0,1209.5 1156.0,1210.4 1157.0,1205.0 1158.0,1206.7 1159.0,1204.8 1160.0,1201.8 1161.0,1199.4 1162.0,1199.3 1163.0,1196.5 1164.0,1195.1 1165.0,1193.0 1166.0,1193.8 1167.0,1189.4 1168.0,1192.5 1169.0,1193.7 1170.0,1197.8 1171.0,1195.1 1172.0,1198.8 1173.0,1198.6 1174.0,1203.5 1175.0,1200.3 1176.0,1205.7 1177.0,1205.4 1178.0,1203.9 1179.0,1206.3 1180.0,1206.5 1181.0,1208.0 1182.0,1210.7 1183.0,1208.4 1184.0,1212.5 1185.0,1212.3 1186.0,1206.8 1187.0,1206.1 1188.0,1211.3 1189.0,1208.5 1189.9,1207.8 1190.9,1214.1 1191.9,1211.1 1192.9,1208.4 1193.9,1211.3 1194.9,1211.4 1195.9,1214.0 1196.9,1210.5 1197.9,1211.5 1198.9,1208.3 1199.9,1215.2 1200.8,1216.0 1201.8,1206.7 1202.7,1214.5 1203.7,1216.8 1204.7,1215.7 1205.6,1215.1 1206.6,1208.9 1207.6,1217.2 1208.5,1210.7 1209.5,1215.9 1210.4,1215.1 1211.4,1213.3 1212.4,1217.1 1213.3,1217.1 1214.3,1211.6 1215.2,1212.0 1216.2,1216.6 1217.2,1211.7 1218.2,1216.1 1219.2,1209.3 1220.1,1209.5 1221.1,1210.9 1222.1,1210.0 1223.1,1211.5 1224.1,1209.0 1225.1,1208.4 1226.1,1210.6 1227.0,1208.5 1228.0,1210.2 1229.0,1210.7 1230.0,1216.4 1231.0,1210.8 1232.0,1212.6 1232.9,1216.2 1233.9,1211.0 1234.9,1209.1 1235.9,1212.2 1236.8,1215.0 1237.6,1209.2 1238.5,1214.1 1239.3,1211.3 M1241.3,1156.4 1242.2,1161.5 1243.2,1157.7 1244.1,1158.5 1245.0,1160.2 1246.0,1161.5 1247.0,1165.5 1248.0,1164.8 1249.0,1170.3 1250.0,1171.9 1251.0,1169.9 1252.0,1174.2 1252.9,1173.1 1253.9,1174.7 1254.8,1176.4 1255.7,1177.5 1256.7,1178.5 1257.6,1181.9 1258.5,1179.2 1259.4,1179.7 1260.4,1183.5 1261.3,1186.1 1262.2,1187.0 1263.2,1187.8 1264.1,1183.3 1265.1,1189.5 1266.0,1187.8 1267.0,1189.7 1268.0,1186.5 1268.9,1185.2 1269.9,1190.1 1270.8,1189.3 1271.8,1190.6 1272.8,1185.7 1273.7,1185.4 1274.7,1191.2 1275.7,1184.9 1276.6,1193.2 1277.6,1186.3 1278.6,1190.7 1279.5,1189.3 1280.5,1188.7 1281.5,1187.6 1282.4,1193.2 1283.4,1194.6 1284.3,1193.3 1285.3,1192.4 1286.3,1193.6 1287.2,1192.3 1288.2,1192.7 1289.2,1196.0 1290.1,1190.8 1291.1,1190.5 1292.1,1197.1 1293.0,1197.3 1294.0,1193.5 1295.0,1196.6 1295.9,1196.3 1296.9,1198.3 1297.9,1191.0 1298.8,1198.4 1299.8,1195.1 1300.8,1194.9 1301.8,1197.3 1302.7,1196.9 1303.7,1195.5 1304.7,1194.5 1305.6,1200.3 1306.6,1199.6 1307.6,1193.6 1308.5,1196.5 1309.5,1199.9 1310.5,1201.2 1311.4,1202.2 1312.4,1196.0 1313.4,1202.0 1314.3,1200.4 1315.3,1195.0 1316.3,1196.4 1317.2,1196.4 1318.2,1195.6 1319.1,1201.4 1320.1,1198.1 1321.1,1201.8 1322.0,1196.4 1323.0,1203.8 1324.0,1202.4 1324.9,1203.4 1325.9,1202.0 1326.9,1200.8 1327.8,1198.6 1328.8,1205.6 1329.8,1198.5 1330.7,1202.1 1331.7,1198.6 1332.6,1198.7 1333.6,1204.4 1334.6,1206.3 1335.5,1202.5 1336.5,1205.9 1337.5,1206.6 1338.4,1203.7 1339.4,1206.1 1340.4,1201.7 1341.3,1200.5 1342.3,1201.0 1343.2,1199.4 1344.2,1200.1 1345.2,1206.8 1346.1,1208.4 1347.1,1200.4 1348.1,1206.9 1349.0,1207.6 1350.0,1206.9 1351.0,1205.3 1351.9,1205.3 1352.9,1207.4 1353.9,1203.3 1354.8,1208.2 1355.8,1203.1 1356.7,1201.8 1357.7,1210.3 1358.7,1202.6 1359.6,1203.8 1360.6,1202.6 1361.6,1202.5 1362.5,1203.8 1363.5,1211.2 1364.5,1209.4 1365.4,1207.1 1366.4,1203.8 1367.4,1211.3 1368.3,1208.5 1369.3,1212.0 1370.3,1209.1 1371.2,1205.6 1372.2,1205.8 1373.2,1212.4 1374.2,1207.6 1375.1,1207.2 1376.1,1209.7 1377.1,1208.7 1378.0,1209.0 1379.0,1213.9 1380.0,1211.2 1380.9,1216.2 1381.9,1208.3 1382.9,1210.3 1383.8,1216.0 1384.8,1212.1 1385.8,1215.3 1386.7,1212.3 1387.7,1212.1 1388.7,1216.8 1389.6,1211.4 1390.6,1213.7 1391.5,1214.0 1392.5,1208.9 1393.5,1209.6 1394.4,1211.0 1395.4,1208.8 1396.4,1215.7 1397.3,1214.7 1398.3,1212.5 1399.3,1213.3 1400.2,1209.6 1401.2,1213.3 1402.2,1217.8 1403.1,1209.9 1404.1,1216.1 1405.0,1216.6 1406.0,1212.0 1407.0,1212.9 1407.9,1211.9 1408.9,1215.7 1409.9,1214.0 1410.8,1211.8 1411.8,1213.5 1412.8,1213.2 1413.7,1220.5 1414.7,1217.0 1415.6,1215.9 1416.6,1216.2 1417.6,1217.2 1418.5,1221.2 1419.5,1215.6 1420.5,1212.7 1421.4,1214.0 1422.4,1212.5 1423.4,1214.5 1424.3,1218.4 1425.3,1215.3 1426.3,1221.0 1427.2,1222.2 1428.2,1214.4 1429.1,1221.2 1430.1,1219.9 1431.1,1223.3 1432.0,1215.6 1433.0,1221.4 1434.0,1217.3 1435.0,1216.0 1436.0,1216.7 1437.0,1223.5 1438.0,1219.1 1439.0,1218.8 1440.0,1223.2 1441.0,1223.1 1442.0,1223.6 1443.0,1215.1 1444.0,1224.7 1445.0,1221.8 1445.9,1223.7 1446.9,1222.5 1447.8,1223.2 1448.7,1222.9 1449.7,1220.5 1450.6,1215.5 1451.5,1220.3 1452.4,1214.6 1453.4,1217.1 1454.3,1216.4 1455.2,1216.4 1456.2,1220.1 1457.1,1220.6 1458.1,1220.0 1459.1,1217.0 1460.0,1217.5 1461.0,1211.5 1462.0,1212.5 1463.0,1215.3 1463.9,1212.6 1464.8,1212.9 1465.7,1215.3 1466.5,1210.3 1467.4,1216.2 1468.3,1215.1 1469.2,1208.4 1470.2,1211.9 1471.1,1217.0 1472.1,1210.2 1473.0,1207.4 1474.0,1209.0 1474.9,1212.9 1475.9,1208.2 1476.9,1207.7 1477.8,1208.5 1478.8,1215.7 1479.7,1217.2 1480.7,1208.3 1481.6,1212.8 1482.6,1214.0 1483.6,1207.6 1484.5,1216.0 1485.5,1214.5 1486.4,1213.8 1487.4,1211.7 1488.3,1214.8 1489.3,1215.1 1490.2,1209.5 1491.2,1208.9 1492.1,1216.2 1493.0,1211.1 1493.9,1210.3 1494.9,1215.3 1495.8,1213.0 1496.7,1213.2 1497.7,1213.6 1498.6,1213.7 1499.6,1212.4 1500.5,1215.6 1501.5,1213.8 1502.5,1214.3 1503.5,1214.4 1504.4,1207.0 1505.4,1216.3 1506.4,1214.2 1507.4,1207.9 1508.3,1214.1 1509.3,1214.1 1510.3,1212.3 1511.3,1210.5 1512.2,1212.9 1513.2,1209.5 1514.2,1211.9 1515.2,1214.2 1516.1,1215.1 1517.1,1213.7 1518.1,1216.6 1519.1,1216.4 1520.1,1216.3 1521.1,1213.1 1522.1,1209.8 1523.1,1207.8 1524.0,1212.2 1525.0,1211.4 1526.0,1207.1 1527.0,1208.1 1528.0,1213.9 1529.0,1212.0 1530.0,1212.8 1530.9,1207.9 1531.9,1207.8 1532.8,1207.9 1533.8,1205.9 1534.7,1202.6 1535.6,1204.6 1536.6,1204.9 1537.5,1202.1 1538.4,1206.4 1539.4,1207.2 1540.3,1202.2 1541.2,1205.4 1542.2,1207.5 1543.1,1206.8 1544.1,1211.8 1545.0,1207.5 1545.9,1212.2 1546.8,1208.1 1547.8,1212.6 1548.7,1206.2 1549.6,1212.8 1550.5,1213.0 1551.4,1210.6 1552.4,1208.3 1553.3,1209.3 1554.2,1206.9 1555.2,1208.5 1556.2,1210.9 1557.2,1211.1 1558.2,1210.8 1559.2,1214.8 1560.2,1208.6 1561.2,1214.2 1562.1,1215.1 1563.1,1210.3 1564.1,1207.7 1565.1,1215.0 1566.1,1214.3 1567.1,1212.1 1568.1,1216.3 1569.0,1210.0 1570.0,1213.8 1570.9,1212.7 1571.8,1210.6 1572.8,1212.6 1573.7,1208.8 1574.6,1209.6 1575.6,1210.2 1576.5,1212.1 1577.4,1208.2 1578.2,1202.0 1579.1,1201.6 1580.0,1196.3 1581.0,1195.5 1582.0,1196.1 1583.0,1191.0 1584.0,1190.1 1585.0,1194.2 1586.0,1190.4 1587.0,1192.5 1588.0,1190.4 1589.0,1195.8 1590.0,1195.3 1591.0,1196.4 1592.0,1191.8 1593.0,1194.4 1594.0,1198.7 1595.0,1195.3 1596.0,1194.7 1597.0,1200.5 1598.0,1196.6 1599.0,1199.4 1600.0,1196.8 1601.0,1196.6 1602.0,1199.8 1603.0,1201.4 1603.9,1202.9 1604.9,1204.7 1605.9,1201.7 1606.9,1203.5 1607.9,1200.7 1608.9,1206.2 1609.9,1201.7 1610.9,1198.8 1611.8,1200.3 1612.8,1199.6 1613.8,1204.5 1614.8,1199.6 1615.7,1202.6 1616.7,1201.2 1617.7,1206.3 1618.7,1200.8 1619.6,1200.2 1620.6,1200.8 1621.6,1199.7 1622.6,1204.8 1623.5,1203.3 1624.5,1205.2 1625.5,1199.1 1626.5,1206.2 1627.4,1203.5 1628.4,1207.9 1629.4,1207.9 1630.3,1197.9 1631.3,1203.6 1632.3,1200.1 1633.2,1204.2 1634.2,1198.6 1635.2,1202.6 1636.1,1204.4 1637.1,1202.4 1638.1,1199.6 1639.0,1203.8 1640.0,1205.6 M1642.2,1154.0 1643.1,1153.3 1644.1,1153.1 1645.0,1156.9 1645.9,1157.2 1646.9,1161.5 1647.8,1162.1 1648.8,1163.4 1649.7,1161.0 1650.7,1164.8 1651.6,1166.5 1652.5,1165.4 1653.5,1168.7 1654.4,1169.4 1655.4,1170.3 1656.3,1174.4 1657.2,1174.0 1658.2,1173.9 1659.1,1176.5 1660.1,1180.7 1661.0,1179.4 1662.0,1179.0 1663.0,1179.1 1664.0,1182.2 1664.9,1183.8 1665.9,1183.1 1666.9,1186.4 1667.9,1185.2 1668.9,1187.7 1669.9,1186.9 1670.9,1187.8 1671.8,1187.3 1672.8,1185.9 1673.8,1190.7 1674.8,1192.6 1675.8,1192.0 1676.8,1190.1 1677.7,1188.0 1678.7,1189.0 1679.7,1192.2 1680.7,1193.4 1681.7,1188.7 1682.6,1196.4 1683.6,1194.9 1684.6,1195.4 1685.6,1197.9 1686.6,1195.3 1687.5,1194.6 1688.5,1192.8 1689.5,1196.9 1690.5,1197.3 1691.5,1199.7 1692.5,1199.9 1693.4,1196.7 1694.4,1200.0 1695.4,1201.3 1696.4,1197.2 1697.4,1199.1 1698.3,1199.4 1699.3,1198.8 1700.3,1199.0 1701.3,1197.2 1702.2,1197.1 1703.2,1198.4 1704.2,1201.1 1705.1,1201.9 1706.1,1203.5 1707.0,1199.1 1708.0,1201.4 1709.0,1201.0 1709.9,1198.8 1710.9,1206.2 1711.9,1200.7 1712.8,1204.1 1713.8,1204.3 1714.8,1205.3 1715.7,1206.1 1716.7,1207.3 1717.7,1202.0 1718.6,1205.3 1719.6,1202.5 1720.5,1202.5 1721.5,1207.2 1722.5,1207.1 1723.4,1207.1 1724.4,1201.9 1725.4,1209.7 1726.3,1206.8 1727.3,1205.6 1728.3,1209.8 1729.2,1202.7 1730.2,1204.6 1731.2,1203.4 1732.1,1205.3 1733.1,1209.7 1734.1,1204.0 1735.0,1209.8 1736.0,1208.5 1737.0,1206.2 1738.0,1211.2 1738.9,1204.0 1739.9,1206.0 1740.9,1208.6 1741.8,1207.8 1742.8,1207.9 1743.8,1213.8 1744.7,1209.8 1745.7,1211.1 1746.7,1209.3 1747.6,1207.0 1748.6,1206.2 1749.6,1212.7 1750.5,1212.4 1751.5,1215.2 1752.5,1207.8 1753.4,1209.3 1754.4,1209.1 1755.3,1211.2 1756.3,1205.7 1757.3,1213.6 1758.2,1213.0 1759.2,1206.4 1760.2,1212.9 1761.1,1209.0 1762.1,1210.1 1763.1,1207.7 1764.0,1212.8 1765.0,1211.7 1766.0,1206.0 1766.9,1207.4 1767.9,1213.5 1768.8,1207.3 1769.8,1210.8 1770.8,1212.9 1771.7,1207.9 1772.7,1211.3 1773.7,1210.6 1774.6,1207.8 1775.6,1214.5 1776.6,1207.5 1777.5,1215.1 1778.5,1210.1 1779.4,1210.6 1780.4,1209.3 1781.4,1215.7 1782.3,1217.2 1783.3,1209.2 1784.3,1213.7 1785.2,1208.0 1786.2,1211.6 1787.2,1209.9 1788.1,1214.2 1789.1,1210.0 1790.1,1214.2 1791.0,1217.7 1792.0,1210.7 1792.9,1209.6 1793.9,1217.0 1794.9,1209.1 1795.8,1216.0 1796.8,1217.6 1797.8,1210.2 1798.7,1214.1 1799.7,1218.7 1800.7,1210.6 1801.6,1217.5 1802.6,1216.0 1803.5,1210.1 1804.5,1211.2 1805.5,1218.8 1806.4,1210.4 1807.4,1213.4 1808.4,1210.3 1809.3,1212.6 1810.3,1212.2 1811.3,1218.1 1812.2,1211.1 1813.2,1211.5 1814.2,1215.9 1815.1,1212.6 1816.1,1215.9 1817.0,1211.3 1818.0,1212.7 1819.0,1214.4 1819.9,1218.3 1820.9,1219.6 1821.9,1213.1 1822.8,1216.4 1823.8,1220.0 1824.7,1216.7 1825.7,1219.5 1826.6,1220.1 1827.5,1214.7 1828.5,1217.8 1829.5,1217.0 1830.4,1213.5 1831.4,1219.0 1832.3,1220.3 1833.2,1212.6 1834.2,1220.8 1835.2,1213.2 1836.1,1216.2 1837.0,1213.8 1838.0,1216.1 1839.0,1216.5 1840.0,1215.0 1841.0,1212.9 1842.0,1213.2 1843.0,1213.5 1844.0,1212.1 1845.0,1207.4 1846.0,1210.4 1847.0,1206.5 1848.0,1211.0 1849.0,1205.8 1850.0,1210.3 1851.0,1207.1 1852.0,1205.1 1853.0,1209.5 1854.0,1207.5 1855.0,1204.9 1856.0,1212.4 1857.0,1206.6 1858.0,1211.1 1859.0,1208.5 1860.0,1212.2 1861.0,1207.2 1862.0,1205.6 1863.0,1207.6 1864.0,1210.7 1865.0,1207.3 1866.0,1211.9 1867.0,1208.1 1868.0,1207.0 1869.0,1210.8 1870.0,1211.2 1871.0,1211.7 1872.0,1207.1 1873.0,1212.0 1874.0,1212.9 1875.0,1209.3 1876.0,1208.3 1876.9,1212.2 1877.9,1213.7 1878.9,1207.8 1879.9,1215.3 1880.8,1210.6 1881.8,1209.9 1882.8,1213.1 1883.8,1207.8 1884.7,1215.5 1885.7,1216.5 1886.7,1207.0 1887.7,1210.4 1888.6,1207.6 1889.6,1208.0 1890.6,1215.1 1891.6,1214.1 1892.5,1209.0 1893.5,1206.6 1894.5,1213.3 1895.5,1211.5 1896.4,1214.2 1897.4,1214.6 1898.4,1215.1 1899.4,1211.2 1900.3,1212.7 1901.3,1215.8 1902.3,1210.6 1903.3,1211.1 1904.2,1209.4 1905.2,1212.0 1906.2,1211.1 1907.2,1212.3 1908.2,1212.2 1909.1,1206.4 1910.1,1212.3 1911.1,1211.1 1912.1,1205.8 1913.0,1207.8 1914.0,1206.7 1915.0,1209.5 1916.0,1210.7 1917.0,1205.8 1918.0,1204.5 1919.0,1204.7 1920.0,1206.2 1921.0,1201.1 1922.0,1203.7 1923.0,1200.3 1924.0,1202.0 1925.0,1202.4 1926.0,1198.2 1927.0,1200.9 1928.0,1198.4 1929.0,1198.3 1930.0,1199.1 1931.0,1195.8 1932.0,1196.5 1933.0,1200.3 1934.0,1202.9 1935.0,1196.6 1936.0,1201.0 1937.0,1204.2 1938.0,1202.6 1939.0,1203.8 1940.0,1204.7 1941.0,1202.1 1942.0,1202.9 1943.0,1206.3 1944.0,1199.3 1945.0,1205.1 1945.9,1205.7 1946.9,1206.7 1947.9,1203.9 1948.8,1206.7 1949.8,1208.0 1950.8,1199.4 1951.7,1199.1 1952.7,1200.5 1953.7,1206.1 1954.7,1200.9 1955.6,1199.6 1956.6,1205.8 1957.6,1201.6 1958.5,1201.8 1959.5,1206.6 1960.5,1205.3 1961.4,1206.8 1962.4,1203.5 1963.4,1206.3 1964.3,1206.6 1965.3,1200.6 1966.3,1206.4 1967.2,1205.5 1968.2,1206.0 1969.2,1205.5 1970.2,1210.9 1971.1,1207.0 1972.1,1203.9 1973.1,1210.9 1974.1,1202.8 1975.0,1205.3 1976.0,1210.1 1977.0,1209.2 1977.9,1205.0 1978.9,1210.2 1979.9,1206.4 1980.9,1209.3 1981.8,1207.6 1982.8,1208.6 1983.8,1210.2 1984.8,1205.2 1985.7,1211.8 1986.7,1207.5 1987.7,1205.4 1988.6,1207.0 1989.6,1206.1 1990.6,1206.2 1991.5,1212.3 1992.5,1206.4 1993.5,1211.4 1994.4,1213.9 1995.4,1205.8 1996.4,1209.2 1997.3,1213.9 1998.3,1209.4 1999.3,1210.8 2000.3,1209.5 2001.2,1213.4 2002.2,1213.6 2003.2,1210.4 2004.1,1206.4 2005.1,1215.1 2006.1,1208.6 2007.0,1213.7 2008.0,1215.3 2009.0,1210.5 2009.9,1208.2 2010.9,1211.0 2011.9,1208.8 2012.8,1209.1 2013.8,1216.6 2014.8,1215.9 2015.7,1209.6 2016.7,1212.8 2017.7,1212.6 2018.7,1208.3 2019.6,1217.7 2020.6,1209.6 2021.6,1208.6 2022.5,1217.4 2023.5,1214.2 2024.5,1218.4 2025.4,1208.8 2026.4,1212.0 2027.4,1215.6 2028.3,1213.1 2029.3,1218.7 2030.3,1209.8 2031.2,1216.5 2032.2,1214.3 2033.2,1210.3 2034.2,1212.5 2035.1,1211.7 2036.1,1217.4 2037.1,1212.7 2038.1,1216.3 2039.0,1217.2 2040.0,1218.9 2041.0,1212.6 2041.9,1213.3 2042.9,1218.9 2043.9,1210.4 2044.9,1212.4 2045.8,1218.8 2046.8,1212.2 2047.8,1213.7 2048.8,1210.1 2049.7,1217.7 2050.7,1212.7 2051.7,1214.1 2052.6,1210.5 2053.6,1210.2 2054.6,1211.6 2055.5,1213.7 2056.5,1212.5 2057.5,1213.5 2058.4,1212.6 2059.4,1220.0 2060.4,1212.7 2061.3,1216.7 2062.3,1215.6 2063.3,1217.6 2064.3,1219.5 2065.2,1218.6 2066.2,1213.5 2067.2,1215.1 2068.1,1213.8 2069.1,1218.8 2070.1,1213.2 2071.0,1215.6 2072.0,1218.8 2073.0,1215.4 2074.0,1218.2 2075.0,1217.2 2076.0,1213.7 2077.0,1214.7 2078.0,1216.9 2079.0,1215.7 2080.0,1218.4 2081.0,1218.0 2082.0,1212.0 2083.0,1212.2 2084.0,1211.5 2085.0,1214.0 2086.0,1210.7 2087.0,1216.0 2088.0,1214.2 2089.0,1211.6 2090.0,1219.7 2091.0,1211.2 2092.0,1218.1 2093.0,1212.9 2094.0,1218.3" stroke="#000000" stroke-width="9.5" fill="none" stroke-linejoin="round" stroke-linecap="butt"/>
<path d="M326.0,665.9 326.6,671.5 327.2,676.1 327.9,678.7 328.5,683.9 329.1,687.4 329.8,692.3 330.4,695.9 331.0,700.6 331.6,703.3 332.1,707.1 332.7,711.4 333.3,716.3 333.9,719.9 334.4,724.6 335.0,728.7 336.0,732.6 337.0,734.9 338.0,740.0 339.0,744.3 340.0,748.8 341.0,750.6 342.0,756.1 343.4,758.2 344.8,764.5 346.2,768.0 347.7,770.3 349.1,774.2 350.5,779.8 351.9,783.5 353.3,787.4 354.7,792.4 356.1,795.9 357.4,796.5 358.8,799.3 360.2,803.5 361.6,809.5 363.0,810.3 364.4,812.8 365.8,818.2 367.2,821.7 368.6,821.6 370.0,824.1 371.4,827.4 372.8,830.5 374.2,832.3 375.6,835.6 377.0,839.2 378.4,835.5 379.8,840.2 381.2,841.9 382.6,837.7 384.0,842.2 385.4,847.5 386.8,847.9 388.2,839.6 389.6,846.2 391.0,838.7 392.4,846.1 393.8,839.7 395.2,845.7 396.6,837.6 398.0,840.3 399.4,847.1 400.7,843.9 402.1,846.1 403.5,851.8 404.9,849.4 406.3,851.2 407.7,857.0 409.0,853.2 410.4,854.4 411.8,861.6 413.3,863.9 414.7,864.5 416.2,866.0 417.6,869.4 419.1,869.0 420.6,867.7 422.0,871.1 423.5,873.5 424.9,878.7 426.4,879.1 427.8,876.7 429.3,883.0 430.8,885.8 432.2,882.0 433.6,889.6 435.1,885.4 436.5,891.9 438.0,890.6 439.4,893.8 440.9,893.0 442.3,894.9 443.8,897.4 445.2,903.4 446.7,905.5 448.1,907.1 449.6,905.3 451.0,907.2 452.5,909.9 453.9,910.0 455.4,913.2 456.9,916.8 458.3,916.1 459.8,917.1 461.2,918.4 462.7,922.5 464.2,925.3 465.6,924.8 467.1,924.9 468.5,929.6 470.0,935.1 471.4,934.4 472.9,934.6 474.4,935.9 475.8,936.5 477.2,940.9 478.7,938.9 480.1,946.0 481.6,943.9 483.1,947.9 484.5,944.5 486.0,948.0 487.4,948.2 488.9,950.0 490.3,955.6 491.8,957.4 493.2,958.8 494.7,957.2 496.1,963.3 497.6,964.5 499.0,964.8 500.5,964.0 502.0,969.1 503.4,966.7 504.9,968.2 506.3,968.8 507.8,976.0 509.2,972.9 510.7,975.7 512.1,978.7 513.6,980.3 515.0,985.0 516.5,981.2 518.0,986.9 519.4,987.3 520.9,985.7 522.3,987.6 523.8,989.6 525.2,989.0 526.7,989.9 528.1,991.9 529.6,995.0 531.0,1000.7 532.5,996.9 533.9,1003.1 535.4,1004.7 536.9,1000.7 538.3,1007.6 539.8,1005.8 541.2,1008.4 542.7,1012.1 544.2,1010.9 545.6,1014.3 547.1,1011.5 548.5,1012.6 550.0,1020.5 551.5,1019.6 552.9,1017.1 554.4,1024.4 555.8,1025.8 557.2,1022.6 558.7,1028.4 560.1,1031.5 561.6,1030.4 563.0,1034.0 564.5,1028.9 566.0,1030.0 567.4,1033.2 568.9,1032.8 570.3,1041.4 571.8,1035.6 573.3,1039.9 574.7,1037.6 576.2,1038.6 577.6,1046.5 579.1,1047.2 580.6,1044.9 582.0,1050.7 583.5,1051.2 584.9,1050.4 586.4,1053.8 587.8,1053.8 589.2,1049.6 590.7,1051.9 592.1,1056.4 593.6,1054.7 595.0,1059.1 596.4,1061.4 597.8,1058.4 599.2,1063.3 600.6,1060.7 602.0,1066.7 603.4,1060.9 604.8,1070.8 606.3,1068.0 607.7,1066.4 609.1,1068.0 610.5,1066.3 612.0,1075.3 613.4,1071.4 614.8,1072.6 616.2,1069.5 617.7,1074.6 619.1,1072.6 620.5,1075.4 621.9,1080.0 623.4,1081.1 624.8,1076.0 626.2,1079.8 627.6,1085.2 629.0,1083.4 630.5,1079.6 631.9,1079.6 633.3,1080.5 634.7,1083.0 636.1,1082.1 637.5,1090.5 639.0,1092.6 640.4,1093.8 641.8,1092.3 643.2,1090.5 644.6,1094.9 646.0,1090.8 647.5,1087.9 648.9,1098.8 650.3,1090.0 651.7,1090.4 653.1,1099.5 654.6,1097.9 656.0,1099.9 657.4,1100.7 658.8,1098.1 660.2,1095.2 661.6,1101.7 663.1,1107.0 664.5,1103.2 665.9,1107.7 667.3,1108.6 668.7,1107.6 670.1,1101.7 671.6,1111.4 673.0,1111.1 674.4,1111.8 675.8,1103.6 677.2,1113.9 678.7,1112.3 680.1,1112.6 681.5,1106.5 682.9,1116.0 684.3,1116.4 685.7,1110.2 687.2,1109.7 688.6,1117.8 690.0,1111.6 691.4,1114.8 692.8,1120.5 694.2,1117.6 695.7,1122.3 697.1,1114.9 698.5,1124.4 699.9,1121.9 701.3,1122.3 702.8,1117.2 704.2,1124.0 705.6,1121.6 707.0,1129.2 708.5,1120.4 709.9,1126.7 711.3,1125.3 712.7,1132.4 714.2,1132.4 715.6,1128.0 717.0,1133.9 718.4,1131.3 719.9,1125.6 721.3,1126.1 722.7,1130.1 724.1,1138.0 725.5,1137.0 727.0,1139.0 728.4,1140.1 729.8,1138.7 731.2,1133.3 732.6,1132.2 734.0,1140.8 735.5,1141.6 736.9,1143.7 738.3,1140.8 739.7,1144.1 741.1,1135.7 742.5,1136.3 744.0,1139.4 745.4,1136.0 746.8,1146.8 748.2,1146.9 749.6,1148.4 751.1,1138.3 752.5,1146.6 753.9,1137.7 755.3,1138.9 756.7,1146.2 758.1,1149.4 759.6,1149.1 761.0,1141.0 762.4,1143.9 763.8,1147.5 765.2,1141.3 766.6,1150.6 768.1,1149.0 769.5,1151.1 770.9,1157.0 772.3,1149.2 773.7,1157.6 775.2,1153.4 776.6,1150.5 778.0,1147.2 779.4,1157.9 780.8,1149.5 782.2,1149.4 783.7,1151.2 785.1,1154.8 786.5,1151.9 787.9,1160.1 789.3,1150.6 790.7,1151.2 792.2,1159.2 793.6,1149.5 795.0,1154.1 796.4,1163.4 797.8,1165.0 799.3,1161.9 800.7,1152.8 802.1,1155.4 803.5,1156.9 804.9,1165.7 806.3,1154.6 807.8,1164.9 809.2,1158.2 810.6,1165.0 812.0,1164.6 813.4,1168.0 814.8,1165.3 816.3,1156.5 817.7,1159.8 819.1,1159.8 820.5,1156.3 821.9,1169.9 823.4,1157.1 824.8,1158.8 826.2,1171.6 827.6,1167.4 829.1,1170.4 830.5,1155.9 831.9,1168.2 833.3,1162.0 834.8,1172.8 836.2,1171.9 837.6,1168.5 839.0,1173.0 840.5,1170.7 841.9,1159.7 843.3,1168.9 844.8,1173.9 846.3,1161.7 847.8,1170.5 849.3,1162.1 850.8,1167.1 852.3,1173.7 853.8,1168.4 855.3,1176.9 856.8,1167.8 858.3,1176.5 859.8,1165.5 861.2,1170.1 862.7,1178.9 864.2,1177.4 865.7,1178.6 867.2,1172.7 868.7,1177.4 870.2,1179.1 871.7,1174.7 873.2,1179.3 874.7,1178.6 876.2,1175.1 877.6,1178.8 879.1,1179.8 880.5,1181.2 882.0,1183.4 883.4,1183.2 884.9,1186.4 886.3,1187.5 887.8,1171.2 889.2,1184.5 890.7,1186.9 892.1,1182.6 893.6,1173.8 895.0,1189.1 896.5,1186.6 897.9,1177.0 899.4,1177.1 900.8,1174.2 902.3,1177.9 903.7,1180.9 905.2,1177.6 906.6,1175.3 908.1,1177.2 909.5,1175.3 911.0,1180.7 912.4,1186.8 913.8,1190.7 915.3,1190.9 916.7,1180.7 918.2,1187.3 919.6,1188.5 921.1,1178.5 922.5,1189.0 924.0,1184.0 925.4,1188.0 926.9,1193.5 928.3,1181.4 929.8,1179.2 931.2,1186.0 932.7,1179.2 934.1,1195.5 935.6,1194.2 937.0,1181.8 938.5,1186.7 939.9,1196.1 941.4,1180.2 942.8,1194.2 944.3,1186.6 945.7,1182.4 947.2,1196.7 948.6,1193.8 950.0,1187.3 951.5,1184.3 952.9,1197.7 954.4,1184.0 955.8,1194.2 957.3,1194.6 958.7,1187.4 960.2,1199.9 961.6,1200.2 963.0,1198.4 964.5,1186.5 965.9,1201.2 967.4,1200.4 968.8,1201.3 970.3,1200.6 971.7,1195.4 973.1,1186.5 974.6,1191.3 976.0,1192.3 977.5,1196.6 978.9,1200.4 980.4,1200.6 981.8,1191.6 983.3,1201.2 984.7,1189.8 986.1,1194.3 987.6,1202.6 989.0,1200.4 990.5,1188.6 991.9,1204.6 993.4,1203.3 994.8,1196.9 996.3,1195.8 997.7,1202.8 999.2,1190.3 1000.6,1195.4 1002.1,1195.6 1003.5,1206.3 1005.0,1193.8 1006.4,1192.4 1007.9,1202.1 1009.3,1196.2 1010.8,1193.0 1012.2,1202.7 1013.7,1201.7 1015.1,1203.8 1016.6,1205.9 1018.0,1205.9 1019.5,1208.6 1020.9,1196.6 1022.3,1195.0 1023.8,1200.8 1025.2,1196.1 1026.7,1196.7 1028.1,1206.9 1029.6,1196.2 1031.0,1210.5 1032.5,1205.2 1033.9,1208.6 1035.4,1203.8 1036.8,1212.7 1038.3,1206.5 1039.7,1210.7 1041.2,1210.8 1042.6,1199.7 1044.1,1197.2 1045.5,1205.4 1047.0,1203.0 1048.4,1211.2 1049.9,1200.8 1051.3,1205.9 1052.8,1196.7 1054.2,1201.1 1055.7,1199.6 1057.1,1201.1 1058.6,1215.1 1060.0,1213.0 1061.5,1203.9 1062.9,1201.9 1064.4,1198.9 1065.9,1202.2 1067.3,1215.8 1068.8,1197.6 1070.2,1213.4 1071.7,1208.8 1073.2,1214.8 1074.6,1211.5 1076.1,1197.7 1077.5,1215.1 1079.0,1214.7 1080.5,1196.4 1082.0,1200.8 1083.5,1196.4 1085.0,1205.6 1086.5,1214.3 1088.0,1212.1 1089.5,1210.4 1091.0,1204.0 1092.5,1198.4 1094.0,1198.2 1095.5,1207.5 1097.0,1202.0 1098.5,1213.2 1100.0,1212.3 1101.4,1212.4 1102.9,1200.1 1104.3,1210.9 1105.8,1211.4 1107.2,1211.8 1108.7,1208.7 1110.1,1210.3 1111.6,1213.1 1113.0,1217.0 1114.5,1199.7 1115.9,1203.0 1117.4,1215.1 1118.8,1211.5 1120.3,1202.5 1121.7,1203.6 1123.2,1214.5 1124.6,1207.1 1126.1,1215.9 1127.5,1218.7 1129.0,1207.1 1130.4,1217.4 1131.9,1209.0 1133.3,1217.0 1134.8,1208.0 1136.2,1203.8 1137.7,1206.8 1139.1,1215.7 1140.5,1220.4 1142.0,1206.8 1143.4,1212.1 1144.9,1218.8 1146.3,1215.0 1147.8,1206.9 1149.2,1212.8 1150.7,1208.7 1152.1,1205.9 1153.6,1209.2 1155.0,1214.2 1156.5,1209.5 1158.0,1206.5 1159.5,1203.7 1161.0,1203.0 1162.5,1196.8 1164.0,1192.4 1165.5,1192.1 1167.0,1188.0 1168.5,1193.7 1170.0,1198.3 1171.5,1196.4 1173.0,1199.6 1174.4,1204.4 1175.8,1205.9 1177.2,1202.1 1178.6,1210.6 1180.0,1210.6 1181.5,1204.2 1182.9,1204.5 1184.4,1204.8 1185.8,1215.0 1187.3,1213.7 1188.7,1216.7 1190.2,1216.3 1191.6,1211.2 1193.1,1217.5 1194.5,1205.9 1196.0,1215.0 1197.4,1215.8 1198.9,1217.9 1200.3,1219.2 1201.8,1220.3 1203.2,1203.6 1204.7,1202.1 1206.1,1209.4 1207.6,1218.5 1209.0,1207.7 1210.4,1222.5 1211.9,1222.3 1213.3,1215.6 1214.8,1220.9 1216.2,1218.3 1217.6,1206.6 1219.0,1219.7 1220.4,1218.2 1221.8,1220.1 1223.2,1202.6 1224.6,1206.0 1226.1,1211.5 1227.5,1218.6 1228.9,1221.8 1230.3,1201.2 1231.7,1203.7 1233.1,1211.0 1234.5,1207.2 1235.9,1205.6 1237.0,1209.4 1238.2,1212.8 1239.3,1219.4 M1241.3,1154.2 1242.5,1162.3 1243.8,1162.8 1245.0,1157.2 1246.4,1160.3 1247.8,1166.1 1249.2,1171.3 1250.6,1169.4 1252.0,1172.4 1253.3,1177.2 1254.7,1173.7 1256.0,1180.6 1257.4,1182.9 1258.7,1183.5 1260.1,1186.3 1261.4,1183.8 1262.8,1181.3 1264.1,1189.9 1265.5,1191.8 1266.9,1190.5 1268.4,1182.3 1269.8,1184.6 1271.2,1183.6 1272.6,1192.8 1274.0,1183.4 1275.4,1181.7 1276.9,1188.7 1278.3,1189.3 1279.7,1189.1 1281.1,1192.1 1282.5,1194.4 1283.9,1193.0 1285.4,1188.9 1286.8,1184.4 1288.2,1196.5 1289.6,1188.0 1291.0,1186.2 1292.5,1198.5 1293.9,1187.9 1295.3,1200.3 1296.7,1191.3 1298.2,1201.7 1299.6,1202.6 1301.0,1202.9 1302.4,1201.1 1303.9,1191.5 1305.3,1200.8 1306.7,1198.1 1308.1,1201.5 1309.6,1194.6 1311.0,1200.1 1312.4,1197.3 1313.8,1196.1 1315.2,1196.3 1316.7,1203.3 1318.1,1195.8 1319.5,1199.1 1320.9,1200.5 1322.3,1194.4 1323.7,1205.4 1325.2,1205.4 1326.6,1206.3 1328.0,1202.0 1329.4,1206.8 1330.8,1204.3 1332.2,1195.2 1333.7,1197.0 1335.1,1208.6 1336.5,1206.1 1337.9,1210.7 1339.3,1195.6 1340.8,1210.2 1342.2,1203.1 1343.6,1196.0 1345.0,1200.9 1346.4,1208.6 1347.8,1200.5 1349.3,1211.7 1350.7,1207.2 1352.1,1201.5 1353.5,1214.2 1354.9,1214.3 1356.3,1202.0 1357.8,1208.6 1359.2,1200.5 1360.6,1208.6 1362.0,1208.4 1363.4,1205.6 1364.9,1203.5 1366.3,1202.6 1367.7,1200.7 1369.1,1212.7 1370.6,1211.3 1372.0,1208.9 1373.4,1205.7 1374.8,1208.2 1376.3,1215.6 1377.7,1215.5 1379.1,1218.0 1380.5,1206.1 1382.0,1204.8 1383.4,1219.3 1384.8,1213.9 1386.2,1209.8 1387.6,1219.6 1389.1,1218.9 1390.5,1218.6 1391.9,1207.5 1393.3,1210.5 1394.7,1222.3 1396.1,1204.5 1397.6,1220.2 1399.0,1221.8 1400.4,1220.6 1401.8,1219.8 1403.2,1221.4 1404.6,1206.8 1406.1,1210.0 1407.5,1209.9 1408.9,1218.0 1410.3,1213.4 1411.7,1221.9 1413.2,1219.8 1414.6,1223.2 1416.0,1216.7 1417.4,1211.7 1418.8,1210.0 1420.2,1208.5 1421.7,1214.5 1423.1,1215.6 1424.5,1224.6 1425.9,1224.2 1427.3,1223.8 1428.7,1212.9 1430.2,1216.6 1431.6,1221.9 1433.0,1225.8 1434.5,1213.6 1436.0,1226.4 1437.5,1215.1 1439.0,1225.9 1440.5,1223.4 1442.0,1222.8 1443.5,1216.9 1445.0,1212.8 1446.3,1211.6 1447.7,1225.5 1449.0,1211.3 1450.4,1222.6 1451.7,1215.0 1453.1,1223.1 1454.4,1214.3 1455.8,1224.6 1457.1,1215.0 1458.6,1221.5 1460.0,1211.5 1461.5,1210.5 1463.0,1213.6 1464.2,1216.1 1465.5,1210.5 1466.7,1206.6 1468.0,1206.0 1469.2,1218.3 1470.6,1216.5 1472.1,1214.3 1473.5,1210.5 1474.9,1219.8 1476.4,1202.8 1477.8,1205.6 1479.2,1204.7 1480.7,1206.6 1482.1,1209.4 1483.6,1213.8 1485.0,1212.4 1486.4,1217.5 1487.9,1218.7 1489.3,1216.7 1490.6,1219.9 1492.0,1216.8 1493.3,1208.6 1494.6,1213.7 1495.9,1220.1 1497.3,1204.4 1498.6,1218.6 1500.0,1202.4 1501.4,1205.2 1502.9,1205.2 1504.3,1206.2 1505.7,1205.5 1507.1,1213.1 1508.6,1211.6 1510.0,1206.7 1511.4,1205.4 1512.8,1206.4 1514.3,1209.8 1515.7,1216.3 1517.1,1217.1 1518.5,1220.7 1520.0,1220.3 1521.4,1211.0 1522.8,1210.7 1524.3,1208.6 1525.7,1216.1 1527.1,1206.8 1528.6,1207.5 1530.0,1206.3 1531.5,1207.0 1533.0,1202.2 1534.5,1206.7 1536.0,1206.2 1537.5,1199.0 1539.0,1209.2 1540.5,1208.7 1542.0,1204.8 1543.5,1211.6 1545.0,1205.3 1546.3,1212.0 1547.6,1207.8 1548.9,1212.9 1550.3,1203.6 1551.6,1203.4 1552.9,1203.9 1554.2,1204.2 1555.6,1207.8 1557.0,1206.0 1558.4,1204.4 1559.8,1208.8 1561.2,1203.9 1562.5,1213.6 1563.9,1209.1 1565.3,1203.8 1566.7,1214.0 1568.1,1216.5 1569.5,1210.3 1570.9,1212.5 1572.3,1213.9 1573.7,1207.7 1575.1,1207.5 1576.5,1213.4 1577.7,1207.7 1578.8,1202.8 1580.0,1197.4 1581.5,1196.9 1583.0,1194.2 1584.2,1193.6 1585.5,1193.0 1586.8,1193.3 1588.0,1190.5 1589.3,1192.2 1590.7,1196.1 1592.0,1190.9 1593.3,1201.6 1594.7,1193.6 1596.0,1192.7 1597.4,1200.3 1598.8,1196.0 1600.2,1203.0 1601.6,1197.4 1603.0,1199.2 1604.3,1194.1 1605.7,1206.7 1607.1,1198.4 1608.5,1208.4 1609.9,1199.4 1611.3,1196.2 1612.7,1204.4 1614.2,1210.4 1615.6,1212.2 1617.0,1213.2 1618.4,1198.9 1619.9,1194.2 1621.3,1196.6 1622.7,1206.4 1624.1,1195.2 1625.6,1206.3 1627.0,1212.8 1628.4,1210.1 1629.9,1195.6 1631.3,1197.5 1632.8,1195.6 1634.2,1199.0 1635.7,1210.5 1637.1,1192.9 1638.5,1193.6 1640.0,1203.5 M1642.2,1158.8 1643.6,1152.0 1645.0,1154.4 1646.3,1155.2 1647.6,1162.8 1649.0,1162.2 1650.3,1166.2 1651.6,1163.1 1652.9,1170.8 1654.3,1172.8 1655.6,1169.0 1657.0,1175.3 1658.3,1177.3 1659.7,1175.3 1661.0,1182.8 1662.4,1181.1 1663.8,1179.6 1665.1,1184.1 1666.5,1180.4 1667.9,1181.1 1669.3,1187.7 1670.7,1188.4 1672.0,1185.7 1673.4,1193.6 1674.8,1187.0 1676.3,1194.8 1677.8,1187.9 1679.3,1196.1 1680.8,1186.4 1682.3,1197.0 1683.8,1198.3 1685.3,1194.6 1686.8,1191.6 1688.3,1192.3 1689.8,1193.1 1691.3,1192.8 1692.8,1193.3 1694.3,1199.6 1695.8,1195.1 1697.3,1191.5 1698.8,1203.4 1700.3,1206.2 1701.7,1196.4 1703.1,1195.3 1704.6,1198.7 1706.0,1195.0 1707.4,1206.5 1708.8,1195.0 1710.2,1207.3 1711.6,1197.8 1713.1,1195.7 1714.5,1207.3 1715.9,1208.3 1717.3,1197.9 1718.7,1206.3 1720.1,1210.9 1721.6,1210.4 1723.0,1203.9 1724.4,1202.9 1725.8,1205.8 1727.2,1208.9 1728.7,1207.7 1730.1,1212.3 1731.5,1204.4 1732.9,1211.7 1734.4,1211.9 1735.8,1199.6 1737.2,1208.7 1738.6,1215.5 1740.1,1215.3 1741.5,1207.0 1742.9,1203.9 1744.3,1201.8 1745.8,1214.0 1747.2,1217.7 1748.6,1214.0 1750.0,1211.6 1751.4,1207.4 1752.9,1215.8 1754.3,1201.7 1755.7,1214.1 1757.1,1208.1 1758.5,1206.1 1759.9,1216.6 1761.4,1204.9 1762.8,1211.9 1764.2,1213.6 1765.6,1221.0 1767.0,1217.8 1768.4,1216.7 1769.9,1202.2 1771.3,1213.1 1772.7,1204.6 1774.1,1215.9 1775.5,1207.7 1777.0,1208.1 1778.4,1210.2 1779.8,1203.3 1781.2,1215.5 1782.6,1220.6 1784.0,1221.7 1785.5,1207.1 1786.9,1203.6 1788.3,1207.2 1789.7,1211.5 1791.1,1206.2 1792.5,1208.6 1794.0,1215.6 1795.4,1206.2 1796.8,1211.9 1798.2,1209.1 1799.6,1205.8 1801.1,1209.0 1802.5,1220.5 1803.9,1205.6 1805.3,1207.5 1806.7,1214.2 1808.1,1207.1 1809.6,1211.6 1811.0,1212.3 1812.4,1217.7 1813.8,1211.9 1815.2,1223.3 1816.6,1216.9 1818.1,1209.8 1819.5,1217.6 1820.9,1220.8 1822.3,1208.9 1823.8,1217.3 1825.2,1223.6 1826.6,1214.3 1828.0,1214.1 1829.5,1221.2 1830.9,1211.2 1832.3,1217.2 1833.7,1223.1 1835.2,1221.4 1836.6,1222.3 1838.0,1213.1 1839.4,1220.8 1840.8,1208.7 1842.2,1209.3 1843.6,1205.5 1845.0,1216.3 1846.5,1204.4 1848.0,1215.6 1849.5,1203.6 1851.0,1207.6 1852.5,1213.2 1854.0,1215.5 1855.5,1215.1 1857.0,1219.1 1858.5,1208.2 1860.0,1203.5 1861.5,1203.3 1863.0,1215.5 1864.5,1200.7 1866.0,1200.8 1867.5,1206.2 1869.0,1203.3 1870.5,1204.2 1872.0,1218.8 1873.5,1218.9 1875.0,1212.2 1876.5,1206.0 1877.9,1207.5 1879.4,1217.5 1880.8,1219.5 1882.3,1207.5 1883.8,1219.9 1885.2,1205.6 1886.7,1217.6 1888.2,1222.3 1889.6,1207.2 1891.1,1209.0 1892.5,1220.9 1894.0,1204.7 1895.5,1203.1 1896.9,1212.1 1898.4,1210.2 1899.8,1215.6 1901.3,1217.2 1902.7,1206.3 1904.0,1205.6 1905.4,1208.6 1906.8,1204.2 1908.2,1204.3 1909.5,1208.7 1910.9,1206.4 1912.3,1205.2 1913.6,1204.2 1915.0,1207.6 1916.4,1210.9 1917.9,1207.9 1919.3,1200.7 1920.8,1198.9 1922.2,1207.0 1923.7,1202.5 1925.1,1196.9 1926.6,1200.6 1928.0,1200.9 1929.5,1198.8 1930.9,1202.3 1932.4,1195.9 1933.8,1205.5 1935.3,1197.5 1936.7,1195.8 1938.2,1207.1 1939.6,1198.4 1941.1,1199.9 1942.5,1204.7 1944.0,1209.6 1945.4,1199.1 1946.8,1206.1 1948.3,1202.3 1949.7,1203.9 1951.1,1206.6 1952.5,1208.1 1953.9,1200.7 1955.4,1195.1 1956.8,1206.2 1958.2,1212.5 1959.6,1197.4 1961.0,1198.2 1962.5,1208.3 1963.9,1213.9 1965.3,1209.0 1966.7,1205.2 1968.2,1201.6 1969.6,1203.0 1971.0,1199.8 1972.4,1199.6 1973.9,1213.0 1975.3,1212.4 1976.7,1210.0 1978.1,1209.3 1979.6,1215.3 1981.0,1214.0 1982.4,1212.2 1983.8,1211.8 1985.3,1201.6 1986.7,1217.3 1988.1,1214.1 1989.5,1204.2 1991.0,1201.6 1992.4,1203.5 1993.8,1201.2 1995.2,1201.6 1996.6,1210.4 1998.1,1204.8 1999.5,1208.6 2000.9,1202.8 2002.3,1204.0 2003.7,1217.1 2005.2,1202.0 2006.6,1204.5 2008.0,1203.9 2009.4,1208.6 2010.8,1204.8 2012.3,1218.4 2013.7,1219.1 2015.1,1215.3 2016.5,1212.8 2017.9,1218.1 2019.4,1210.9 2020.8,1204.1 2022.2,1207.3 2023.6,1221.3 2025.0,1221.8 2026.5,1206.3 2027.9,1206.2 2029.3,1222.7 2030.7,1222.4 2032.2,1204.8 2033.6,1209.8 2035.0,1206.3 2036.4,1222.4 2037.9,1224.1 2039.3,1207.9 2040.7,1206.9 2042.1,1210.9 2043.6,1208.3 2045.0,1209.7 2046.4,1207.7 2047.8,1218.8 2049.3,1222.9 2050.7,1204.5 2052.1,1206.1 2053.5,1204.6 2055.0,1225.3 2056.4,1220.8 2057.8,1208.1 2059.2,1206.8 2060.6,1221.1 2062.1,1223.7 2063.5,1206.5 2064.9,1209.0 2066.3,1223.9 2067.7,1214.4 2069.2,1226.2 2070.6,1219.6 2072.0,1220.7 2073.5,1212.6 2074.9,1210.0 2076.4,1212.4 2077.9,1213.2 2079.3,1205.6 2080.8,1206.2 2082.3,1213.9 2083.7,1227.3 2085.2,1206.1 2086.7,1226.3 2088.1,1210.3 2089.6,1214.0 2091.1,1218.1 2092.5,1222.6 2094.0,1211.2" stroke="#000000" stroke-width="2.2" fill="none" stroke-linejoin="bevel"/>
<path d="M1240.3,1214.5V1157.0 M1641.1,1204.2V1154.0" stroke="#000000" stroke-width="6" fill="none"/>
<path d="M500.5,965.3V984.0 M2078.4,1216.0V1235.0 M772.0,1150.4V1121.0 M793.0,1156.7V1105.0 M1704.0,1200.2V1180.5 M1512.0,1212.5V1230.7 M1544.0,1208.2V1230.7 M984.5,1195.8V1215.7" stroke="#000000" stroke-width="5" fill="none"/>
<path d="M326.0,1300.4 327.0,1302.8 327.9,1307.4 328.9,1307.5 329.9,1306.3 330.9,1309.4 331.8,1311.0 332.8,1310.8 333.8,1314.9 334.8,1313.3 335.7,1315.9 336.7,1317.9 337.6,1318.7 338.6,1320.6 339.5,1322.5 340.4,1324.8 341.3,1322.8 342.2,1325.7 343.2,1327.2 344.1,1326.5 345.0,1326.4 345.9,1332.0 346.9,1330.2 347.8,1331.5 348.7,1335.6 349.7,1335.8 350.6,1336.9 351.5,1339.8 352.5,1338.2 353.4,1342.6 354.3,1342.8 355.3,1343.2 356.2,1347.2 357.1,1349.9 358.1,1348.3 359.0,1351.8 359.9,1351.4 360.9,1354.5 361.8,1355.6 362.7,1354.3 363.6,1358.4 364.6,1358.7 365.5,1360.0 366.4,1362.0 367.3,1360.8 368.2,1364.0 369.2,1366.0 370.1,1361.9 371.1,1367.1 372.1,1363.8 373.0,1364.4 374.0,1361.9 375.0,1366.1 375.9,1363.0 376.9,1367.6 377.9,1362.8 378.9,1364.3 379.9,1362.4 380.9,1363.2 381.9,1359.4 382.8,1358.6 383.8,1361.8 384.8,1361.1 385.8,1359.1 386.8,1360.8 387.8,1355.4 388.8,1359.4 389.8,1354.1 390.8,1359.2 391.7,1356.3 392.7,1355.7 393.7,1357.8 394.7,1356.0 395.7,1355.5 396.6,1351.2 397.6,1354.1 398.5,1353.0 399.4,1354.5 400.3,1355.4 401.2,1360.3 402.2,1356.3 403.1,1358.1 404.0,1360.1 404.9,1363.2 405.9,1364.7 406.8,1363.8 407.8,1360.9 408.7,1363.7 409.7,1365.3 410.6,1361.2 411.6,1366.1 412.5,1364.3 413.5,1366.4 414.5,1367.5 415.4,1367.9 416.4,1367.4 417.3,1368.1 418.3,1365.9 419.2,1368.6 420.2,1366.3 421.1,1369.4 422.1,1370.3 423.0,1372.5 423.9,1370.2 424.8,1367.9 425.8,1372.1 426.7,1370.1 427.6,1374.5 428.5,1372.4 429.4,1372.8 430.4,1377.1 431.3,1373.8 432.2,1374.0 433.2,1374.4 434.1,1375.9 435.0,1373.5 436.0,1377.3 436.9,1380.5 437.8,1378.3 438.8,1380.1 439.7,1382.0 440.6,1381.7 441.6,1381.4 442.5,1382.4 443.4,1383.0 444.4,1379.8 445.3,1382.0 446.2,1381.8 447.1,1381.9 448.1,1384.6 449.0,1383.6 449.9,1386.2 450.8,1386.6 451.8,1384.2 452.7,1387.0 453.6,1387.3 454.5,1390.0 455.5,1386.9 456.4,1388.2 457.3,1391.0 458.2,1391.1 459.1,1393.5 460.1,1392.2 461.0,1392.0 461.9,1397.4 462.9,1393.8 463.8,1393.9 464.7,1395.5 465.6,1396.4 466.6,1396.2 467.5,1398.8 468.4,1402.0 469.3,1397.2 470.2,1399.7 471.2,1402.0 472.1,1404.0 473.0,1405.4 473.9,1400.0 474.9,1403.3 475.8,1406.2 476.7,1401.1 477.7,1405.3 478.6,1403.0 479.5,1407.6 480.5,1409.4 481.4,1407.2 482.3,1404.1 483.3,1405.0 484.2,1408.0 485.1,1411.5 486.1,1407.8 487.0,1411.4 487.9,1410.1 488.9,1409.7 489.8,1413.3 490.7,1411.1 491.6,1412.1 492.6,1415.4 493.5,1414.1 494.4,1416.6 495.3,1415.3 496.2,1413.4 497.2,1415.9 498.1,1419.5 499.0,1417.8 500.0,1421.2 500.9,1414.7 501.8,1417.6 502.7,1421.2 503.6,1421.1 504.6,1420.6 505.5,1421.9 506.4,1423.9 507.4,1422.9 508.3,1422.4 509.2,1423.0 510.1,1424.1 511.1,1421.9 512.0,1424.9 512.9,1424.9 513.9,1426.6 514.8,1424.5 515.7,1421.4 516.7,1425.7 517.6,1428.6 518.5,1427.2 519.5,1427.6 520.4,1426.1 521.3,1426.3 522.2,1429.5 523.2,1425.1 524.1,1431.5 525.0,1432.0 526.0,1433.1 526.9,1427.5 527.8,1427.8 528.7,1434.0 529.6,1430.8 530.6,1430.4 531.5,1431.6 532.4,1434.1 533.4,1431.0 534.3,1433.8 535.2,1435.5 536.1,1436.5 537.0,1431.7 538.0,1438.1 538.9,1435.7 539.8,1436.2 540.8,1437.7 541.7,1435.9 542.6,1441.3 543.5,1435.9 544.5,1438.8 545.4,1435.8 546.3,1439.8 547.3,1442.6 548.2,1442.6 549.1,1436.1 550.1,1440.7 551.0,1443.3 551.9,1437.2 552.9,1439.3 553.8,1442.2 554.7,1442.7 555.7,1440.3 556.6,1442.2 557.5,1442.7 558.5,1440.1 559.4,1443.0 560.3,1442.6 561.3,1443.9 562.2,1442.4 563.1,1441.1 564.1,1442.2 565.0,1446.9 566.0,1440.3 566.9,1440.1 567.9,1439.0 568.8,1446.9 569.8,1448.4 570.7,1441.5 571.7,1441.9 572.6,1441.4 573.6,1445.4 574.5,1444.5 575.5,1447.8 576.5,1442.2 577.4,1448.6 578.4,1444.9 579.3,1448.3 580.3,1448.4 581.2,1449.6 582.2,1445.9 583.1,1447.1 584.1,1446.8 585.1,1443.5 586.0,1446.6 587.0,1450.7 588.0,1450.7 588.9,1442.8 589.9,1448.9 590.8,1446.0 591.8,1444.4 592.8,1444.6 593.7,1450.8 594.7,1452.5 595.7,1448.7 596.6,1447.6 597.6,1449.0 598.6,1452.1 599.5,1451.5 600.5,1445.5 601.5,1447.0 602.4,1453.2 603.4,1450.0 604.3,1451.7 605.3,1452.9 606.3,1451.9 607.2,1452.9 608.2,1451.4 609.2,1448.8 610.1,1448.7 611.1,1456.1 612.1,1447.6 613.0,1453.9 614.0,1455.8 615.0,1450.3 615.9,1448.9 616.9,1452.3 617.9,1451.9 618.8,1453.3 619.8,1453.2 620.8,1458.0 621.8,1451.0 622.7,1458.5 623.7,1450.8 624.7,1458.9 625.6,1453.8 626.6,1457.6 627.6,1451.4 628.5,1455.6 629.5,1457.9 630.5,1457.7 631.4,1459.6 632.4,1453.8 633.4,1456.2 634.3,1458.3 635.3,1453.1 636.3,1460.7 637.2,1457.0 638.2,1455.5 639.1,1455.4 640.1,1459.6 641.1,1454.0 642.0,1456.0 643.0,1456.8 644.0,1456.5 644.9,1461.1 645.9,1460.0 646.9,1463.1 647.8,1461.3 648.8,1457.6 649.8,1458.0 650.7,1456.2 651.7,1457.5 652.6,1461.1 653.6,1462.5 654.6,1458.4 655.5,1459.0 656.5,1463.7 657.5,1465.3 658.4,1456.8 659.4,1456.8 660.4,1463.6 661.3,1461.1 662.3,1460.5 663.2,1462.7 664.2,1464.1 665.2,1457.3 666.1,1466.3 667.1,1466.3 668.1,1461.0 669.0,1461.6 670.0,1459.8 671.0,1463.0 671.9,1459.3 672.9,1462.7 673.9,1466.5 674.8,1462.6 675.8,1465.9 676.7,1459.5 677.7,1466.7 678.7,1459.0 679.6,1460.0 680.6,1465.4 681.6,1461.0 682.5,1459.1 683.5,1458.7 684.5,1466.1 685.4,1457.9 686.4,1458.2 687.3,1467.7 688.3,1465.9 689.3,1461.5 690.2,1459.6 691.2,1466.8 692.2,1465.9 693.1,1464.6 694.1,1463.1 695.1,1463.0 696.0,1467.8 697.0,1462.9 698.0,1458.2 698.9,1458.1 699.9,1463.6 700.8,1465.1 701.8,1464.0 702.8,1465.2 703.7,1460.3 704.7,1461.1 705.7,1460.0 706.6,1461.2 707.6,1460.1 708.6,1466.2 709.5,1458.8 710.5,1459.5 711.4,1465.0 712.4,1461.6 713.4,1461.0 714.3,1467.8 715.3,1467.0 716.3,1459.8 717.2,1459.1 718.2,1462.8 719.2,1463.7 720.1,1461.2 721.1,1463.9 722.1,1464.8 723.0,1466.3 724.0,1460.2 724.9,1464.6 725.9,1458.3 726.9,1458.4 727.8,1458.3 728.8,1459.0 729.8,1466.0 730.7,1461.6 731.7,1462.9 732.7,1462.4 733.6,1459.8 734.6,1458.0 735.6,1459.4 736.5,1466.5 737.5,1461.0 738.5,1461.8 739.4,1460.1 740.4,1465.1 741.4,1464.6 742.4,1461.2 743.3,1462.4 744.3,1461.2 745.3,1463.1 746.2,1463.2 747.2,1463.0 748.2,1466.3 749.1,1466.7 750.1,1457.5 751.1,1460.8 752.0,1457.3 753.0,1460.6 754.0,1464.8 754.9,1463.4 755.9,1462.1 756.9,1457.3 757.8,1464.2 758.8,1462.1 759.7,1459.0 760.7,1463.4 761.7,1456.2 762.6,1457.4 763.6,1463.0 764.6,1455.8 765.5,1456.5 766.5,1459.8 767.5,1461.7 768.4,1460.4 769.4,1455.0 770.4,1457.1 771.3,1461.1 772.3,1457.5 773.2,1455.8 774.2,1453.8 775.2,1456.2 776.1,1462.6 777.1,1453.7 778.1,1458.7 779.1,1462.2 780.1,1460.1 781.1,1455.8 782.1,1459.5 783.1,1453.9 784.1,1457.8 785.1,1455.3 786.1,1461.7 787.1,1461.5 788.1,1460.4 789.0,1456.3 790.0,1460.6 791.0,1462.5 792.0,1456.1 793.0,1457.6 794.0,1453.8 795.0,1453.3 796.0,1459.4 797.0,1452.8 798.0,1458.1 799.0,1453.3 800.0,1458.6 801.0,1459.2 802.0,1460.6 802.9,1455.3 803.9,1455.0 804.9,1454.9 805.9,1457.4 806.9,1457.9 807.8,1451.7 808.8,1453.3 809.8,1450.7 810.8,1452.0 811.7,1456.1 812.7,1457.7 813.7,1457.8 814.7,1449.7 815.7,1452.3 816.6,1456.0 817.6,1452.7 818.6,1451.1 819.6,1454.3 820.5,1454.6 821.5,1448.4 822.5,1451.0 823.5,1447.6 824.4,1447.5 825.4,1449.9 826.4,1447.3 827.4,1451.3 828.3,1447.4 829.3,1445.6 830.3,1448.7 831.3,1445.5 832.2,1443.5 833.2,1450.5 834.2,1443.6 835.2,1442.8 836.1,1445.2 837.1,1441.0 838.1,1447.1 839.1,1440.9 840.0,1440.3 841.0,1447.7 842.0,1443.7 843.0,1446.8 844.0,1446.3 844.9,1444.6 845.9,1438.4 846.9,1443.3 847.9,1438.1 848.8,1437.3 849.8,1444.1 850.8,1439.2 851.8,1442.7 852.8,1440.5 853.7,1442.4 854.7,1440.9 855.7,1443.5 856.7,1438.9 857.6,1442.0 858.6,1441.4 859.6,1439.2 860.6,1438.2 861.5,1437.3 862.5,1438.9 863.5,1434.8 864.5,1436.6 865.4,1438.2 866.4,1435.0 867.4,1434.0 868.4,1432.9 869.3,1438.4 870.3,1438.7 871.3,1438.1 872.3,1436.8 873.2,1435.7 874.2,1431.4 875.2,1436.7 876.2,1433.1 877.2,1433.8 878.2,1429.2 879.2,1432.7 880.2,1428.0 881.2,1432.6 882.1,1430.2 883.1,1428.3 884.1,1428.5 885.1,1424.8 886.1,1426.0 887.1,1422.3 888.1,1422.9 889.1,1422.6 890.1,1421.4 891.1,1423.1 892.1,1419.9 893.1,1419.3 894.1,1421.5 895.0,1426.8 896.0,1424.3 897.0,1421.5 898.0,1419.4 899.0,1418.5 900.0,1420.7 901.0,1422.3 902.0,1423.4 903.0,1420.0 904.0,1422.4 905.0,1421.6 906.0,1421.3 907.0,1416.9 908.0,1417.4 909.0,1414.6 910.0,1417.2 911.0,1412.6 912.0,1415.3 913.0,1412.4 914.0,1414.3 915.0,1411.3 916.0,1409.3 917.0,1412.6 917.9,1412.5 918.9,1413.4 919.9,1409.5 920.8,1412.8 921.8,1410.8 922.7,1408.5 923.7,1411.6 924.7,1414.0 925.6,1410.3 926.6,1414.2 927.5,1414.8 928.5,1407.1 929.5,1409.0 930.4,1409.5 931.4,1412.4 932.4,1411.3 933.3,1412.0 934.3,1407.0 935.2,1409.0 936.2,1407.6 937.2,1413.2 938.1,1412.5 939.1,1408.7 940.1,1414.1 941.1,1406.8 942.0,1405.5 943.0,1408.8 944.0,1411.5 945.0,1414.0 946.0,1409.7 946.9,1405.9 947.9,1410.2 948.9,1404.5 949.9,1412.0 950.8,1407.1 951.8,1404.9 952.8,1405.2 953.8,1411.5 954.8,1412.1 955.7,1405.1 956.7,1412.7 957.7,1411.2 958.7,1406.0 959.7,1403.2 960.7,1404.0 961.7,1406.5 962.7,1404.2 963.7,1403.8 964.7,1404.5 965.6,1410.0 966.6,1401.9 967.6,1410.1 968.6,1405.5 969.6,1408.1 970.6,1405.8 971.6,1409.7 972.6,1402.3 973.6,1402.9 974.6,1405.1 975.6,1404.9 976.6,1403.1 977.6,1402.7 978.5,1400.5 979.5,1404.2 980.5,1407.2 981.5,1407.3 982.5,1402.9 983.5,1408.1 984.5,1407.8 985.5,1401.5 986.5,1399.4 987.4,1406.2 988.4,1407.1 989.4,1404.1 990.3,1407.1 991.3,1402.2 992.3,1402.5 993.2,1398.1 994.2,1400.8 995.2,1406.0 996.1,1398.0 997.1,1398.2 998.1,1397.1 999.0,1401.4 1000.0,1402.3 1001.0,1401.4 1001.9,1404.6 1002.9,1402.5 1003.8,1401.9 1004.8,1401.4 1005.8,1400.3 1006.7,1396.1 1007.7,1396.2 1008.6,1401.1 1009.6,1396.9 1010.6,1398.6 1011.5,1400.6 1012.5,1400.0 1013.4,1396.5 1014.4,1396.5 1015.4,1395.1 1016.3,1400.0 1017.3,1400.4 1018.2,1394.5 1019.2,1395.7 1020.2,1394.6 1021.2,1399.2 1022.2,1396.2 1023.2,1402.0 1024.2,1396.1 1025.2,1399.9 1026.2,1400.0 1027.2,1403.1 1028.2,1401.0 1029.2,1403.2 1030.2,1399.8 1031.2,1394.1 1032.2,1397.5 1033.2,1401.7 1034.2,1397.8 1035.2,1401.1 1036.2,1395.8 1037.2,1401.2 1038.2,1398.7 1039.2,1404.4 1040.2,1395.7 1041.2,1398.7 1042.2,1402.9 1043.2,1399.2 1044.2,1400.0 1045.2,1398.8 1046.2,1396.6 1047.2,1398.9 1048.2,1404.6 1049.2,1403.6 1050.1,1399.1 1051.1,1402.8 1052.1,1404.2 1053.1,1404.3 1054.1,1396.9 1055.1,1398.1 1056.1,1406.2 1057.1,1399.5 1058.1,1404.6 1059.1,1403.2 1060.1,1405.7 1061.1,1397.4 1062.1,1406.2 1063.1,1405.6 1064.1,1398.9 1065.1,1403.8 1066.1,1396.4 1067.1,1405.3 1068.1,1400.6 1069.0,1403.9 1070.0,1404.4 1071.0,1396.3 1072.0,1405.1 1073.0,1397.5 1074.0,1398.2 1075.0,1400.7 1076.0,1399.2 1077.0,1402.1 1078.0,1398.8 1079.0,1401.7 1080.0,1401.2 1081.0,1401.0 1082.0,1396.2 1083.0,1394.3 1084.0,1394.5 1085.0,1393.5 1086.0,1393.4 1087.0,1390.4 1088.0,1391.2 1089.0,1392.0 1090.0,1395.6 1091.0,1396.7 1092.0,1395.0 1093.0,1397.8 1094.0,1398.4 1095.0,1401.9 1096.0,1401.3 1097.0,1399.8 1098.0,1402.5 1099.0,1403.6 1100.0,1401.2 1101.0,1405.6 1102.0,1399.0 1103.0,1398.6 1104.0,1405.1 1105.0,1403.8 1106.0,1405.7 1107.0,1407.6 1107.9,1403.6 1108.9,1406.7 1109.9,1405.2 1110.9,1404.0 1111.9,1404.1 1112.9,1409.0 1113.9,1402.8 1114.9,1403.7 1115.9,1404.3 1116.9,1406.0 1117.9,1400.4 1118.9,1406.4 1119.9,1400.2 1120.9,1403.5 1121.9,1404.0 1122.9,1405.2 1123.9,1405.1 1124.9,1405.3 1125.9,1399.4 1126.9,1402.4 1127.9,1406.4 1128.9,1403.1 1129.9,1407.1 1130.9,1404.1 1131.9,1404.3 1132.9,1405.3 1133.9,1408.2 1134.9,1398.4 1135.9,1399.4 1136.9,1399.0 1137.9,1400.1 1138.9,1398.1 1139.9,1407.6 1140.8,1399.2 1141.8,1402.3 1142.7,1406.2 1143.7,1402.1 1144.7,1399.7 1145.6,1400.1 1146.6,1401.3 1147.5,1400.0 1148.5,1401.5 1149.5,1400.8 1150.4,1397.5 1151.4,1405.2 1152.3,1406.0 1153.3,1401.9 1154.2,1397.1 1155.2,1405.2 1156.2,1399.5 1157.1,1399.6 1158.1,1398.2 1159.0,1405.0 1160.0,1402.5 1161.0,1398.4 1162.0,1399.1 1163.0,1399.7 1164.0,1399.3 1165.0,1402.4 1166.0,1405.4 1167.0,1395.6 1168.0,1404.4 1169.0,1404.4 1170.0,1397.5 1171.0,1405.8 1172.0,1404.7 1173.0,1403.1 1174.0,1396.4 1175.0,1400.1 1176.0,1403.5 1177.0,1401.3 1178.0,1395.9 1179.0,1403.6 1180.0,1399.7 1180.9,1397.7 1181.9,1399.1 1182.9,1396.4 1183.9,1399.2 1184.9,1395.5 1185.9,1406.2 1186.9,1396.8 1187.9,1399.0 1188.9,1398.6 1189.9,1400.4 1190.9,1399.1 1191.9,1405.0 1192.9,1397.4 1193.9,1406.2 1194.9,1399.7 1195.9,1406.0 1196.9,1399.1 1197.9,1396.4 1198.9,1404.4 1199.9,1397.3 1200.9,1403.5 1201.9,1405.0 1202.9,1398.2 1203.9,1399.3 1204.9,1401.9 1205.9,1405.1 1206.9,1405.1 1207.9,1401.3 1208.9,1402.2 1209.9,1404.7 1210.9,1398.2 1211.9,1406.2 1212.9,1405.6 1213.9,1399.2 1214.9,1403.3 1215.9,1404.4 1216.9,1403.6 1217.9,1397.8 1218.9,1397.8 1219.8,1399.5 1220.8,1398.4 1221.8,1402.3 1222.8,1405.0 1223.8,1403.4 1224.8,1406.9 1225.8,1402.7 1226.8,1402.3 1227.8,1399.1 1228.8,1407.7 1229.8,1404.8 1230.8,1408.1 1231.8,1407.7 1232.8,1399.0 1233.8,1404.4 1234.8,1403.3 1235.8,1406.1 1236.8,1399.0 1237.8,1405.3 1238.8,1404.8 1239.8,1402.5 1240.8,1399.9 1241.8,1405.3 1242.8,1398.9 1243.8,1401.6 1244.8,1398.5 1245.8,1401.1 1246.8,1400.4 1247.8,1403.8 1248.8,1404.3 1249.8,1404.3 1250.7,1401.3 1251.7,1404.5 1252.7,1403.5 1253.7,1402.1 1254.7,1404.3 1255.7,1406.0 1256.7,1401.1 1257.7,1405.6 1258.7,1402.2 1259.7,1399.8 1260.7,1400.9 1261.7,1402.8 1262.7,1399.7 1263.7,1405.6 1264.7,1400.8 1265.7,1403.2 1266.7,1405.6 1267.7,1405.5 1268.7,1404.3 1269.7,1404.8 1270.7,1405.4 1271.7,1404.0 1272.7,1402.8 1273.7,1407.3 1274.7,1400.7 1275.7,1400.6 1276.7,1402.5 1277.7,1401.9 1278.7,1409.0 1279.7,1405.1 1280.7,1408.6 1281.7,1405.6 1282.7,1402.6 1283.7,1409.0 1284.7,1409.2 1285.7,1402.1 1286.7,1408.4 1287.7,1406.7 1288.7,1403.1 1289.7,1404.7 1290.6,1408.7 1291.6,1403.6 1292.6,1407.8 1293.6,1407.2 1294.6,1407.4 1295.6,1404.1 1296.6,1410.6 1297.6,1407.9 1298.6,1409.6 1299.6,1409.1 1300.6,1405.9 1301.6,1410.3 1302.6,1406.7 1303.6,1412.3 1304.6,1407.3 1305.6,1404.5 1306.6,1407.4 1307.6,1406.6 1308.6,1412.7 1309.6,1405.8 1310.6,1411.8 1311.6,1403.0 1312.6,1404.2 1313.6,1405.8 1314.6,1410.1 1315.6,1408.7 1316.6,1406.7 1317.6,1406.3 1318.6,1409.6 1319.6,1403.9 1320.6,1408.3 1321.6,1404.5 1322.6,1406.7 1323.6,1407.2 1324.5,1403.8 1325.5,1401.5 1326.5,1401.5 1327.5,1401.1 1328.5,1399.5 1329.5,1401.8 1330.5,1403.3 1331.5,1400.7 1332.5,1405.2 1333.5,1404.7 1334.5,1403.5 1335.5,1403.8 1336.5,1399.7 1337.5,1403.9 1338.5,1397.5 1339.5,1397.3 1340.5,1397.8 1341.5,1400.4 1342.5,1404.4 1343.5,1397.9 1344.5,1401.4 1345.5,1403.6 1346.5,1406.2 1347.4,1403.6 1348.4,1400.7 1349.4,1399.3 1350.4,1403.5 1351.4,1406.5 1352.4,1406.9 1353.4,1405.0 1354.4,1401.0 1355.4,1400.1 1356.4,1400.0 1357.4,1402.3 1358.4,1405.0 1359.4,1401.5 1360.4,1405.7 1361.4,1402.7 1362.4,1406.9 1363.4,1404.3 1364.4,1406.3 1365.4,1401.4 1366.4,1404.1 1367.4,1406.8 1368.4,1398.6 1369.4,1406.8 1370.4,1403.5 1371.4,1407.0 1372.4,1400.3 1373.4,1402.0 1374.4,1403.6 1375.4,1402.6 1376.4,1402.6 1377.4,1404.7 1378.4,1398.0 1379.4,1402.9 1380.4,1400.6 1381.4,1405.1 1382.4,1405.7 1383.4,1401.2 1384.4,1400.6 1385.4,1405.8 1386.4,1406.4 1387.4,1405.0 1388.4,1406.4 1389.3,1407.0 1390.3,1402.9 1391.3,1401.9 1392.3,1399.3 1393.3,1403.1 1394.3,1401.2 1395.3,1406.2 1396.3,1405.3 1397.3,1408.6 1398.3,1406.4 1399.3,1402.4 1400.3,1403.6 1401.3,1404.9 1402.3,1405.3 1403.3,1409.5 1404.3,1406.4 1405.3,1403.3 1406.3,1402.8 1407.3,1406.0 1408.3,1400.9 1409.3,1404.9 1410.3,1409.5 1411.3,1409.8 1412.3,1406.1 1413.3,1406.0 1414.3,1403.8 1415.3,1406.5 1416.3,1405.2 1417.3,1407.3 1418.3,1410.5 1419.2,1408.5 1420.2,1402.1 1421.2,1402.5 1422.2,1407.9 1423.2,1411.0 1424.2,1407.1 1425.2,1409.6 1426.2,1403.8 1427.2,1403.5 1428.2,1411.3 1429.2,1410.3 1430.2,1405.8 1431.2,1409.7 1432.2,1407.9 1433.2,1409.4 1434.2,1407.5 1435.2,1408.5 1436.2,1411.3 1437.2,1406.0 1438.2,1409.3 1439.2,1411.7 1440.2,1401.9 1441.2,1404.2 1442.2,1405.4 1443.2,1407.7 1444.2,1406.4 1445.2,1411.7 1446.2,1403.7 1447.2,1404.9 1448.2,1402.5 1449.2,1403.6 1450.2,1408.1 1451.2,1402.3 1452.2,1411.9 1453.2,1409.9 1454.2,1402.7 1455.2,1410.3 1456.2,1403.2 1457.2,1407.4 1458.2,1404.2 1459.2,1403.8 1460.1,1407.7 1461.1,1411.5 1462.1,1402.9 1463.1,1404.3 1464.1,1407.3 1465.1,1412.3 1466.1,1406.0 1467.1,1411.5 1468.1,1408.0 1469.1,1407.0 1470.1,1410.4 1471.1,1404.3 1472.1,1407.9 1473.1,1402.7 1474.1,1407.9 1475.1,1412.9 1476.1,1403.3 1477.1,1403.6 1478.1,1408.5 1479.1,1412.2 1480.1,1408.2 1481.1,1412.1 1482.1,1405.6 1483.1,1412.0 1484.1,1404.2 1485.1,1409.5 1486.1,1405.2 1487.1,1409.8 1488.1,1402.0 1489.0,1404.5 1490.0,1410.2 1491.0,1408.6 1492.0,1405.7 1493.0,1404.5 1494.0,1409.8 1495.0,1402.5 1496.0,1402.3 1497.0,1401.0 1498.0,1406.5 1499.0,1408.7 1500.0,1401.2 1501.0,1406.8 1502.0,1406.6 1503.0,1401.2 1504.0,1404.0 1505.0,1404.2 1506.0,1399.3 1506.9,1407.2 1507.9,1399.6 1508.9,1399.5 1509.9,1404.4 1510.9,1402.3 1511.9,1404.7 1512.9,1403.2 1513.9,1398.0 1514.9,1401.1 1515.9,1405.7 1516.9,1399.3 1517.9,1398.0 1518.9,1404.3 1519.9,1396.7 1520.8,1399.5 1521.8,1404.5 1522.8,1403.0 1523.8,1396.8 1524.8,1396.4 1525.8,1399.3 1526.8,1400.3 1527.8,1400.6 1528.6,1396.8 1529.5,1397.1 1530.3,1396.4 1531.2,1395.1 1532.0,1395.6 1532.6,1392.4 1533.2,1389.3 1533.8,1387.6 1534.4,1383.6 1535.0,1381.7 1535.6,1379.4 1536.2,1375.6 1537.0,1377.6 1537.7,1380.2 1538.5,1385.2 1539.2,1388.2 1540.0,1390.7 1541.0,1389.6 1541.9,1391.7 1542.9,1395.6 1543.9,1395.4 1544.8,1396.2 1545.8,1400.1 1546.8,1401.7 1547.7,1398.9 1548.7,1403.1 1549.7,1403.9 1550.6,1404.4 1551.6,1405.1 1552.6,1404.1 1553.6,1399.2 1554.5,1401.1 1555.5,1400.4 1556.5,1403.8 1557.4,1403.3 1558.4,1406.2 1559.3,1400.5 1560.2,1398.8 1561.2,1397.3 1562.1,1397.3 1563.0,1400.1 1564.0,1397.1 1564.9,1393.8 1565.8,1393.9 1566.8,1392.7 1567.6,1392.4 1568.5,1392.3 1569.3,1396.5 1570.2,1397.1 1571.0,1396.2 1572.0,1399.9 1573.0,1400.1 1574.0,1403.2 1575.0,1406.5 1576.0,1407.8 1577.0,1408.3 1578.0,1412.3 1578.9,1410.4 1579.8,1413.1 1580.8,1411.9 1581.7,1414.4 1582.6,1414.8 1583.5,1415.6 1584.5,1417.9 1585.4,1418.4 1586.3,1420.2 1587.2,1414.6 1588.2,1419.1 1589.1,1416.4 1590.0,1412.3 1590.9,1410.7 1591.8,1411.7 1592.8,1412.6 1593.7,1413.4 1594.6,1414.6 1595.6,1413.7 1596.5,1413.8 1597.4,1412.9 1598.4,1412.6 1599.4,1413.2 1600.4,1411.2 1601.4,1406.1 1602.4,1409.2 1603.4,1407.9 1604.3,1409.5 1605.3,1405.9 1606.3,1411.1 1607.3,1405.2 1608.3,1406.4 1609.3,1403.6 1610.3,1409.9 1611.3,1409.5 1612.3,1409.8 1613.3,1403.0 1614.3,1403.9 1615.3,1409.1 1616.3,1408.7 1617.3,1401.4 1618.2,1404.5 1619.2,1400.5 1620.2,1407.7 1621.2,1407.7 1622.2,1408.4 1623.2,1407.1 1624.2,1403.2 1625.2,1402.6 1626.2,1405.2 1627.2,1402.8 1628.2,1407.7 1629.2,1402.9 1630.2,1402.7 1631.2,1407.4 1632.1,1400.5 1633.1,1401.0 1634.1,1398.4 1635.1,1406.4 1636.1,1402.4 1637.1,1401.5 1638.1,1405.6 1639.1,1405.6 1640.1,1398.8 1641.0,1397.8 1642.0,1404.8 1643.0,1405.3 1644.0,1401.3 1644.9,1402.8 1645.9,1396.0 1646.9,1400.3 1647.9,1396.2 1648.8,1396.5 1649.8,1395.6 1650.8,1400.0 1651.8,1400.3 1652.7,1398.7 1653.7,1401.3 1654.7,1395.2 1655.7,1396.8 1656.7,1396.3 1657.6,1399.7 1658.6,1402.6 1659.6,1396.6 1660.6,1403.9 1661.6,1398.5 1662.6,1397.1 1663.5,1397.7 1664.5,1403.0 1665.5,1395.5 1666.5,1399.8 1667.5,1398.5 1668.5,1401.0 1669.4,1399.7 1670.4,1396.8 1671.4,1397.5 1672.4,1405.7 1673.4,1401.8 1674.4,1405.5 1675.3,1406.0 1676.3,1402.5 1677.3,1405.8 1678.3,1400.9 1679.3,1399.6 1680.3,1404.6 1681.3,1399.7 1682.2,1398.9 1683.2,1401.0 1684.2,1400.1 1685.2,1405.6 1686.2,1404.9 1687.2,1403.0 1688.1,1404.6 1689.1,1398.1 1690.1,1398.1 1691.1,1398.9 1692.1,1401.3 1693.1,1395.5 1694.0,1396.1 1695.0,1397.5 1696.0,1395.9 1697.0,1397.3 1698.0,1395.7 1699.0,1397.5 1699.9,1398.8 1700.9,1399.9 1701.9,1402.5 1702.9,1397.0 1703.9,1398.0 1704.9,1403.1 1705.9,1394.1 1706.8,1399.3 1707.8,1395.1 1708.8,1393.9 1709.8,1403.4 1710.8,1401.0 1711.8,1398.8 1712.7,1402.6 1713.7,1404.2 1714.7,1400.1 1715.7,1398.7 1716.7,1393.7 1717.7,1404.1 1718.6,1402.2 1719.6,1394.9 1720.6,1398.6 1721.6,1396.5 1722.6,1403.8 1723.6,1397.2 1724.5,1395.7 1725.5,1403.0 1726.5,1397.4 1727.5,1395.8 1728.5,1395.6 1729.5,1397.0 1730.4,1399.8 1731.4,1398.6 1732.4,1402.6 1733.4,1404.7 1734.4,1399.0 1735.3,1398.6 1736.3,1404.6 1737.3,1404.3 1738.3,1405.3 1739.3,1399.1 1740.3,1403.0 1741.2,1399.4 1742.2,1398.2 1743.2,1399.1 1744.2,1402.2 1745.2,1401.4 1746.2,1401.1 1747.2,1396.1 1748.2,1397.2 1749.1,1394.5 1750.1,1394.3 1751.1,1399.0 1752.1,1392.3 1753.1,1399.3 1754.1,1399.9 1755.1,1395.3 1756.0,1396.9 1757.0,1400.5 1758.0,1398.3 1759.0,1399.2 1760.0,1398.8 1761.0,1392.0 1761.9,1399.4 1762.9,1398.6 1763.9,1395.1 1764.9,1392.3 1765.9,1395.5 1766.9,1397.6 1767.8,1395.7 1768.8,1398.0 1769.8,1396.3 1770.8,1399.4 1771.8,1401.9 1772.8,1392.7 1773.7,1398.9 1774.7,1401.0 1775.7,1393.0 1776.7,1397.6 1777.7,1401.2 1778.7,1400.0 1779.6,1396.8 1780.6,1396.4 1781.6,1393.2 1782.6,1398.1 1783.6,1401.6 1784.6,1401.7 1785.5,1400.5 1786.5,1398.2 1787.5,1395.5 1788.5,1395.9 1789.5,1394.8 1790.4,1396.5 1791.4,1393.1 1792.4,1397.9 1793.4,1401.4 1794.4,1396.6 1795.4,1402.3 1796.3,1399.1 1797.3,1401.6 1798.3,1403.9 1799.3,1394.3 1800.3,1397.6 1801.2,1395.0 1802.2,1394.7 1803.2,1401.0 1804.2,1393.4 1805.2,1399.7 1806.2,1403.2 1807.1,1397.9 1808.1,1400.8 1809.1,1394.8 1810.1,1401.5 1811.1,1401.8 1812.1,1399.8 1813.0,1403.4 1814.0,1399.5 1815.0,1400.0 1816.0,1393.8 1817.0,1402.4 1817.9,1397.3 1818.9,1401.1 1819.9,1399.0 1820.9,1395.4 1821.9,1398.9 1822.9,1403.8 1823.8,1400.8 1824.8,1395.0 1825.8,1399.6 1826.8,1403.5 1827.8,1394.1 1828.8,1393.8 1829.7,1402.5 1830.7,1400.1 1831.7,1401.8 1832.7,1397.1 1833.7,1399.7 1834.7,1395.2 1835.6,1394.8 1836.6,1399.5 1837.6,1402.7 1838.6,1399.3 1839.6,1393.7 1840.6,1393.5 1841.5,1401.6 1842.5,1397.3 1843.5,1395.5 1844.5,1396.2 1845.5,1403.3 1846.5,1398.5 1847.4,1394.8 1848.4,1395.2 1849.4,1393.9 1850.4,1403.4 1851.4,1398.1 1852.4,1398.0 1853.4,1393.8 1854.3,1396.1 1855.3,1401.8 1856.3,1402.1 1857.3,1397.9 1858.3,1396.0 1859.3,1403.3 1860.2,1396.5 1861.2,1395.9 1862.2,1394.5 1863.2,1398.2 1864.2,1401.9 1865.2,1398.5 1866.1,1401.7 1867.1,1396.3 1868.1,1400.2 1869.1,1394.7 1870.1,1397.7 1871.1,1396.0 1872.0,1395.9 1873.0,1400.8 1874.0,1395.0 1875.0,1398.0 1876.0,1396.6 1877.0,1402.2 1877.9,1395.2 1878.9,1396.5 1879.9,1400.4 1880.9,1395.9 1881.9,1400.7 1882.9,1403.3 1883.8,1396.7 1884.8,1398.6 1885.8,1393.1 1886.8,1401.5 1887.8,1397.0 1888.7,1399.5 1889.7,1395.2 1890.7,1400.2 1891.7,1398.4 1892.7,1403.7 1893.7,1403.3 1894.6,1399.2 1895.6,1395.0 1896.6,1396.2 1897.6,1399.0 1898.6,1401.8 1899.5,1402.8 1900.5,1402.7 1901.5,1401.6 1902.5,1398.2 1903.5,1399.5 1904.5,1396.1 1905.4,1399.4 1906.4,1397.4 1907.4,1399.4 1908.4,1393.8 1909.4,1394.5 1910.4,1400.5 1911.3,1398.1 1912.3,1395.9 1913.3,1404.0 1914.3,1393.8 1915.3,1403.7 1916.2,1402.7 1917.2,1393.7 1918.2,1403.1 1919.2,1401.4 1920.2,1396.1 1921.2,1401.1 1922.1,1403.9 1923.1,1394.5 1924.1,1397.0 1925.1,1395.2 1926.1,1403.2 1927.1,1395.1 1928.0,1394.8 1929.0,1394.8 1930.0,1402.9 1931.0,1395.9 1932.0,1404.3 1933.0,1394.1 1933.9,1398.7 1934.9,1395.1 1935.9,1395.7 1936.9,1395.7 1937.9,1399.9 1938.9,1396.1 1939.8,1397.4 1940.8,1403.2 1941.8,1400.3 1942.8,1393.8 1943.8,1396.6 1944.8,1400.4 1945.7,1397.2 1946.7,1394.7 1947.7,1394.8 1948.7,1397.6 1949.7,1400.5 1950.7,1398.9 1951.7,1396.3 1952.6,1395.4 1953.6,1397.0 1954.6,1403.4 1955.6,1394.6 1956.6,1394.5 1957.6,1394.7 1958.5,1399.8 1959.5,1394.0 1960.5,1397.1 1961.5,1397.0 1962.5,1398.4 1963.5,1398.5 1964.4,1402.9 1965.4,1397.0 1966.4,1395.5 1967.4,1402.3 1968.4,1396.2 1969.4,1395.3 1970.3,1394.0 1971.3,1404.2 1972.3,1401.0 1973.3,1400.6 1974.3,1394.7 1975.3,1402.8 1976.3,1394.4 1977.2,1401.2 1978.2,1402.6 1979.2,1398.7 1980.2,1395.7 1981.2,1404.1 1982.2,1394.1 1983.1,1396.5 1984.1,1400.2 1985.1,1400.3 1986.1,1395.6 1987.1,1396.4 1988.1,1397.8 1989.0,1403.9 1990.0,1404.1 1991.0,1394.5 1992.0,1402.5 1993.0,1397.6 1994.0,1396.0 1994.9,1398.0 1995.9,1393.9 1996.9,1401.0 1997.9,1400.8 1998.9,1395.9 1999.9,1393.5 2000.9,1401.1 2001.8,1403.6 2002.8,1394.5 2003.8,1403.6 2004.8,1399.0 2005.8,1395.5 2006.8,1401.2 2007.7,1401.2 2008.7,1396.8 2009.7,1399.1 2010.7,1395.3 2011.7,1399.2 2012.7,1395.0 2013.6,1396.7 2014.6,1401.3 2015.6,1401.3 2016.6,1399.9 2017.6,1402.5 2018.6,1401.1 2019.5,1399.2 2020.5,1399.9 2021.5,1394.1 2022.5,1393.1 2023.5,1395.2 2024.5,1400.8 2025.4,1403.1 2026.4,1394.9 2027.4,1403.0 2028.4,1401.3 2029.4,1394.2 2030.4,1398.2 2031.3,1395.2 2032.3,1400.4 2033.3,1396.2 2034.3,1396.6 2035.3,1398.4 2036.2,1395.5 2037.2,1400.8 2038.2,1398.8 2039.2,1392.8 2040.2,1398.3 2041.2,1396.9 2042.1,1402.1 2043.1,1402.4 2044.1,1392.7 2045.1,1400.3 2046.1,1398.7 2047.0,1397.4 2048.0,1393.2 2049.0,1401.6 2050.0,1398.9 2051.0,1398.7 2052.0,1402.2 2052.9,1393.2 2053.9,1396.0 2054.9,1392.2 2055.9,1394.8 2056.9,1402.5 2057.9,1395.9 2058.8,1400.6 2059.8,1401.0 2060.8,1397.5 2061.8,1400.6 2062.8,1393.9 2063.7,1392.4 2064.7,1393.8 2065.7,1392.6 2066.7,1392.6 2067.7,1392.1 2068.7,1392.3 2069.6,1392.7 2070.6,1397.3 2071.6,1394.7 2072.6,1401.9 2073.5,1398.1 2074.5,1401.2 2075.5,1399.0 2076.5,1400.7 2077.4,1401.1 2078.4,1395.3 2079.4,1393.6 2080.4,1392.0 2081.3,1401.1 2082.3,1393.5 2083.3,1401.2 2084.3,1398.5 2085.2,1399.4 2086.2,1391.2 2087.2,1400.3 2088.2,1391.5 2089.1,1399.1 2090.1,1390.9 2091.1,1400.5 2092.1,1391.0 2093.0,1392.0 2094.0,1395.1" stroke="#0000ff" stroke-opacity="0.28" stroke-width="15" fill="none" stroke-linejoin="round" stroke-linecap="butt"/>
<path d="M326.0,1300.4 327.0,1302.8 327.9,1307.4 328.9,1307.5 329.9,1306.3 330.9,1309.4 331.8,1311.0 332.8,1310.8 333.8,1314.9 334.8,1313.3 335.7,1315.9 336.7,1317.9 337.6,1318.7 338.6,1320.6 339.5,1322.5 340.4,1324.8 341.3,1322.8 342.2,1325.7 343.2,1327.2 344.1,1326.5 345.0,1326.4 345.9,1332.0 346.9,1330.2 347.8,1331.5 348.7,1335.6 349.7,1335.8 350.6,1336.9 351.5,1339.8 352.5,1338.2 353.4,1342.6 354.3,1342.8 355.3,1343.2 356.2,1347.2 357.1,1349.9 358.1,1348.3 359.0,1351.8 359.9,1351.4 360.9,1354.5 361.8,1355.6 362.7,1354.3 363.6,1358.4 364.6,1358.7 365.5,1360.0 366.4,1362.0 367.3,1360.8 368.2,1364.0 369.2,1366.0 370.1,1361.9 371.1,1367.1 372.1,1363.8 373.0,1364.4 374.0,1361.9 375.0,1366.1 375.9,1363.0 376.9,1367.6 377.9,1362.8 378.9,1364.3 379.9,1362.4 380.9,1363.2 381.9,1359.4 382.8,1358.6 383.8,1361.8 384.8,1361.1 385.8,1359.1 386.8,1360.8 387.8,1355.4 388.8,1359.4 389.8,1354.1 390.8,1359.2 391.7,1356.3 392.7,1355.7 393.7,1357.8 394.7,1356.0 395.7,1355.5 396.6,1351.2 397.6,1354.1 398.5,1353.0 399.4,1354.5 400.3,1355.4 401.2,1360.3 402.2,1356.3 403.1,1358.1 404.0,1360.1 404.9,1363.2 405.9,1364.7 406.8,1363.8 407.8,1360.9 408.7,1363.7 409.7,1365.3 410.6,1361.2 411.6,1366.1 412.5,1364.3 413.5,1366.4 414.5,1367.5 415.4,1367.9 416.4,1367.4 417.3,1368.1 418.3,1365.9 419.2,1368.6 420.2,1366.3 421.1,1369.4 422.1,1370.3 423.0,1372.5 423.9,1370.2 424.8,1367.9 425.8,1372.1 426.7,1370.1 427.6,1374.5 428.5,1372.4 429.4,1372.8 430.4,1377.1 431.3,1373.8 432.2,1374.0 433.2,1374.4 434.1,1375.9 435.0,1373.5 436.0,1377.3 436.9,1380.5 437.8,1378.3 438.8,1380.1 439.7,1382.0 440.6,1381.7 441.6,1381.4 442.5,1382.4 443.4,1383.0 444.4,1379.8 445.3,1382.0 446.2,1381.8 447.1,1381.9 448.1,1384.6 449.0,1383.6 449.9,1386.2 450.8,1386.6 451.8,1384.2 452.7,1387.0 453.6,1387.3 454.5,1390.0 455.5,1386.9 456.4,1388.2 457.3,1391.0 458.2,1391.1 459.1,1393.5 460.1,1392.2 461.0,1392.0 461.9,1397.4 462.9,1393.8 463.8,1393.9 464.7,1395.5 465.6,1396.4 466.6,1396.2 467.5,1398.8 468.4,1402.0 469.3,1397.2 470.2,1399.7 471.2,1402.0 472.1,1404.0 473.0,1405.4 473.9,1400.0 474.9,1403.3 475.8,1406.2 476.7,1401.1 477.7,1405.3 478.6,1403.0 479.5,1407.6 480.5,1409.4 481.4,1407.2 482.3,1404.1 483.3,1405.0 484.2,1408.0 485.1,1411.5 486.1,1407.8 487.0,1411.4 487.9,1410.1 488.9,1409.7 489.8,1413.3 490.7,1411.1 491.6,1412.1 492.6,1415.4 493.5,1414.1 494.4,1416.6 495.3,1415.3 496.2,1413.4 497.2,1415.9 498.1,1419.5 499.0,1417.8 500.0,1421.2 500.9,1414.7 501.8,1417.6 502.7,1421.2 503.6,1421.1 504.6,1420.6 505.5,1421.9 506.4,1423.9 507.4,1422.9 508.3,1422.4 509.2,1423.0 510.1,1424.1 511.1,1421.9 512.0,1424.9 512.9,1424.9 513.9,1426.6 514.8,1424.5 515.7,1421.4 516.7,1425.7 517.6,1428.6 518.5,1427.2 519.5,1427.6 520.4,1426.1 521.3,1426.3 522.2,1429.5 523.2,1425.1 524.1,1431.5 525.0,1432.0 526.0,1433.1 526.9,1427.5 527.8,1427.8 528.7,1434.0 529.6,1430.8 530.6,1430.4 531.5,1431.6 532.4,1434.1 533.4,1431.0 534.3,1433.8 535.2,1435.5 536.1,1436.5 537.0,1431.7 538.0,1438.1 538.9,1435.7 539.8,1436.2 540.8,1437.7 541.7,1435.9 542.6,1441.3 543.5,1435.9 544.5,1438.8 545.4,1435.8 546.3,1439.8 547.3,1442.6 548.2,1442.6 549.1,1436.1 550.1,1440.7 551.0,1443.3 551.9,1437.2 552.9,1439.3 553.8,1442.2 554.7,1442.7 555.7,1440.3 556.6,1442.2 557.5,1442.7 558.5,1440.1 559.4,1443.0 560.3,1442.6 561.3,1443.9 562.2,1442.4 563.1,1441.1 564.1,1442.2 565.0,1446.9 566.0,1440.3 566.9,1440.1 567.9,1439.0 568.8,1446.9 569.8,1448.4 570.7,1441.5 571.7,1441.9 572.6,1441.4 573.6,1445.4 574.5,1444.5 575.5,1447.8 576.5,1442.2 577.4,1448.6 578.4,1444.9 579.3,1448.3 580.3,1448.4 581.2,1449.6 582.2,1445.9 583.1,1447.1 584.1,1446.8 585.1,1443.5 586.0,1446.6 587.0,1450.7 588.0,1450.7 588.9,1442.8 589.9,1448.9 590.8,1446.0 591.8,1444.4 592.8,1444.6 593.7,1450.8 594.7,1452.5 595.7,1448.7 596.6,1447.6 597.6,1449.0 598.6,1452.1 599.5,1451.5 600.5,1445.5 601.5,1447.0 602.4,1453.2 603.4,1450.0 604.3,1451.7 605.3,1452.9 606.3,1451.9 607.2,1452.9 608.2,1451.4 609.2,1448.8 610.1,1448.7 611.1,1456.1 612.1,1447.6 613.0,1453.9 614.0,1455.8 615.0,1450.3 615.9,1448.9 616.9,1452.3 617.9,1451.9 618.8,1453.3 619.8,1453.2 620.8,1458.0 621.8,1451.0 622.7,1458.5 623.7,1450.8 624.7,1458.9 625.6,1453.8 626.6,1457.6 627.6,1451.4 628.5,1455.6 629.5,1457.9 630.5,1457.7 631.4,1459.6 632.4,1453.8 633.4,1456.2 634.3,1458.3 635.3,1453.1 636.3,1460.7 637.2,1457.0 638.2,1455.5 639.1,1455.4 640.1,1459.6 641.1,1454.0 642.0,1456.0 643.0,1456.8 644.0,1456.5 644.9,1461.1 645.9,1460.0 646.9,1463.1 647.8,1461.3 648.8,1457.6 649.8,1458.0 650.7,1456.2 651.7,1457.5 652.6,1461.1 653.6,1462.5 654.6,1458.4 655.5,1459.0 656.5,1463.7 657.5,1465.3 658.4,1456.8 659.4,1456.8 660.4,1463.6 661.3,1461.1 662.3,1460.5 663.2,1462.7 664.2,1464.1 665.2,1457.3 666.1,1466.3 667.1,1466.3 668.1,1461.0 669.0,1461.6 670.0,1459.8 671.0,1463.0 671.9,1459.3 672.9,1462.7 673.9,1466.5 674.8,1462.6 675.8,1465.9 676.7,1459.5 677.7,1466.7 678.7,1459.0 679.6,1460.0 680.6,1465.4 681.6,1461.0 682.5,1459.1 683.5,1458.7 684.5,1466.1 685.4,1457.9 686.4,1458.2 687.3,1467.7 688.3,1465.9 689.3,1461.5 690.2,1459.6 691.2,1466.8 692.2,1465.9 693.1,1464.6 694.1,1463.1 695.1,1463.0 696.0,1467.8 697.0,1462.9 698.0,1458.2 698.9,1458.1 699.9,1463.6 700.8,1465.1 701.8,1464.0 702.8,1465.2 703.7,1460.3 704.7,1461.1 705.7,1460.0 706.6,1461.2 707.6,1460.1 708.6,1466.2 709.5,1458.8 710.5,1459.5 711.4,1465.0 712.4,1461.6 713.4,1461.0 714.3,1467.8 715.3,1467.0 716.3,1459.8 717.2,1459.1 718.2,1462.8 719.2,1463.7 720.1,1461.2 721.1,1463.9 722.1,1464.8 723.0,1466.3 724.0,1460.2 724.9,1464.6 725.9,1458.3 726.9,1458.4 727.8,1458.3 728.8,1459.0 729.8,1466.0 730.7,1461.6 731.7,1462.9 732.7,1462.4 733.6,1459.8 734.6,1458.0 735.6,1459.4 736.5,1466.5 737.5,1461.0 738.5,1461.8 739.4,1460.1 740.4,1465.1 741.4,1464.6 742.4,1461.2 743.3,1462.4 744.3,1461.2 745.3,1463.1 746.2,1463.2 747.2,1463.0 748.2,1466.3 749.1,1466.7 750.1,1457.5 751.1,1460.8 752.0,1457.3 753.0,1460.6 754.0,1464.8 754.9,1463.4 755.9,1462.1 756.9,1457.3 757.8,1464.2 758.8,1462.1 759.7,1459.0 760.7,1463.4 761.7,1456.2 762.6,1457.4 763.6,1463.0 764.6,1455.8 765.5,1456.5 766.5,1459.8 767.5,1461.7 768.4,1460.4 769.4,1455.0 770.4,1457.1 771.3,1461.1 772.3,1457.5 773.2,1455.8 774.2,1453.8 775.2,1456.2 776.1,1462.6 777.1,1453.7 778.1,1458.7 779.1,1462.2 780.1,1460.1 781.1,1455.8 782.1,1459.5 783.1,1453.9 784.1,1457.8 785.1,1455.3 786.1,1461.7 787.1,1461.5 788.1,1460.4 789.0,1456.3 790.0,1460.6 791.0,1462.5 792.0,1456.1 793.0,1457.6 794.0,1453.8 795.0,1453.3 796.0,1459.4 797.0,1452.8 798.0,1458.1 799.0,1453.3 800.0,1458.6 801.0,1459.2 802.0,1460.6 802.9,1455.3 803.9,1455.0 804.9,1454.9 805.9,1457.4 806.9,1457.9 807.8,1451.7 808.8,1453.3 809.8,1450.7 810.8,1452.0 811.7,1456.1 812.7,1457.7 813.7,1457.8 814.7,1449.7 815.7,1452.3 816.6,1456.0 817.6,1452.7 818.6,1451.1 819.6,1454.3 820.5,1454.6 821.5,1448.4 822.5,1451.0 823.5,1447.6 824.4,1447.5 825.4,1449.9 826.4,1447.3 827.4,1451.3 828.3,1447.4 829.3,1445.6 830.3,1448.7 831.3,1445.5 832.2,1443.5 833.2,1450.5 834.2,1443.6 835.2,1442.8 836.1,1445.2 837.1,1441.0 838.1,1447.1 839.1,1440.9 840.0,1440.3 841.0,1447.7 842.0,1443.7 843.0,1446.8 844.0,1446.3 844.9,1444.6 845.9,1438.4 846.9,1443.3 847.9,1438.1 848.8,1437.3 849.8,1444.1 850.8,1439.2 851.8,1442.7 852.8,1440.5 853.7,1442.4 854.7,1440.9 855.7,1443.5 856.7,1438.9 857.6,1442.0 858.6,1441.4 859.6,1439.2 860.6,1438.2 861.5,1437.3 862.5,1438.9 863.5,1434.8 864.5,1436.6 865.4,1438.2 866.4,1435.0 867.4,1434.0 868.4,1432.9 869.3,1438.4 870.3,1438.7 871.3,1438.1 872.3,1436.8 873.2,1435.7 874.2,1431.4 875.2,1436.7 876.2,1433.1 877.2,1433.8 878.2,1429.2 879.2,1432.7 880.2,1428.0 881.2,1432.6 882.1,1430.2 883.1,1428.3 884.1,1428.5 885.1,1424.8 886.1,1426.0 887.1,1422.3 888.1,1422.9 889.1,1422.6 890.1,1421.4 891.1,1423.1 892.1,1419.9 893.1,1419.3 894.1,1421.5 895.0,1426.8 896.0,1424.3 897.0,1421.5 898.0,1419.4 899.0,1418.5 900.0,1420.7 901.0,1422.3 902.0,1423.4 903.0,1420.0 904.0,1422.4 905.0,1421.6 906.0,1421.3 907.0,1416.9 908.0,1417.4 909.0,1414.6 910.0,1417.2 911.0,1412.6 912.0,1415.3 913.0,1412.4 914.0,1414.3 915.0,1411.3 916.0,1409.3 917.0,1412.6 917.9,1412.5 918.9,1413.4 919.9,1409.5 920.8,1412.8 921.8,1410.8 922.7,1408.5 923.7,1411.6 924.7,1414.0 925.6,1410.3 926.6,1414.2 927.5,1414.8 928.5,1407.1 929.5,1409.0 930.4,1409.5 931.4,1412.4 932.4,1411.3 933.3,1412.0 934.3,1407.0 935.2,1409.0 936.2,1407.6 937.2,1413.2 938.1,1412.5 939.1,1408.7 940.1,1414.1 941.1,1406.8 942.0,1405.5 943.0,1408.8 944.0,1411.5 945.0,1414.0 946.0,1409.7 946.9,1405.9 947.9,1410.2 948.9,1404.5 949.9,1412.0 950.8,1407.1 951.8,1404.9 952.8,1405.2 953.8,1411.5 954.8,1412.1 955.7,1405.1 956.7,1412.7 957.7,1411.2 958.7,1406.0 959.7,1403.2 960.7,1404.0 961.7,1406.5 962.7,1404.2 963.7,1403.8 964.7,1404.5 965.6,1410.0 966.6,1401.9 967.6,1410.1 968.6,1405.5 969.6,1408.1 970.6,1405.8 971.6,1409.7 972.6,1402.3 973.6,1402.9 974.6,1405.1 975.6,1404.9 976.6,1403.1 977.6,1402.7 978.5,1400.5 979.5,1404.2 980.5,1407.2 981.5,1407.3 982.5,1402.9 983.5,1408.1 984.5,1407.8 985.5,1401.5 986.5,1399.4 987.4,1406.2 988.4,1407.1 989.4,1404.1 990.3,1407.1 991.3,1402.2 992.3,1402.5 993.2,1398.1 994.2,1400.8 995.2,1406.0 996.1,1398.0 997.1,1398.2 998.1,1397.1 999.0,1401.4 1000.0,1402.3 1001.0,1401.4 1001.9,1404.6 1002.9,1402.5 1003.8,1401.9 1004.8,1401.4 1005.8,1400.3 1006.7,1396.1 1007.7,1396.2 1008.6,1401.1 1009.6,1396.9 1010.6,1398.6 1011.5,1400.6 1012.5,1400.0 1013.4,1396.5 1014.4,1396.5 1015.4,1395.1 1016.3,1400.0 1017.3,1400.4 1018.2,1394.5 1019.2,1395.7 1020.2,1394.6 1021.2,1399.2 1022.2,1396.2 1023.2,1402.0 1024.2,1396.1 1025.2,1399.9 1026.2,1400.0 1027.2,1403.1 1028.2,1401.0 1029.2,1403.2 1030.2,1399.8 1031.2,1394.1 1032.2,1397.5 1033.2,1401.7 1034.2,1397.8 1035.2,1401.1 1036.2,1395.8 1037.2,1401.2 1038.2,1398.7 1039.2,1404.4 1040.2,1395.7 1041.2,1398.7 1042.2,1402.9 1043.2,1399.2 1044.2,1400.0 1045.2,1398.8 1046.2,1396.6 1047.2,1398.9 1048.2,1404.6 1049.2,1403.6 1050.1,1399.1 1051.1,1402.8 1052.1,1404.2 1053.1,1404.3 1054.1,1396.9 1055.1,1398.1 1056.1,1406.2 1057.1,1399.5 1058.1,1404.6 1059.1,1403.2 1060.1,1405.7 1061.1,1397.4 1062.1,1406.2 1063.1,1405.6 1064.1,1398.9 1065.1,1403.8 1066.1,1396.4 1067.1,1405.3 1068.1,1400.6 1069.0,1403.9 1070.0,1404.4 1071.0,1396.3 1072.0,1405.1 1073.0,1397.5 1074.0,1398.2 1075.0,1400.7 1076.0,1399.2 1077.0,1402.1 1078.0,1398.8 1079.0,1401.7 1080.0,1401.2 1081.0,1401.0 1082.0,1396.2 1083.0,1394.3 1084.0,1394.5 1085.0,1393.5 1086.0,1393.4 1087.0,1390.4 1088.0,1391.2 1089.0,1392.0 1090.0,1395.6 1091.0,1396.7 1092.0,1395.0 1093.0,1397.8 1094.0,1398.4 1095.0,1401.9 1096.0,1401.3 1097.0,1399.8 1098.0,1402.5 1099.0,1403.6 1100.0,1401.2 1101.0,1405.6 1102.0,1399.0 1103.0,1398.6 1104.0,1405.1 1105.0,1403.8 1106.0,1405.7 1107.0,1407.6 1107.9,1403.6 1108.9,1406.7 1109.9,1405.2 1110.9,1404.0 1111.9,1404.1 1112.9,1409.0 1113.9,1402.8 1114.9,1403.7 1115.9,1404.3 1116.9,1406.0 1117.9,1400.4 1118.9,1406.4 1119.9,1400.2 1120.9,1403.5 1121.9,1404.0 1122.9,1405.2 1123.9,1405.1 1124.9,1405.3 1125.9,1399.4 1126.9,1402.4 1127.9,1406.4 1128.9,1403.1 1129.9,1407.1 1130.9,1404.1 1131.9,1404.3 1132.9,1405.3 1133.9,1408.2 1134.9,1398.4 1135.9,1399.4 1136.9,1399.0 1137.9,1400.1 1138.9,1398.1 1139.9,1407.6 1140.8,1399.2 1141.8,1402.3 1142.7,1406.2 1143.7,1402.1 1144.7,1399.7 1145.6,1400.1 1146.6,1401.3 1147.5,1400.0 1148.5,1401.5 1149.5,1400.8 1150.4,1397.5 1151.4,1405.2 1152.3,1406.0 1153.3,1401.9 1154.2,1397.1 1155.2,1405.2 1156.2,1399.5 1157.1,1399.6 1158.1,1398.2 1159.0,1405.0 1160.0,1402.5 1161.0,1398.4 1162.0,1399.1 1163.0,1399.7 1164.0,1399.3 1165.0,1402.4 1166.0,1405.4 1167.0,1395.6 1168.0,1404.4 1169.0,1404.4 1170.0,1397.5 1171.0,1405.8 1172.0,1404.7 1173.0,1403.1 1174.0,1396.4 1175.0,1400.1 1176.0,1403.5 1177.0,1401.3 1178.0,1395.9 1179.0,1403.6 1180.0,1399.7 1180.9,1397.7 1181.9,1399.1 1182.9,1396.4 1183.9,1399.2 1184.9,1395.5 1185.9,1406.2 1186.9,1396.8 1187.9,1399.0 1188.9,1398.6 1189.9,1400.4 1190.9,1399.1 1191.9,1405.0 1192.9,1397.4 1193.9,1406.2 1194.9,1399.7 1195.9,1406.0 1196.9,1399.1 1197.9,1396.4 1198.9,1404.4 1199.9,1397.3 1200.9,1403.5 1201.9,1405.0 1202.9,1398.2 1203.9,1399.3 1204.9,1401.9 1205.9,1405.1 1206.9,1405.1 1207.9,1401.3 1208.9,1402.2 1209.9,1404.7 1210.9,1398.2 1211.9,1406.2 1212.9,1405.6 1213.9,1399.2 1214.9,1403.3 1215.9,1404.4 1216.9,1403.6 1217.9,1397.8 1218.9,1397.8 1219.8,1399.5 1220.8,1398.4 1221.8,1402.3 1222.8,1405.0 1223.8,1403.4 1224.8,1406.9 1225.8,1402.7 1226.8,1402.3 1227.8,1399.1 1228.8,1407.7 1229.8,1404.8 1230.8,1408.1 1231.8,1407.7 1232.8,1399.0 1233.8,1404.4 1234.8,1403.3 1235.8,1406.1 1236.8,1399.0 1237.8,1405.3 1238.8,1404.8 1239.8,1402.5 1240.8,1399.9 1241.8,1405.3 1242.8,1398.9 1243.8,1401.6 1244.8,1398.5 1245.8,1401.1 1246.8,1400.4 1247.8,1403.8 1248.8,1404.3 1249.8,1404.3 1250.7,1401.3 1251.7,1404.5 1252.7,1403.5 1253.7,1402.1 1254.7,1404.3 1255.7,1406.0 1256.7,1401.1 1257.7,1405.6 1258.7,1402.2 1259.7,1399.8 1260.7,1400.9 1261.7,1402.8 1262.7,1399.7 1263.7,1405.6 1264.7,1400.8 1265.7,1403.2 1266.7,1405.6 1267.7,1405.5 1268.7,1404.3 1269.7,1404.8 1270.7,1405.4 1271.7,1404.0 1272.7,1402.8 1273.7,1407.3 1274.7,1400.7 1275.7,1400.6 1276.7,1402.5 1277.7,1401.9 1278.7,1409.0 1279.7,1405.1 1280.7,1408.6 1281.7,1405.6 1282.7,1402.6 1283.7,1409.0 1284.7,1409.2 1285.7,1402.1 1286.7,1408.4 1287.7,1406.7 1288.7,1403.1 1289.7,1404.7 1290.6,1408.7 1291.6,1403.6 1292.6,1407.8 1293.6,1407.2 1294.6,1407.4 1295.6,1404.1 1296.6,1410.6 1297.6,1407.9 1298.6,1409.6 1299.6,1409.1 1300.6,1405.9 1301.6,1410.3 1302.6,1406.7 1303.6,1412.3 1304.6,1407.3 1305.6,1404.5 1306.6,1407.4 1307.6,1406.6 1308.6,1412.7 1309.6,1405.8 1310.6,1411.8 1311.6,1403.0 1312.6,1404.2 1313.6,1405.8 1314.6,1410.1 1315.6,1408.7 1316.6,1406.7 1317.6,1406.3 1318.6,1409.6 1319.6,1403.9 1320.6,1408.3 1321.6,1404.5 1322.6,1406.7 1323.6,1407.2 1324.5,1403.8 1325.5,1401.5 1326.5,1401.5 1327.5,1401.1 1328.5,1399.5 1329.5,1401.8 1330.5,1403.3 1331.5,1400.7 1332.5,1405.2 1333.5,1404.7 1334.5,1403.5 1335.5,1403.8 1336.5,1399.7 1337.5,1403.9 1338.5,1397.5 1339.5,1397.3 1340.5,1397.8 1341.5,1400.4 1342.5,1404.4 1343.5,1397.9 1344.5,1401.4 1345.5,1403.6 1346.5,1406.2 1347.4,1403.6 1348.4,1400.7 1349.4,1399.3 1350.4,1403.5 1351.4,1406.5 1352.4,1406.9 1353.4,1405.0 1354.4,1401.0 1355.4,1400.1 1356.4,1400.0 1357.4,1402.3 1358.4,1405.0 1359.4,1401.5 1360.4,1405.7 1361.4,1402.7 1362.4,1406.9 1363.4,1404.3 1364.4,1406.3 1365.4,1401.4 1366.4,1404.1 1367.4,1406.8 1368.4,1398.6 1369.4,1406.8 1370.4,1403.5 1371.4,1407.0 1372.4,1400.3 1373.4,1402.0 1374.4,1403.6 1375.4,1402.6 1376.4,1402.6 1377.4,1404.7 1378.4,1398.0 1379.4,1402.9 1380.4,1400.6 1381.4,1405.1 1382.4,1405.7 1383.4,1401.2 1384.4,1400.6 1385.4,1405.8 1386.4,1406.4 1387.4,1405.0 1388.4,1406.4 1389.3,1407.0 1390.3,1402.9 1391.3,1401.9 1392.3,1399.3 1393.3,1403.1 1394.3,1401.2 1395.3,1406.2 1396.3,1405.3 1397.3,1408.6 1398.3,1406.4 1399.3,1402.4 1400.3,1403.6 1401.3,1404.9 1402.3,1405.3 1403.3,1409.5 1404.3,1406.4 1405.3,1403.3 1406.3,1402.8 1407.3,1406.0 1408.3,1400.9 1409.3,1404.9 1410.3,1409.5 1411.3,1409.8 1412.3,1406.1 1413.3,1406.0 1414.3,1403.8 1415.3,1406.5 1416.3,1405.2 1417.3,1407.3 1418.3,1410.5 1419.2,1408.5 1420.2,1402.1 1421.2,1402.5 1422.2,1407.9 1423.2,1411.0 1424.2,1407.1 1425.2,1409.6 1426.2,1403.8 1427.2,1403.5 1428.2,1411.3 1429.2,1410.3 1430.2,1405.8 1431.2,1409.7 1432.2,1407.9 1433.2,1409.4 1434.2,1407.5 1435.2,1408.5 1436.2,1411.3 1437.2,1406.0 1438.2,1409.3 1439.2,1411.7 1440.2,1401.9 1441.2,1404.2 1442.2,1405.4 1443.2,1407.7 1444.2,1406.4 1445.2,1411.7 1446.2,1403.7 1447.2,1404.9 1448.2,1402.5 1449.2,1403.6 1450.2,1408.1 1451.2,1402.3 1452.2,1411.9 1453.2,1409.9 1454.2,1402.7 1455.2,1410.3 1456.2,1403.2 1457.2,1407.4 1458.2,1404.2 1459.2,1403.8 1460.1,1407.7 1461.1,1411.5 1462.1,1402.9 1463.1,1404.3 1464.1,1407.3 1465.1,1412.3 1466.1,1406.0 1467.1,1411.5 1468.1,1408.0 1469.1,1407.0 1470.1,1410.4 1471.1,1404.3 1472.1,1407.9 1473.1,1402.7 1474.1,1407.9 1475.1,1412.9 1476.1,1403.3 1477.1,1403.6 1478.1,1408.5 1479.1,1412.2 1480.1,1408.2 1481.1,1412.1 1482.1,1405.6 1483.1,1412.0 1484.1,1404.2 1485.1,1409.5 1486.1,1405.2 1487.1,1409.8 1488.1,1402.0 1489.0,1404.5 1490.0,1410.2 1491.0,1408.6 1492.0,1405.7 1493.0,1404.5 1494.0,1409.8 1495.0,1402.5 1496.0,1402.3 1497.0,1401.0 1498.0,1406.5 1499.0,1408.7 1500.0,1401.2 1501.0,1406.8 1502.0,1406.6 1503.0,1401.2 1504.0,1404.0 1505.0,1404.2 1506.0,1399.3 1506.9,1407.2 1507.9,1399.6 1508.9,1399.5 1509.9,1404.4 1510.9,1402.3 1511.9,1404.7 1512.9,1403.2 1513.9,1398.0 1514.9,1401.1 1515.9,1405.7 1516.9,1399.3 1517.9,1398.0 1518.9,1404.3 1519.9,1396.7 1520.8,1399.5 1521.8,1404.5 1522.8,1403.0 1523.8,1396.8 1524.8,1396.4 1525.8,1399.3 1526.8,1400.3 1527.8,1400.6 1528.6,1396.8 1529.5,1397.1 1530.3,1396.4 1531.2,1395.1 1532.0,1395.6 1532.6,1392.4 1533.2,1389.3 1533.8,1387.6 1534.4,1383.6 1535.0,1381.7 1535.6,1379.4 1536.2,1375.6 1537.0,1377.6 1537.7,1380.2 1538.5,1385.2 1539.2,1388.2 1540.0,1390.7 1541.0,1389.6 1541.9,1391.7 1542.9,1395.6 1543.9,1395.4 1544.8,1396.2 1545.8,1400.1 1546.8,1401.7 1547.7,1398.9 1548.7,1403.1 1549.7,1403.9 1550.6,1404.4 1551.6,1405.1 1552.6,1404.1 1553.6,1399.2 1554.5,1401.1 1555.5,1400.4 1556.5,1403.8 1557.4,1403.3 1558.4,1406.2 1559.3,1400.5 1560.2,1398.8 1561.2,1397.3 1562.1,1397.3 1563.0,1400.1 1564.0,1397.1 1564.9,1393.8 1565.8,1393.9 1566.8,1392.7 1567.6,1392.4 1568.5,1392.3 1569.3,1396.5 1570.2,1397.1 1571.0,1396.2 1572.0,1399.9 1573.0,1400.1 1574.0,1403.2 1575.0,1406.5 1576.0,1407.8 1577.0,1408.3 1578.0,1412.3 1578.9,1410.4 1579.8,1413.1 1580.8,1411.9 1581.7,1414.4 1582.6,1414.8 1583.5,1415.6 1584.5,1417.9 1585.4,1418.4 1586.3,1420.2 1587.2,1414.6 1588.2,1419.1 1589.1,1416.4 1590.0,1412.3 1590.9,1410.7 1591.8,1411.7 1592.8,1412.6 1593.7,1413.4 1594.6,1414.6 1595.6,1413.7 1596.5,1413.8 1597.4,1412.9 1598.4,1412.6 1599.4,1413.2 1600.4,1411.2 1601.4,1406.1 1602.4,1409.2 1603.4,1407.9 1604.3,1409.5 1605.3,1405.9 1606.3,1411.1 1607.3,1405.2 1608.3,1406.4 1609.3,1403.6 1610.3,1409.9 1611.3,1409.5 1612.3,1409.8 1613.3,1403.0 1614.3,1403.9 1615.3,1409.1 1616.3,1408.7 1617.3,1401.4 1618.2,1404.5 1619.2,1400.5 1620.2,1407.7 1621.2,1407.7 1622.2,1408.4 1623.2,1407.1 1624.2,1403.2 1625.2,1402.6 1626.2,1405.2 1627.2,1402.8 1628.2,1407.7 1629.2,1402.9 1630.2,1402.7 1631.2,1407.4 1632.1,1400.5 1633.1,1401.0 1634.1,1398.4 1635.1,1406.4 1636.1,1402.4 1637.1,1401.5 1638.1,1405.6 1639.1,1405.6 1640.1,1398.8 1641.0,1397.8 1642.0,1404.8 1643.0,1405.3 1644.0,1401.3 1644.9,1402.8 1645.9,1396.0 1646.9,1400.3 1647.9,1396.2 1648.8,1396.5 1649.8,1395.6 1650.8,1400.0 1651.8,1400.3 1652.7,1398.7 1653.7,1401.3 1654.7,1395.2 1655.7,1396.8 1656.7,1396.3 1657.6,1399.7 1658.6,1402.6 1659.6,1396.6 1660.6,1403.9 1661.6,1398.5 1662.6,1397.1 1663.5,1397.7 1664.5,1403.0 1665.5,1395.5 1666.5,1399.8 1667.5,1398.5 1668.5,1401.0 1669.4,1399.7 1670.4,1396.8 1671.4,1397.5 1672.4,1405.7 1673.4,1401.8 1674.4,1405.5 1675.3,1406.0 1676.3,1402.5 1677.3,1405.8 1678.3,1400.9 1679.3,1399.6 1680.3,1404.6 1681.3,1399.7 1682.2,1398.9 1683.2,1401.0 1684.2,1400.1 1685.2,1405.6 1686.2,1404.9 1687.2,1403.0 1688.1,1404.6 1689.1,1398.1 1690.1,1398.1 1691.1,1398.9 1692.1,1401.3 1693.1,1395.5 1694.0,1396.1 1695.0,1397.5 1696.0,1395.9 1697.0,1397.3 1698.0,1395.7 1699.0,1397.5 1699.9,1398.8 1700.9,1399.9 1701.9,1402.5 1702.9,1397.0 1703.9,1398.0 1704.9,1403.1 1705.9,1394.1 1706.8,1399.3 1707.8,1395.1 1708.8,1393.9 1709.8,1403.4 1710.8,1401.0 1711.8,1398.8 1712.7,1402.6 1713.7,1404.2 1714.7,1400.1 1715.7,1398.7 1716.7,1393.7 1717.7,1404.1 1718.6,1402.2 1719.6,1394.9 1720.6,1398.6 1721.6,1396.5 1722.6,1403.8 1723.6,1397.2 1724.5,1395.7 1725.5,1403.0 1726.5,1397.4 1727.5,1395.8 1728.5,1395.6 1729.5,1397.0 1730.4,1399.8 1731.4,1398.6 1732.4,1402.6 1733.4,1404.7 1734.4,1399.0 1735.3,1398.6 1736.3,1404.6 1737.3,1404.3 1738.3,1405.3 1739.3,1399.1 1740.3,1403.0 1741.2,1399.4 1742.2,1398.2 1743.2,1399.1 1744.2,1402.2 1745.2,1401.4 1746.2,1401.1 1747.2,1396.1 1748.2,1397.2 1749.1,1394.5 1750.1,1394.3 1751.1,1399.0 1752.1,1392.3 1753.1,1399.3 1754.1,1399.9 1755.1,1395.3 1756.0,1396.9 1757.0,1400.5 1758.0,1398.3 1759.0,1399.2 1760.0,1398.8 1761.0,1392.0 1761.9,1399.4 1762.9,1398.6 1763.9,1395.1 1764.9,1392.3 1765.9,1395.5 1766.9,1397.6 1767.8,1395.7 1768.8,1398.0 1769.8,1396.3 1770.8,1399.4 1771.8,1401.9 1772.8,1392.7 1773.7,1398.9 1774.7,1401.0 1775.7,1393.0 1776.7,1397.6 1777.7,1401.2 1778.7,1400.0 1779.6,1396.8 1780.6,1396.4 1781.6,1393.2 1782.6,1398.1 1783.6,1401.6 1784.6,1401.7 1785.5,1400.5 1786.5,1398.2 1787.5,1395.5 1788.5,1395.9 1789.5,1394.8 1790.4,1396.5 1791.4,1393.1 1792.4,1397.9 1793.4,1401.4 1794.4,1396.6 1795.4,1402.3 1796.3,1399.1 1797.3,1401.6 1798.3,1403.9 1799.3,1394.3 1800.3,1397.6 1801.2,1395.0 1802.2,1394.7 1803.2,1401.0 1804.2,1393.4 1805.2,1399.7 1806.2,1403.2 1807.1,1397.9 1808.1,1400.8 1809.1,1394.8 1810.1,1401.5 1811.1,1401.8 1812.1,1399.8 1813.0,1403.4 1814.0,1399.5 1815.0,1400.0 1816.0,1393.8 1817.0,1402.4 1817.9,1397.3 1818.9,1401.1 1819.9,1399.0 1820.9,1395.4 1821.9,1398.9 1822.9,1403.8 1823.8,1400.8 1824.8,1395.0 1825.8,1399.6 1826.8,1403.5 1827.8,1394.1 1828.8,1393.8 1829.7,1402.5 1830.7,1400.1 1831.7,1401.8 1832.7,1397.1 1833.7,1399.7 1834.7,1395.2 1835.6,1394.8 1836.6,1399.5 1837.6,1402.7 1838.6,1399.3 1839.6,1393.7 1840.6,1393.5 1841.5,1401.6 1842.5,1397.3 1843.5,1395.5 1844.5,1396.2 1845.5,1403.3 1846.5,1398.5 1847.4,1394.8 1848.4,1395.2 1849.4,1393.9 1850.4,1403.4 1851.4,1398.1 1852.4,1398.0 1853.4,1393.8 1854.3,1396.1 1855.3,1401.8 1856.3,1402.1 1857.3,1397.9 1858.3,1396.0 1859.3,1403.3 1860.2,1396.5 1861.2,1395.9 1862.2,1394.5 1863.2,1398.2 1864.2,1401.9 1865.2,1398.5 1866.1,1401.7 1867.1,1396.3 1868.1,1400.2 1869.1,1394.7 1870.1,1397.7 1871.1,1396.0 1872.0,1395.9 1873.0,1400.8 1874.0,1395.0 1875.0,1398.0 1876.0,1396.6 1877.0,1402.2 1877.9,1395.2 1878.9,1396.5 1879.9,1400.4 1880.9,1395.9 1881.9,1400.7 1882.9,1403.3 1883.8,1396.7 1884.8,1398.6 1885.8,1393.1 1886.8,1401.5 1887.8,1397.0 1888.7,1399.5 1889.7,1395.2 1890.7,1400.2 1891.7,1398.4 1892.7,1403.7 1893.7,1403.3 1894.6,1399.2 1895.6,1395.0 1896.6,1396.2 1897.6,1399.0 1898.6,1401.8 1899.5,1402.8 1900.5,1402.7 1901.5,1401.6 1902.5,1398.2 1903.5,1399.5 1904.5,1396.1 1905.4,1399.4 1906.4,1397.4 1907.4,1399.4 1908.4,1393.8 1909.4,1394.5 1910.4,1400.5 1911.3,1398.1 1912.3,1395.9 1913.3,1404.0 1914.3,1393.8 1915.3,1403.7 1916.2,1402.7 1917.2,1393.7 1918.2,1403.1 1919.2,1401.4 1920.2,1396.1 1921.2,1401.1 1922.1,1403.9 1923.1,1394.5 1924.1,1397.0 1925.1,1395.2 1926.1,1403.2 1927.1,1395.1 1928.0,1394.8 1929.0,1394.8 1930.0,1402.9 1931.0,1395.9 1932.0,1404.3 1933.0,1394.1 1933.9,1398.7 1934.9,1395.1 1935.9,1395.7 1936.9,1395.7 1937.9,1399.9 1938.9,1396.1 1939.8,1397.4 1940.8,1403.2 1941.8,1400.3 1942.8,1393.8 1943.8,1396.6 1944.8,1400.4 1945.7,1397.2 1946.7,1394.7 1947.7,1394.8 1948.7,1397.6 1949.7,1400.5 1950.7,1398.9 1951.7,1396.3 1952.6,1395.4 1953.6,1397.0 1954.6,1403.4 1955.6,1394.6 1956.6,1394.5 1957.6,1394.7 1958.5,1399.8 1959.5,1394.0 1960.5,1397.1 1961.5,1397.0 1962.5,1398.4 1963.5,1398.5 1964.4,1402.9 1965.4,1397.0 1966.4,1395.5 1967.4,1402.3 1968.4,1396.2 1969.4,1395.3 1970.3,1394.0 1971.3,1404.2 1972.3,1401.0 1973.3,1400.6 1974.3,1394.7 1975.3,1402.8 1976.3,1394.4 1977.2,1401.2 1978.2,1402.6 1979.2,1398.7 1980.2,1395.7 1981.2,1404.1 1982.2,1394.1 1983.1,1396.5 1984.1,1400.2 1985.1,1400.3 1986.1,1395.6 1987.1,1396.4 1988.1,1397.8 1989.0,1403.9 1990.0,1404.1 1991.0,1394.5 1992.0,1402.5 1993.0,1397.6 1994.0,1396.0 1994.9,1398.0 1995.9,1393.9 1996.9,1401.0 1997.9,1400.8 1998.9,1395.9 1999.9,1393.5 2000.9,1401.1 2001.8,1403.6 2002.8,1394.5 2003.8,1403.6 2004.8,1399.0 2005.8,1395.5 2006.8,1401.2 2007.7,1401.2 2008.7,1396.8 2009.7,1399.1 2010.7,1395.3 2011.7,1399.2 2012.7,1395.0 2013.6,1396.7 2014.6,1401.3 2015.6,1401.3 2016.6,1399.9 2017.6,1402.5 2018.6,1401.1 2019.5,1399.2 2020.5,1399.9 2021.5,1394.1 2022.5,1393.1 2023.5,1395.2 2024.5,1400.8 2025.4,1403.1 2026.4,1394.9 2027.4,1403.0 2028.4,1401.3 2029.4,1394.2 2030.4,1398.2 2031.3,1395.2 2032.3,1400.4 2033.3,1396.2 2034.3,1396.6 2035.3,1398.4 2036.2,1395.5 2037.2,1400.8 2038.2,1398.8 2039.2,1392.8 2040.2,1398.3 2041.2,1396.9 2042.1,1402.1 2043.1,1402.4 2044.1,1392.7 2045.1,1400.3 2046.1,1398.7 2047.0,1397.4 2048.0,1393.2 2049.0,1401.6 2050.0,1398.9 2051.0,1398.7 2052.0,1402.2 2052.9,1393.2 2053.9,1396.0 2054.9,1392.2 2055.9,1394.8 2056.9,1402.5 2057.9,1395.9 2058.8,1400.6 2059.8,1401.0 2060.8,1397.5 2061.8,1400.6 2062.8,1393.9 2063.7,1392.4 2064.7,1393.8 2065.7,1392.6 2066.7,1392.6 2067.7,1392.1 2068.7,1392.3 2069.6,1392.7 2070.6,1397.3 2071.6,1394.7 2072.6,1401.9 2073.5,1398.1 2074.5,1401.2 2075.5,1399.0 2076.5,1400.7 2077.4,1401.1 2078.4,1395.3 2079.4,1393.6 2080.4,1392.0 2081.3,1401.1 2082.3,1393.5 2083.3,1401.2 2084.3,1398.5 2085.2,1399.4 2086.2,1391.2 2087.2,1400.3 2088.2,1391.5 2089.1,1399.1 2090.1,1390.9 2091.1,1400.5 2092.1,1391.0 2093.0,1392.0 2094.0,1395.1" stroke="#0000ff" stroke-width="10" fill="none" stroke-linejoin="round" stroke-linecap="butt"/>
<path d="M326.0,1300.8 327.3,1302.1 328.7,1303.9 330.0,1311.5 331.4,1313.1 332.7,1309.5 334.0,1312.4 335.4,1317.3 336.7,1319.4 338.1,1318.9 339.5,1321.1 340.9,1325.0 342.2,1324.4 343.6,1329.5 345.0,1327.2 346.4,1328.2 347.8,1330.6 349.2,1332.1 350.6,1339.5 352.0,1340.6 353.4,1339.8 354.8,1341.5 356.2,1348.6 357.6,1347.8 359.0,1349.3 360.4,1352.0 361.8,1352.2 363.2,1353.2 364.6,1354.4 365.9,1355.8 367.3,1362.8 368.7,1360.8 370.1,1361.8 371.4,1363.8 372.7,1366.5 374.0,1361.4 375.3,1360.4 376.6,1367.1 377.9,1361.4 379.4,1368.1 380.9,1362.8 382.4,1366.9 383.8,1356.1 385.3,1354.5 386.8,1353.9 388.3,1362.0 389.8,1358.8 391.2,1357.3 392.7,1352.8 394.2,1350.5 395.7,1348.8 397.1,1358.0 398.5,1355.0 399.9,1361.7 401.2,1353.2 402.6,1362.9 404.0,1356.5 405.4,1366.1 406.8,1358.7 408.3,1360.0 409.8,1363.1 411.3,1365.2 412.8,1361.5 414.2,1369.1 415.7,1371.5 417.2,1362.8 418.7,1364.3 420.2,1372.7 421.6,1364.7 423.0,1373.2 424.4,1374.5 425.8,1376.5 427.1,1373.5 428.5,1371.1 429.9,1369.1 431.3,1371.4 432.7,1371.1 434.1,1376.5 435.5,1371.6 436.9,1380.7 438.3,1383.2 439.7,1374.8 441.1,1381.7 442.5,1384.4 443.9,1377.9 445.3,1386.4 446.7,1385.8 448.1,1387.0 449.4,1382.3 450.8,1388.5 452.2,1390.1 453.6,1391.7 455.0,1390.2 456.4,1386.4 457.8,1393.2 459.1,1391.0 460.5,1397.3 461.9,1392.7 463.3,1397.3 464.7,1397.7 466.1,1394.0 467.5,1401.3 468.9,1398.5 470.2,1400.9 471.6,1399.9 473.0,1397.2 474.4,1398.6 475.8,1403.9 477.2,1403.0 478.6,1403.8 480.0,1402.7 481.4,1408.2 482.8,1406.6 484.2,1408.9 485.6,1411.2 487.0,1415.1 488.4,1413.8 489.8,1413.7 491.2,1415.4 492.6,1410.6 493.9,1417.6 495.3,1412.1 496.7,1418.5 498.1,1413.4 499.5,1421.3 500.9,1416.0 502.3,1423.8 503.6,1423.5 505.0,1425.5 506.4,1424.7 507.8,1419.5 509.2,1418.3 510.6,1428.1 512.0,1418.2 513.4,1429.6 514.8,1420.3 516.2,1427.0 517.6,1426.3 519.0,1429.3 520.4,1422.3 521.8,1425.4 523.2,1429.9 524.6,1432.9 526.0,1431.3 527.3,1433.1 528.7,1427.8 530.1,1430.2 531.5,1434.5 532.9,1430.8 534.3,1437.8 535.7,1439.1 537.0,1429.5 538.4,1434.5 539.8,1432.7 541.2,1439.9 542.6,1443.7 544.0,1434.7 545.4,1435.6 546.8,1437.1 548.2,1439.4 549.6,1438.8 551.0,1439.4 552.4,1445.6 553.8,1436.7 555.2,1441.3 556.6,1435.5 558.0,1438.2 559.4,1440.4 560.8,1449.2 562.2,1447.1 563.6,1438.0 565.0,1450.1 566.5,1448.8 567.9,1449.9 569.4,1448.8 570.9,1437.7 572.3,1440.3 573.8,1437.7 575.3,1448.2 576.8,1450.3 578.2,1440.2 579.7,1447.0 581.2,1438.1 582.6,1444.1 584.1,1438.5 585.5,1440.8 586.9,1450.1 588.4,1454.4 589.8,1453.0 591.2,1451.3 592.6,1445.5 594.0,1441.6 595.4,1454.6 596.9,1453.5 598.3,1453.0 599.7,1444.2 601.1,1449.2 602.5,1445.8 603.9,1446.9 605.4,1453.8 606.8,1454.5 608.2,1447.4 609.6,1455.7 611.0,1446.6 612.5,1458.4 613.9,1452.8 615.3,1446.5 616.7,1448.8 618.2,1452.9 619.6,1450.2 621.0,1457.4 622.4,1456.0 623.9,1453.6 625.3,1459.5 626.7,1450.7 628.1,1451.1 629.6,1462.4 631.0,1454.4 632.4,1464.0 633.8,1464.7 635.2,1462.6 636.7,1450.1 638.1,1453.7 639.5,1463.9 640.9,1452.3 642.3,1466.6 643.7,1450.5 645.2,1465.8 646.6,1454.9 648.0,1459.1 649.4,1460.1 650.8,1451.9 652.2,1463.5 653.7,1462.9 655.1,1468.0 656.5,1457.0 657.9,1469.4 659.3,1452.7 660.8,1469.8 662.2,1469.6 663.6,1460.7 665.0,1469.7 666.4,1456.5 667.8,1459.8 669.3,1456.8 670.7,1470.5 672.1,1455.3 673.5,1454.1 674.9,1453.2 676.3,1465.4 677.8,1468.9 679.2,1460.1 680.6,1455.6 682.0,1471.6 683.4,1472.2 684.9,1454.0 686.3,1454.4 687.7,1467.2 689.1,1458.8 690.5,1453.8 691.9,1466.6 693.4,1471.8 694.8,1457.0 696.2,1466.0 697.6,1469.6 699.0,1465.4 700.4,1459.4 701.9,1466.0 703.3,1454.5 704.7,1470.1 706.1,1456.3 707.5,1456.4 709.0,1455.8 710.4,1470.7 711.8,1467.9 713.2,1455.5 714.6,1472.4 716.0,1465.5 717.5,1457.2 718.9,1459.6 720.3,1459.2 721.7,1456.1 723.1,1468.7 724.5,1468.8 726.0,1470.6 727.4,1460.8 728.8,1473.1 730.2,1467.1 731.6,1453.8 733.1,1454.9 734.5,1458.9 735.9,1465.2 737.3,1454.6 738.8,1463.8 740.2,1472.5 741.6,1467.3 743.0,1466.7 744.5,1456.8 745.9,1454.4 747.3,1464.5 748.7,1461.6 750.2,1467.4 751.6,1471.1 753.0,1460.5 754.4,1453.6 755.8,1466.9 757.3,1452.9 758.7,1454.9 760.1,1467.3 761.5,1468.8 762.9,1454.3 764.3,1455.2 765.8,1467.6 767.2,1461.9 768.6,1466.2 770.0,1466.0 771.4,1451.7 772.8,1462.5 774.3,1465.5 775.7,1462.6 777.1,1461.8 778.5,1455.7 780.0,1454.9 781.4,1461.9 782.8,1449.9 784.3,1463.9 785.7,1459.6 787.1,1449.0 788.5,1457.2 790.0,1454.5 791.4,1450.2 792.8,1460.9 794.3,1458.6 795.7,1466.0 797.1,1450.5 798.6,1459.3 800.0,1449.6 801.4,1464.2 802.9,1460.9 804.3,1461.3 805.7,1452.5 807.2,1460.9 808.6,1448.0 810.0,1450.0 811.4,1448.5 812.9,1449.7 814.3,1451.0 815.7,1447.1 817.2,1456.0 818.6,1456.8 820.0,1449.4 821.4,1454.3 822.9,1447.4 824.3,1451.4 825.7,1444.3 827.1,1455.0 828.6,1443.4 830.0,1447.0 831.4,1442.4 832.8,1441.5 834.3,1447.9 835.7,1451.8 837.1,1441.3 838.5,1448.9 840.0,1450.5 841.4,1444.7 842.8,1437.0 844.3,1440.3 845.7,1441.8 847.1,1439.3 848.5,1438.9 850.0,1441.9 851.4,1434.3 852.8,1443.8 854.3,1439.4 855.7,1433.4 857.1,1432.7 858.5,1435.0 860.0,1435.8 861.4,1444.7 862.8,1442.5 864.2,1437.6 865.7,1441.0 867.1,1437.6 868.5,1434.1 869.9,1431.3 871.4,1440.6 872.8,1431.3 874.2,1429.5 875.6,1437.6 877.0,1431.6 878.4,1434.2 879.8,1426.1 881.2,1433.3 882.5,1425.8 883.9,1424.9 885.3,1422.3 886.7,1420.5 888.1,1421.5 889.5,1419.5 890.9,1422.2 892.3,1421.2 893.7,1420.8 895.0,1422.3 896.4,1424.9 897.8,1416.4 899.2,1426.1 900.6,1416.8 902.0,1418.0 903.4,1423.1 904.8,1425.1 906.2,1414.1 907.6,1423.0 909.0,1412.7 910.4,1418.1 911.8,1415.4 913.2,1411.0 914.6,1413.0 916.0,1407.3 917.4,1413.3 918.9,1414.7 920.3,1413.7 921.8,1410.4 923.2,1408.8 924.7,1405.4 926.1,1409.5 927.5,1407.0 929.0,1406.1 930.4,1420.0 931.9,1419.3 933.3,1403.1 934.8,1405.0 936.2,1419.3 937.7,1402.1 939.1,1404.0 940.5,1418.7 942.0,1417.0 943.4,1404.7 944.8,1411.9 946.3,1407.6 947.7,1407.4 949.1,1401.0 950.5,1406.4 952.0,1416.4 953.4,1400.7 954.8,1401.4 956.3,1416.3 957.7,1415.1 959.2,1412.1 960.6,1409.9 962.1,1405.5 963.6,1404.6 965.0,1414.5 966.5,1414.5 967.9,1399.6 969.4,1411.2 970.9,1410.6 972.3,1400.1 973.8,1403.5 975.3,1412.2 976.7,1396.4 978.2,1408.4 979.6,1396.0 981.1,1410.5 982.6,1407.2 984.0,1395.7 985.5,1394.9 987.0,1397.2 988.4,1407.3 989.9,1408.2 991.3,1396.4 992.8,1404.3 994.2,1398.8 995.6,1409.5 997.1,1399.3 998.5,1395.4 1000.0,1399.1 1001.5,1408.4 1003.0,1394.7 1004.4,1405.3 1005.9,1394.7 1007.4,1403.4 1008.9,1406.8 1010.3,1404.4 1011.8,1394.9 1013.3,1406.7 1014.8,1405.7 1016.2,1404.6 1017.7,1406.3 1019.2,1396.9 1020.6,1406.4 1022.1,1391.0 1023.5,1401.0 1024.9,1391.8 1026.3,1397.9 1027.8,1390.3 1029.2,1405.5 1030.6,1394.3 1032.1,1402.9 1033.5,1399.9 1034.9,1406.2 1036.3,1391.0 1037.8,1404.3 1039.2,1405.2 1040.6,1392.9 1042.0,1404.1 1043.5,1396.2 1044.9,1396.0 1046.3,1406.0 1047.7,1392.0 1049.2,1398.4 1050.6,1394.5 1052.0,1406.4 1053.4,1403.7 1054.8,1395.2 1056.3,1394.4 1057.7,1396.5 1059.1,1397.2 1060.5,1409.5 1061.9,1394.7 1063.4,1407.3 1064.8,1391.8 1066.2,1392.8 1067.6,1409.2 1069.0,1407.8 1070.5,1402.2 1071.9,1404.4 1073.3,1404.7 1074.7,1406.3 1076.2,1402.4 1077.6,1401.6 1079.0,1402.3 1080.3,1401.2 1081.7,1393.6 1083.0,1396.3 1084.3,1390.4 1085.7,1393.3 1087.0,1387.3 1088.3,1389.3 1089.7,1391.3 1091.0,1396.8 1092.3,1393.9 1093.7,1395.8 1095.0,1405.2 1096.5,1406.1 1098.0,1405.9 1099.5,1398.8 1101.0,1397.6 1102.5,1406.3 1104.0,1400.0 1105.5,1406.7 1107.0,1400.5 1108.4,1395.7 1109.9,1407.5 1111.4,1402.5 1112.9,1401.7 1114.4,1396.6 1115.9,1403.8 1117.4,1412.4 1118.9,1412.5 1120.3,1407.9 1121.8,1407.7 1123.2,1405.4 1124.6,1396.8 1126.0,1409.2 1127.5,1404.7 1128.9,1412.5 1130.3,1409.0 1131.8,1394.7 1133.2,1406.0 1134.6,1396.0 1136.0,1395.6 1137.5,1397.2 1138.9,1394.7 1140.3,1400.4 1141.7,1401.7 1143.1,1404.8 1144.5,1400.1 1145.9,1395.4 1147.3,1403.6 1148.7,1395.1 1150.2,1407.0 1151.6,1395.6 1153.0,1404.4 1154.4,1394.3 1155.8,1392.4 1157.2,1392.2 1158.6,1408.9 1160.0,1405.4 1161.5,1397.7 1163.0,1407.7 1164.4,1409.8 1165.9,1403.4 1167.4,1393.4 1168.9,1408.5 1170.3,1410.5 1171.8,1406.9 1173.3,1409.4 1174.8,1405.5 1176.3,1394.0 1177.7,1392.5 1179.2,1390.1 1180.7,1392.5 1182.2,1397.1 1183.6,1409.4 1185.1,1396.5 1186.6,1411.3 1188.1,1403.7 1189.6,1407.6 1191.0,1408.0 1192.5,1409.7 1194.0,1394.3 1195.5,1390.6 1196.9,1408.8 1198.4,1410.0 1199.9,1392.3 1201.4,1392.9 1202.9,1393.4 1204.3,1400.0 1205.8,1394.0 1207.3,1407.0 1208.8,1406.2 1210.2,1402.6 1211.7,1407.0 1213.2,1408.3 1214.7,1403.2 1216.2,1410.4 1217.6,1394.0 1219.1,1409.1 1220.6,1411.4 1222.1,1405.5 1223.5,1408.0 1225.0,1405.2 1226.5,1412.4 1228.0,1407.8 1229.5,1410.0 1230.9,1406.1 1232.4,1412.0 1233.9,1398.7 1235.4,1398.4 1236.8,1399.7 1238.3,1399.9 1239.8,1395.1 1241.2,1409.7 1242.6,1407.7 1244.1,1409.9 1245.5,1395.7 1246.9,1400.5 1248.3,1408.3 1249.8,1407.0 1251.2,1409.6 1252.6,1403.6 1254.0,1409.9 1255.4,1407.7 1256.9,1396.8 1258.3,1408.6 1259.7,1408.6 1261.1,1399.7 1262.6,1394.6 1264.0,1403.2 1265.4,1409.3 1266.8,1406.8 1268.3,1410.5 1269.7,1408.9 1271.1,1398.9 1272.6,1404.9 1274.0,1401.6 1275.4,1399.2 1276.8,1399.5 1278.3,1397.3 1279.7,1410.2 1281.1,1407.0 1282.5,1400.5 1284.0,1412.2 1285.4,1399.5 1286.8,1407.3 1288.2,1409.5 1289.7,1400.1 1291.1,1412.8 1292.5,1415.0 1293.9,1412.8 1295.3,1406.1 1296.8,1414.0 1298.2,1416.6 1299.6,1414.9 1301.1,1400.3 1302.5,1417.2 1304.0,1416.2 1305.4,1409.2 1306.9,1410.5 1308.3,1416.3 1309.8,1399.4 1311.2,1411.2 1312.7,1402.0 1314.1,1410.2 1315.6,1404.8 1317.1,1410.2 1318.6,1410.7 1320.1,1399.8 1321.6,1399.5 1323.1,1405.5 1324.5,1408.2 1326.0,1406.9 1327.5,1396.6 1329.0,1407.1 1330.5,1406.3 1332.0,1398.6 1333.5,1399.1 1334.9,1404.6 1336.4,1397.8 1337.8,1400.5 1339.3,1393.9 1340.7,1408.0 1342.1,1404.9 1343.6,1398.8 1345.0,1404.0 1346.5,1410.7 1347.9,1408.6 1349.3,1396.2 1350.8,1408.5 1352.2,1398.7 1353.6,1405.7 1355.1,1397.5 1356.5,1412.4 1358.0,1396.5 1359.4,1412.2 1360.8,1406.2 1362.3,1403.7 1363.7,1408.9 1365.1,1408.0 1366.5,1411.5 1368.0,1402.0 1369.4,1410.1 1370.8,1404.6 1372.3,1394.5 1373.7,1402.4 1375.1,1408.0 1376.5,1408.4 1378.0,1406.6 1379.4,1397.1 1380.8,1408.2 1382.2,1404.1 1383.7,1395.4 1385.1,1395.3 1386.5,1398.5 1387.9,1410.0 1389.3,1394.8 1390.8,1408.5 1392.2,1410.8 1393.6,1410.6 1395.0,1406.9 1396.5,1405.7 1397.9,1396.9 1399.3,1399.3 1400.8,1397.1 1402.3,1409.1 1403.7,1412.1 1405.2,1406.3 1406.7,1405.5 1408.2,1403.0 1409.6,1410.2 1411.1,1407.5 1412.6,1401.3 1414.1,1401.0 1415.6,1396.9 1417.0,1414.7 1418.5,1399.9 1420.0,1398.0 1421.5,1410.1 1422.9,1397.1 1424.4,1402.5 1425.9,1409.8 1427.4,1400.2 1428.9,1396.6 1430.3,1412.8 1431.8,1413.6 1433.3,1411.4 1434.8,1407.9 1436.2,1400.9 1437.7,1400.2 1439.2,1399.8 1440.7,1415.7 1442.2,1407.2 1443.6,1411.1 1445.1,1417.0 1446.6,1399.4 1448.1,1412.8 1449.5,1397.1 1451.0,1414.0 1452.5,1397.7 1454.0,1411.7 1455.5,1400.1 1456.9,1417.0 1458.4,1399.4 1459.9,1401.1 1461.4,1400.6 1462.8,1411.7 1464.3,1397.6 1465.8,1415.9 1467.3,1412.4 1468.8,1409.4 1470.2,1398.9 1471.7,1402.9 1473.2,1411.9 1474.7,1415.3 1476.1,1399.1 1477.6,1415.5 1479.1,1416.5 1480.5,1410.1 1481.9,1408.7 1483.4,1403.3 1484.8,1399.6 1486.2,1410.5 1487.6,1412.6 1489.0,1410.1 1490.5,1401.6 1491.9,1410.4 1493.3,1397.6 1494.7,1398.4 1496.2,1411.0 1497.6,1410.3 1499.0,1410.9 1500.5,1407.2 1502.0,1410.3 1503.5,1396.1 1505.0,1399.6 1506.5,1400.2 1507.9,1395.5 1509.4,1409.0 1510.9,1408.5 1512.4,1407.8 1513.9,1398.7 1515.3,1396.6 1516.7,1404.4 1518.1,1404.1 1519.5,1394.1 1520.8,1402.6 1522.2,1394.9 1523.6,1397.0 1525.0,1401.6 1526.4,1401.8 1527.8,1400.7 1529.2,1399.2 1530.6,1397.0 1532.0,1396.1 1532.8,1391.5 1533.7,1388.7 1534.5,1385.1 1535.4,1378.3 1536.2,1376.6 1537.2,1377.8 1538.1,1383.4 1539.0,1388.2 1540.0,1391.4 1541.5,1390.7 1542.9,1396.2 1544.3,1395.1 1545.8,1395.2 1547.2,1397.6 1548.7,1403.8 1550.1,1400.8 1551.5,1405.4 1552.9,1405.8 1554.2,1399.3 1555.6,1398.3 1557.0,1403.2 1558.4,1406.5 1559.6,1404.6 1560.7,1399.1 1561.8,1398.3 1563.0,1397.4 1564.3,1393.6 1565.5,1396.6 1566.8,1392.7 1568.2,1391.3 1569.6,1397.6 1571.0,1396.1 1572.4,1400.0 1573.8,1400.6 1575.2,1408.7 1576.6,1406.9 1578.0,1414.0 1579.4,1410.7 1580.8,1409.9 1582.2,1411.7 1583.5,1414.3 1584.9,1417.0 1586.3,1418.7 1587.7,1413.6 1589.1,1411.7 1590.5,1417.9 1591.8,1416.9 1593.2,1415.1 1594.6,1416.3 1596.0,1411.9 1597.4,1413.4 1598.8,1407.7 1600.2,1405.8 1601.6,1403.5 1603.0,1404.0 1604.3,1404.3 1605.7,1401.9 1607.1,1413.6 1608.5,1412.3 1609.9,1405.6 1611.3,1406.2 1612.8,1408.1 1614.2,1407.9 1615.7,1412.1 1617.2,1400.4 1618.6,1398.4 1620.1,1407.5 1621.5,1396.8 1623.0,1405.7 1624.5,1396.2 1625.9,1397.7 1627.4,1398.7 1628.9,1394.9 1630.3,1400.3 1631.8,1397.4 1633.2,1394.5 1634.7,1410.1 1636.2,1407.8 1637.6,1394.5 1639.1,1402.7 1640.6,1393.6 1642.0,1401.6 1643.5,1406.9 1644.9,1407.2 1646.4,1397.1 1647.9,1395.2 1649.3,1406.2 1650.8,1407.9 1652.2,1405.0 1653.7,1393.2 1655.1,1390.8 1656.6,1400.8 1658.0,1400.1 1659.5,1394.9 1660.9,1402.4 1662.4,1409.0 1663.8,1395.7 1665.3,1407.0 1666.7,1408.5 1668.2,1397.6 1669.6,1409.9 1671.1,1404.9 1672.5,1407.1 1674.0,1398.9 1675.4,1408.2 1676.9,1409.6 1678.3,1410.7 1679.7,1409.8 1681.2,1405.3 1682.6,1409.2 1684.1,1407.6 1685.5,1399.5 1687.0,1406.8 1688.4,1404.3 1689.9,1404.8 1691.3,1398.8 1692.8,1407.1 1694.2,1408.1 1695.7,1400.3 1697.1,1407.9 1698.6,1405.2 1700.0,1397.4 1701.5,1408.2 1702.9,1393.3 1704.3,1394.3 1705.8,1404.9 1707.2,1396.0 1708.7,1391.6 1710.1,1395.9 1711.6,1392.4 1713.0,1396.7 1714.5,1390.1 1715.9,1389.6 1717.4,1408.7 1718.8,1396.1 1720.3,1400.1 1721.7,1402.8 1723.2,1405.0 1724.6,1402.9 1726.1,1395.3 1727.5,1392.0 1728.9,1398.1 1730.3,1404.6 1731.7,1404.1 1733.1,1404.4 1734.5,1396.1 1735.9,1398.0 1737.3,1406.0 1738.8,1401.3 1740.3,1401.9 1741.7,1397.4 1743.2,1403.3 1744.7,1401.5 1746.2,1403.4 1747.7,1395.2 1749.1,1399.5 1750.6,1390.8 1752.1,1395.8 1753.5,1391.2 1755.0,1390.1 1756.4,1389.2 1757.9,1396.7 1759.3,1394.4 1760.8,1389.0 1762.2,1403.0 1763.7,1399.5 1765.1,1401.0 1766.6,1391.0 1768.0,1390.6 1769.5,1401.7 1770.9,1406.2 1772.4,1400.5 1773.8,1388.7 1775.3,1402.7 1776.7,1402.4 1778.2,1402.0 1779.7,1401.6 1781.2,1404.1 1782.7,1396.0 1784.1,1403.0 1785.6,1406.7 1787.1,1406.5 1788.6,1404.3 1790.1,1390.4 1791.6,1405.1 1793.1,1405.4 1794.6,1397.4 1796.0,1408.4 1797.5,1396.1 1799.0,1402.8 1800.5,1403.7 1802.0,1392.7 1803.5,1402.3 1805.0,1402.1 1806.5,1390.9 1807.9,1389.8 1809.4,1399.9 1810.9,1393.5 1812.4,1389.8 1813.9,1404.3 1815.4,1391.4 1816.9,1407.6 1818.4,1397.6 1819.8,1389.4 1821.3,1404.9 1822.8,1390.5 1824.3,1395.3 1825.8,1395.4 1827.3,1390.5 1828.8,1398.4 1830.3,1404.8 1831.8,1401.0 1833.3,1401.4 1834.7,1409.1 1836.2,1408.6 1837.7,1401.0 1839.2,1394.5 1840.7,1409.0 1842.2,1393.6 1843.7,1391.7 1845.2,1391.5 1846.7,1394.2 1848.2,1392.5 1849.7,1390.9 1851.1,1395.4 1852.6,1391.7 1854.1,1399.9 1855.6,1398.8 1857.1,1396.4 1858.6,1388.6 1860.1,1390.7 1861.6,1401.5 1863.1,1392.7 1864.6,1389.6 1866.1,1396.0 1867.5,1408.3 1869.0,1403.9 1870.5,1388.8 1872.0,1402.6 1873.5,1406.0 1875.0,1402.3 1876.5,1406.4 1878.0,1401.2 1879.5,1403.2 1881.0,1400.6 1882.4,1393.2 1883.9,1388.6 1885.4,1392.2 1886.9,1402.6 1888.4,1407.7 1889.9,1395.4 1891.4,1393.0 1892.9,1389.7 1894.3,1404.6 1895.8,1401.0 1897.3,1390.8 1898.8,1388.8 1900.3,1392.3 1901.8,1404.0 1903.3,1407.0 1904.8,1403.6 1906.2,1409.0 1907.7,1400.7 1909.2,1406.8 1910.7,1405.7 1912.2,1407.9 1913.7,1404.8 1915.2,1400.8 1916.7,1406.3 1918.1,1402.4 1919.6,1407.2 1921.1,1391.8 1922.6,1406.6 1924.1,1401.6 1925.6,1394.4 1927.1,1406.2 1928.6,1408.4 1930.1,1389.4 1931.6,1406.5 1933.0,1389.0 1934.5,1388.2 1936.0,1397.4 1937.5,1407.0 1939.0,1404.5 1940.5,1406.6 1942.0,1409.6 1943.5,1410.0 1945.0,1407.3 1946.5,1395.2 1948.0,1389.4 1949.4,1396.6 1950.9,1395.3 1952.4,1392.0 1953.9,1400.9 1955.4,1408.8 1956.9,1399.1 1958.4,1402.6 1959.9,1388.9 1961.4,1389.2 1962.9,1409.2 1964.4,1389.1 1965.8,1389.7 1967.3,1409.1 1968.8,1408.5 1970.3,1406.3 1971.8,1403.3 1973.3,1409.9 1974.8,1397.2 1976.3,1392.7 1977.8,1389.8 1979.3,1395.2 1980.8,1391.1 1982.2,1396.3 1983.7,1408.8 1985.2,1390.0 1986.7,1400.0 1988.2,1402.9 1989.7,1402.9 1991.2,1389.2 1992.7,1405.1 1994.2,1393.0 1995.7,1393.1 1997.2,1392.2 1998.6,1390.0 2000.1,1390.4 2001.6,1393.4 2003.1,1396.9 2004.6,1391.5 2006.1,1401.3 2007.6,1388.6 2009.1,1399.8 2010.6,1391.8 2012.1,1388.4 2013.6,1389.2 2015.0,1399.3 2016.5,1399.1 2018.0,1394.3 2019.5,1391.2 2021.0,1404.1 2022.5,1399.7 2024.0,1403.6 2025.5,1402.9 2027.0,1405.4 2028.5,1388.3 2029.9,1387.4 2031.4,1407.6 2032.9,1395.1 2034.4,1392.6 2035.9,1401.6 2037.4,1401.9 2038.9,1391.1 2040.4,1392.2 2041.8,1395.2 2043.3,1404.9 2044.8,1388.4 2046.3,1406.3 2047.8,1389.6 2049.3,1387.6 2050.8,1401.3 2052.3,1388.6 2053.7,1399.5 2055.2,1398.7 2056.7,1390.1 2058.2,1395.4 2059.7,1394.3 2061.2,1402.4 2062.7,1398.8 2064.2,1405.7 2065.6,1403.4 2067.1,1394.4 2068.6,1386.7 2070.1,1388.9 2071.6,1404.4 2073.1,1392.0 2074.6,1395.5 2076.1,1400.9 2077.6,1398.3 2079.1,1404.6 2080.6,1402.2 2082.1,1398.9 2083.5,1394.0 2085.0,1395.9 2086.5,1392.4 2088.0,1386.9 2089.5,1393.0 2091.0,1385.9 2092.5,1401.8 2094.0,1397.5" stroke="#0000ff" stroke-width="2.2" fill="none" stroke-linejoin="bevel"/>
<path d="M492.5,1413.5V1428.0 M1809.8,1398.8V1415.2 M1878.7,1398.1V1421.4" stroke="#0000ff" stroke-width="5" fill="none"/><text x="276" y="113.7" font-family="'Liberation Sans', Arial, sans-serif" font-size="53.5" text-anchor="end" fill="#000">−400</text><text x="276" y="238.8" font-family="'Liberation Sans', Arial, sans-serif" font-size="53.5" text-anchor="end" fill="#000">−405</text><text x="276" y="364.0" font-family="'Liberation Sans', Arial, sans-serif" font-size="53.5" text-anchor="end" fill="#000">−410</text><text x="276" y="489.2" font-family="'Liberation Sans', Arial, sans-serif" font-size="53.5" text-anchor="end" fill="#000">−415</text><text x="276" y="614.3" font-family="'Liberation Sans', Arial, sans-serif" font-size="53.5" text-anchor="end" fill="#000">−420</text><text x="276" y="739.5" font-family="'Liberation Sans', Arial, sans-serif" font-size="53.5" text-anchor="end" fill="#000">−425</text><text x="276" y="864.6" font-family="'Liberation Sans', Arial, sans-serif" font-size="53.5" text-anchor="end" fill="#000">−430</text><text x="276" y="989.8" font-family="'Liberation Sans', Arial, sans-serif" font-size="53.5" text-anchor="end" fill="#000">−435</text><text x="276" y="1114.9" font-family="'Liberation Sans', Arial, sans-serif" font-size="53.5" text-anchor="end" fill="#000">−440</text><text x="276" y="1240.1" font-family="'Liberation Sans', Arial, sans-serif" font-size="53.5" text-anchor="end" fill="#000">−445</text><text x="276" y="1365.2" font-family="'Liberation Sans', Arial, sans-serif" font-size="53.5" text-anchor="end" fill="#000">−450</text><text x="276" y="1490.4" font-family="'Liberation Sans', Arial, sans-serif" font-size="53.5" text-anchor="end" fill="#000">−455</text><text x="324.7" y="1613.8" font-family="'Liberation Sans', Arial, sans-serif" font-size="53.5" text-anchor="middle" fill="#000">0</text><text x="521.5" y="1613.8" font-family="'Liberation Sans', Arial, sans-serif" font-size="53.5" text-anchor="middle" fill="#000">200</text><text x="718.2" y="1613.8" font-family="'Liberation Sans', Arial, sans-serif" font-size="53.5" text-anchor="middle" fill="#000">400</text><text x="915.0" y="1613.8" font-family="'Liberation Sans', Arial, sans-serif" font-size="53.5" text-anchor="middle" fill="#000">600</text><text x="1111.7" y="1613.8" font-family="'Liberation Sans', Arial, sans-serif" font-size="53.5" text-anchor="middle" fill="#000">800</text><text x="1308.5" y="1613.8" font-family="'Liberation Sans', Arial, sans-serif" font-size="53.5" text-anchor="middle" fill="#000">1000</text><text x="1505.2" y="1613.8" font-family="'Liberation Sans', Arial, sans-serif" font-size="53.5" text-anchor="middle" fill="#000">1200</text><text x="1702.0" y="1613.8" font-family="'Liberation Sans', Arial, sans-serif" font-size="53.5" text-anchor="middle" fill="#000">1400</text><text x="1898.7" y="1613.8" font-family="'Liberation Sans', Arial, sans-serif" font-size="53.5" text-anchor="middle" fill="#000">1600</text><text x="2095.5" y="1613.8" font-family="'Liberation Sans', Arial, sans-serif" font-size="53.5" text-anchor="middle" fill="#000">1800</text><text x="1033.5" y="1691.5" font-family="'Liberation Sans', Arial, sans-serif" font-size="68.6" fill="#000">Time [sec.]</text><text transform="translate(107.5,902) rotate(-90)" x="0" y="0" font-family="'Liberation Sans', Arial, sans-serif" font-size="68.6" fill="#000">Potential [mV]</text><text x="680" y="639" font-family="'Liberation Sans', Arial, sans-serif" font-size="74.2" fill="#000">Pt-OH-3MeOPP</text><text x="681.5" y="1287" font-family="'Liberation Sans', Arial, sans-serif" font-size="74" fill="#000">OH-3MeOPP</text><text x="681.5" y="1375" font-family="'Liberation Sans', Arial, sans-serif" font-size="74" fill="#000">OL</text><path d="M502,681L684.4,624.5 M605.7,1075.7L679,1227.6 M675.8,1379.5L622.6,1445.7" stroke="#444" stroke-width="2" fill="none"/></svg>
</body></html>
